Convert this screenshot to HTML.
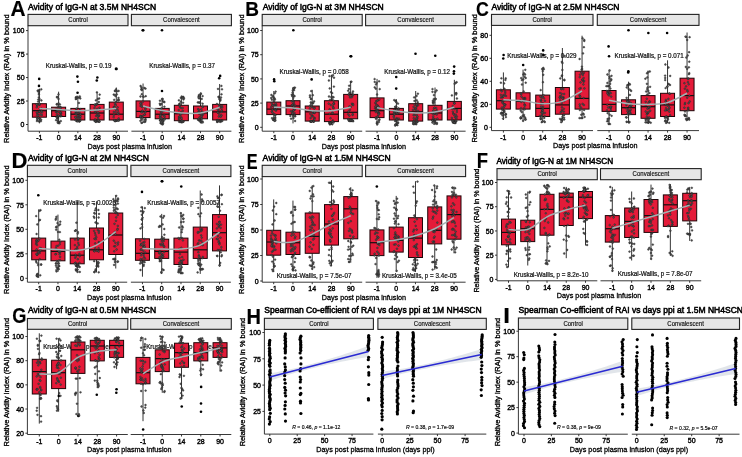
<!DOCTYPE html>
<html><head><meta charset="utf-8"><style>
html,body{margin:0;padding:0;background:#fff;width:742px;height:457px;overflow:hidden}
svg{display:block;font-family:"Liberation Sans", sans-serif;filter:blur(0.5px)}
text{fill:#000;stroke:#000;text-anchor:middle}
.L{font-size:20px;font-weight:bold;stroke-width:.15px}
.ti{font-size:9.2px;stroke-width:.55px}
.tk{font-size:7.5px;stroke-width:.4px}
.st{font-size:6.5px;stroke-width:.15px;fill:#111;stroke:#111}
.kw{font-size:6.75px;stroke-width:.22px;fill:#111;stroke:#111}
.yl{font-size:7.4px;stroke-width:.32px}
.xl{font-size:7.8px;stroke-width:.3px}
.rt{font-size:5.1px;stroke-width:.15px}
</style></head><body>
<svg width="742" height="457" viewBox="0 0 742 457">
<rect width="742" height="457" fill="#fff"/>
<text class="L" transform="matrix(1.0448 0 0 1.0688 10.48 15.80)" x="0" y="0" style="text-anchor:start">A</text>
<text class="ti" transform="matrix(0.9300 0 0 1.0000 28.0 10.0)" style="text-anchor:start">Avidity of IgG-N at 3.5M NH4SCN</text>
<rect x="28.00" y="14.40" width="100.00" height="11.30" fill="#e6e6e6" stroke="#222" stroke-width="1.1"/>
<text class="st" transform="matrix(.93 0 0 1 78.0 22.2)">Control</text>
<rect x="131.40" y="14.40" width="100.00" height="11.30" fill="#e6e6e6" stroke="#222" stroke-width="1.1"/>
<text class="st" transform="matrix(.93 0 0 1 181.4 22.2)">Convalescent</text>
<text class="yl" x="8.9" y="78.7" transform="rotate(-90 8.9 78.7)">Relative Avidity Index (RAI) in % bound</text>
<line x1="28.00" y1="25.70" x2="28.00" y2="131.20" stroke="#222" stroke-width="0.9"/>
<line x1="26.00" y1="124.50" x2="28.00" y2="124.50" stroke="#222" stroke-width="0.9"/>
<text class="tk" transform="matrix(.93 0 0 1 24.5 127.2)" style="text-anchor:end">0</text>
<line x1="26.00" y1="101.03" x2="28.00" y2="101.03" stroke="#222" stroke-width="0.9"/>
<text class="tk" transform="matrix(.93 0 0 1 24.5 103.7)" style="text-anchor:end">25</text>
<line x1="26.00" y1="77.55" x2="28.00" y2="77.55" stroke="#222" stroke-width="0.9"/>
<text class="tk" transform="matrix(.93 0 0 1 24.5 80.2)" style="text-anchor:end">50</text>
<line x1="26.00" y1="54.08" x2="28.00" y2="54.08" stroke="#222" stroke-width="0.9"/>
<text class="tk" transform="matrix(.93 0 0 1 24.5 56.8)" style="text-anchor:end">75</text>
<line x1="26.00" y1="30.60" x2="28.00" y2="30.60" stroke="#222" stroke-width="0.9"/>
<text class="tk" transform="matrix(.93 0 0 1 24.5 33.3)" style="text-anchor:end">100</text>
<line x1="28.00" y1="131.20" x2="128.00" y2="131.20" stroke="#222" stroke-width="0.9"/>
<line x1="39.40" y1="131.20" x2="39.40" y2="133.20" stroke="#222" stroke-width="0.9"/>
<text class="tk" transform="matrix(.93 0 0 1 39.4 140.4)">-1</text>
<line x1="58.62" y1="131.20" x2="58.62" y2="133.20" stroke="#222" stroke-width="0.9"/>
<text class="tk" transform="matrix(.93 0 0 1 58.6 140.4)">0</text>
<line x1="77.85" y1="131.20" x2="77.85" y2="133.20" stroke="#222" stroke-width="0.9"/>
<text class="tk" transform="matrix(.93 0 0 1 77.8 140.4)">14</text>
<line x1="97.08" y1="131.20" x2="97.08" y2="133.20" stroke="#222" stroke-width="0.9"/>
<text class="tk" transform="matrix(.93 0 0 1 97.1 140.4)">28</text>
<line x1="116.30" y1="131.20" x2="116.30" y2="133.20" stroke="#222" stroke-width="0.9"/>
<text class="tk" transform="matrix(.93 0 0 1 116.3 140.4)">90</text>
<line x1="131.40" y1="131.20" x2="231.40" y2="131.20" stroke="#222" stroke-width="0.9"/>
<line x1="143.05" y1="131.20" x2="143.05" y2="133.20" stroke="#222" stroke-width="0.9"/>
<text class="tk" transform="matrix(.93 0 0 1 143.1 140.4)">-1</text>
<line x1="162.20" y1="131.20" x2="162.20" y2="133.20" stroke="#222" stroke-width="0.9"/>
<text class="tk" transform="matrix(.93 0 0 1 162.2 140.4)">0</text>
<line x1="181.35" y1="131.20" x2="181.35" y2="133.20" stroke="#222" stroke-width="0.9"/>
<text class="tk" transform="matrix(.93 0 0 1 181.4 140.4)">14</text>
<line x1="200.50" y1="131.20" x2="200.50" y2="133.20" stroke="#222" stroke-width="0.9"/>
<text class="tk" transform="matrix(.93 0 0 1 200.5 140.4)">28</text>
<line x1="219.65" y1="131.20" x2="219.65" y2="133.20" stroke="#222" stroke-width="0.9"/>
<text class="tk" transform="matrix(.93 0 0 1 219.7 140.4)">90</text>
<text class="xl" transform="matrix(.93 0 0 1 129.7 148.8)">Days post plasma infusion</text>
<text class="kw" transform="matrix(.93 0 0 1 78.6 68.1)">Kruskal-Wallis, p = 0.19</text>
<line x1="39.40" y1="88.60" x2="39.40" y2="103.70" stroke="#000" stroke-width="0.8"/>
<line x1="39.40" y1="117.20" x2="39.40" y2="123.40" stroke="#000" stroke-width="0.8"/>
<rect x="32.40" y="103.70" width="14.00" height="13.50" fill="#e41b39" stroke="#1e0508" stroke-width="1.0"/>
<line x1="32.40" y1="110.70" x2="46.40" y2="110.70" stroke="#111" stroke-width="1.2"/>
<circle cx="39.19" cy="78.90" r="1.3" fill="#000"/>
<circle cx="38.98" cy="85.90" r="1.3" fill="#000"/>
<line x1="58.62" y1="91.70" x2="58.62" y2="107.20" stroke="#000" stroke-width="0.8"/>
<line x1="58.62" y1="116.50" x2="58.62" y2="123.40" stroke="#000" stroke-width="0.8"/>
<rect x="51.62" y="107.20" width="14.00" height="9.30" fill="#e41b39" stroke="#1e0508" stroke-width="1.0"/>
<line x1="51.62" y1="110.70" x2="65.62" y2="110.70" stroke="#111" stroke-width="1.2"/>
<line x1="77.85" y1="95.60" x2="77.85" y2="108.40" stroke="#000" stroke-width="0.8"/>
<line x1="77.85" y1="120.00" x2="77.85" y2="121.60" stroke="#000" stroke-width="0.8"/>
<rect x="70.85" y="108.40" width="14.00" height="11.60" fill="#e41b39" stroke="#1e0508" stroke-width="1.0"/>
<line x1="70.85" y1="114.20" x2="84.85" y2="114.20" stroke="#111" stroke-width="1.2"/>
<circle cx="77.38" cy="76.60" r="1.3" fill="#000"/>
<circle cx="77.92" cy="81.70" r="1.3" fill="#000"/>
<circle cx="77.55" cy="92.80" r="1.3" fill="#000"/>
<line x1="97.08" y1="92.10" x2="97.08" y2="104.40" stroke="#000" stroke-width="0.8"/>
<line x1="97.08" y1="120.00" x2="97.08" y2="122.00" stroke="#000" stroke-width="0.8"/>
<rect x="90.08" y="104.40" width="14.00" height="15.60" fill="#e41b39" stroke="#1e0508" stroke-width="1.0"/>
<line x1="90.08" y1="113.00" x2="104.08" y2="113.00" stroke="#111" stroke-width="1.2"/>
<circle cx="97.36" cy="77.50" r="1.3" fill="#000"/>
<circle cx="96.78" cy="80.50" r="1.3" fill="#000"/>
<line x1="116.30" y1="87.50" x2="116.30" y2="102.10" stroke="#000" stroke-width="0.8"/>
<line x1="116.30" y1="120.00" x2="116.30" y2="121.60" stroke="#000" stroke-width="0.8"/>
<rect x="109.30" y="102.10" width="14.00" height="17.90" fill="#e41b39" stroke="#1e0508" stroke-width="1.0"/>
<line x1="109.30" y1="114.20" x2="123.30" y2="114.20" stroke="#111" stroke-width="1.2"/>
<circle cx="116.54" cy="68.90" r="1.3" fill="#000"/>
<circle cx="115.98" cy="68.90" r="1.3" fill="#000"/>
<g fill="#555" stroke="#1a1a1a" stroke-width=".4"><circle cx="39.6" cy="104.7" r=".9"/><circle cx="39.4" cy="104.5" r=".9"/><circle cx="37.1" cy="119.9" r=".9"/><circle cx="41.2" cy="119.8" r=".9"/><circle cx="40.1" cy="118.6" r=".9"/><circle cx="38.8" cy="97.3" r=".9"/><circle cx="41.3" cy="89.3" r=".9"/><circle cx="37.3" cy="105.6" r=".9"/><circle cx="37.7" cy="114.7" r=".9"/><circle cx="38.7" cy="112.3" r=".9"/><circle cx="37.0" cy="104.5" r=".9"/><circle cx="39.0" cy="121.4" r=".9"/><circle cx="39.1" cy="111.6" r=".9"/><circle cx="40.5" cy="114.4" r=".9"/><circle cx="39.5" cy="120.8" r=".9"/><circle cx="38.3" cy="99.6" r=".9"/><circle cx="39.0" cy="90.4" r=".9"/><circle cx="39.3" cy="90.9" r=".9"/><circle cx="40.8" cy="121.3" r=".9"/><circle cx="38.4" cy="115.5" r=".9"/><circle cx="39.8" cy="111.7" r=".9"/><circle cx="41.8" cy="115.0" r=".9"/><circle cx="37.0" cy="112.7" r=".9"/><circle cx="42.1" cy="112.4" r=".9"/><circle cx="38.8" cy="92.9" r=".9"/><circle cx="39.2" cy="104.0" r=".9"/><circle cx="37.0" cy="117.9" r=".9"/><circle cx="38.0" cy="90.6" r=".9"/><circle cx="37.1" cy="115.5" r=".9"/><circle cx="41.5" cy="111.1" r=".9"/><circle cx="38.2" cy="101.6" r=".9"/><circle cx="41.5" cy="108.5" r=".9"/><circle cx="37.7" cy="90.9" r=".9"/><circle cx="39.3" cy="118.6" r=".9"/><circle cx="36.7" cy="107.2" r=".9"/><circle cx="39.8" cy="108.7" r=".9"/><circle cx="39.5" cy="99.0" r=".9"/><circle cx="37.0" cy="112.8" r=".9"/><circle cx="41.4" cy="100.4" r=".9"/><circle cx="38.9" cy="94.5" r=".9"/><circle cx="37.0" cy="121.1" r=".9"/><circle cx="37.6" cy="118.5" r=".9"/><circle cx="36.7" cy="104.4" r=".9"/><circle cx="38.7" cy="117.8" r=".9"/><circle cx="59.2" cy="122.5" r=".9"/><circle cx="57.8" cy="118.2" r=".9"/><circle cx="60.5" cy="108.3" r=".9"/><circle cx="58.5" cy="98.9" r=".9"/><circle cx="57.8" cy="117.2" r=".9"/><circle cx="56.8" cy="114.9" r=".9"/><circle cx="58.8" cy="123.1" r=".9"/><circle cx="56.1" cy="120.2" r=".9"/><circle cx="60.6" cy="116.3" r=".9"/><circle cx="57.9" cy="109.6" r=".9"/><circle cx="58.8" cy="121.8" r=".9"/><circle cx="57.1" cy="96.8" r=".9"/><circle cx="60.5" cy="107.0" r=".9"/><circle cx="59.9" cy="104.4" r=".9"/><circle cx="57.8" cy="120.1" r=".9"/><circle cx="57.4" cy="116.7" r=".9"/><circle cx="61.1" cy="113.6" r=".9"/><circle cx="61.3" cy="115.9" r=".9"/><circle cx="57.1" cy="97.4" r=".9"/><circle cx="57.0" cy="117.9" r=".9"/><circle cx="60.5" cy="115.6" r=".9"/><circle cx="60.2" cy="113.3" r=".9"/><circle cx="60.8" cy="121.1" r=".9"/><circle cx="58.5" cy="103.3" r=".9"/><circle cx="57.7" cy="121.9" r=".9"/><circle cx="58.1" cy="106.8" r=".9"/><circle cx="59.8" cy="116.0" r=".9"/><circle cx="56.7" cy="117.4" r=".9"/><circle cx="56.7" cy="104.2" r=".9"/><circle cx="59.5" cy="106.9" r=".9"/><circle cx="56.6" cy="112.3" r=".9"/><circle cx="59.4" cy="123.2" r=".9"/><circle cx="58.3" cy="115.9" r=".9"/><circle cx="57.1" cy="104.5" r=".9"/><circle cx="57.2" cy="109.9" r=".9"/><circle cx="58.2" cy="109.6" r=".9"/><circle cx="57.8" cy="122.8" r=".9"/><circle cx="60.8" cy="112.6" r=".9"/><circle cx="58.6" cy="115.7" r=".9"/><circle cx="56.0" cy="112.1" r=".9"/><circle cx="55.9" cy="108.9" r=".9"/><circle cx="58.5" cy="94.4" r=".9"/><circle cx="57.7" cy="112.4" r=".9"/><circle cx="60.2" cy="112.4" r=".9"/><circle cx="77.9" cy="117.4" r=".9"/><circle cx="80.1" cy="117.2" r=".9"/><circle cx="77.9" cy="115.5" r=".9"/><circle cx="77.6" cy="116.4" r=".9"/><circle cx="80.2" cy="113.9" r=".9"/><circle cx="80.2" cy="118.6" r=".9"/><circle cx="80.2" cy="114.9" r=".9"/><circle cx="75.8" cy="97.4" r=".9"/><circle cx="76.4" cy="109.2" r=".9"/><circle cx="79.4" cy="121.1" r=".9"/><circle cx="79.0" cy="97.6" r=".9"/><circle cx="79.9" cy="110.1" r=".9"/><circle cx="80.3" cy="98.4" r=".9"/><circle cx="80.5" cy="114.1" r=".9"/><circle cx="77.5" cy="97.7" r=".9"/><circle cx="76.2" cy="112.3" r=".9"/><circle cx="75.3" cy="116.8" r=".9"/><circle cx="75.2" cy="113.5" r=".9"/><circle cx="77.9" cy="115.6" r=".9"/><circle cx="79.4" cy="121.6" r=".9"/><circle cx="76.6" cy="96.9" r=".9"/><circle cx="76.6" cy="121.2" r=".9"/><circle cx="80.1" cy="120.7" r=".9"/><circle cx="76.0" cy="98.9" r=".9"/><circle cx="78.9" cy="102.9" r=".9"/><circle cx="78.9" cy="120.1" r=".9"/><circle cx="80.2" cy="109.2" r=".9"/><circle cx="75.6" cy="117.7" r=".9"/><circle cx="79.8" cy="96.5" r=".9"/><circle cx="78.1" cy="112.3" r=".9"/><circle cx="75.8" cy="99.0" r=".9"/><circle cx="75.7" cy="111.2" r=".9"/><circle cx="76.2" cy="120.1" r=".9"/><circle cx="79.3" cy="111.9" r=".9"/><circle cx="76.1" cy="114.2" r=".9"/><circle cx="76.5" cy="108.6" r=".9"/><circle cx="78.1" cy="121.2" r=".9"/><circle cx="80.2" cy="120.8" r=".9"/><circle cx="77.5" cy="121.3" r=".9"/><circle cx="77.3" cy="118.1" r=".9"/><circle cx="80.5" cy="116.4" r=".9"/><circle cx="79.0" cy="118.1" r=".9"/><circle cx="77.0" cy="113.1" r=".9"/><circle cx="75.5" cy="120.2" r=".9"/><circle cx="98.9" cy="120.2" r=".9"/><circle cx="95.9" cy="100.3" r=".9"/><circle cx="96.9" cy="120.6" r=".9"/><circle cx="95.8" cy="120.9" r=".9"/><circle cx="97.3" cy="104.1" r=".9"/><circle cx="96.0" cy="121.9" r=".9"/><circle cx="96.4" cy="104.4" r=".9"/><circle cx="95.5" cy="112.2" r=".9"/><circle cx="95.8" cy="104.5" r=".9"/><circle cx="94.6" cy="120.8" r=".9"/><circle cx="95.6" cy="120.6" r=".9"/><circle cx="98.4" cy="112.7" r=".9"/><circle cx="99.1" cy="115.6" r=".9"/><circle cx="99.7" cy="109.5" r=".9"/><circle cx="97.8" cy="121.4" r=".9"/><circle cx="99.2" cy="121.7" r=".9"/><circle cx="98.8" cy="115.8" r=".9"/><circle cx="97.1" cy="121.0" r=".9"/><circle cx="98.8" cy="102.0" r=".9"/><circle cx="98.1" cy="118.3" r=".9"/><circle cx="94.5" cy="108.0" r=".9"/><circle cx="94.9" cy="120.7" r=".9"/><circle cx="97.8" cy="99.0" r=".9"/><circle cx="97.0" cy="115.0" r=".9"/><circle cx="98.4" cy="121.6" r=".9"/><circle cx="97.9" cy="112.7" r=".9"/><circle cx="95.7" cy="121.5" r=".9"/><circle cx="98.3" cy="120.5" r=".9"/><circle cx="99.6" cy="121.5" r=".9"/><circle cx="97.0" cy="110.4" r=".9"/><circle cx="97.7" cy="116.4" r=".9"/><circle cx="95.2" cy="105.6" r=".9"/><circle cx="96.0" cy="116.0" r=".9"/><circle cx="94.7" cy="104.6" r=".9"/><circle cx="98.1" cy="114.9" r=".9"/><circle cx="97.2" cy="108.9" r=".9"/><circle cx="95.0" cy="111.7" r=".9"/><circle cx="99.7" cy="94.6" r=".9"/><circle cx="96.9" cy="92.3" r=".9"/><circle cx="96.8" cy="104.0" r=".9"/><circle cx="99.5" cy="107.7" r=".9"/><circle cx="95.1" cy="121.2" r=".9"/><circle cx="95.1" cy="119.3" r=".9"/><circle cx="99.2" cy="98.4" r=".9"/><circle cx="113.7" cy="94.6" r=".9"/><circle cx="116.0" cy="120.8" r=".9"/><circle cx="115.5" cy="104.6" r=".9"/><circle cx="113.6" cy="117.1" r=".9"/><circle cx="114.2" cy="99.8" r=".9"/><circle cx="118.5" cy="97.9" r=".9"/><circle cx="115.7" cy="108.8" r=".9"/><circle cx="115.5" cy="96.1" r=".9"/><circle cx="113.9" cy="107.0" r=".9"/><circle cx="115.1" cy="121.3" r=".9"/><circle cx="115.0" cy="91.1" r=".9"/><circle cx="115.6" cy="105.5" r=".9"/><circle cx="118.0" cy="100.4" r=".9"/><circle cx="118.7" cy="118.5" r=".9"/><circle cx="113.9" cy="115.0" r=".9"/><circle cx="117.7" cy="110.2" r=".9"/><circle cx="113.9" cy="107.2" r=".9"/><circle cx="116.1" cy="89.4" r=".9"/><circle cx="117.6" cy="107.4" r=".9"/><circle cx="117.1" cy="91.3" r=".9"/><circle cx="115.7" cy="112.1" r=".9"/><circle cx="114.7" cy="120.3" r=".9"/><circle cx="114.8" cy="94.8" r=".9"/><circle cx="116.0" cy="102.0" r=".9"/><circle cx="114.1" cy="120.3" r=".9"/><circle cx="114.9" cy="103.7" r=".9"/><circle cx="118.4" cy="112.3" r=".9"/><circle cx="115.8" cy="109.5" r=".9"/><circle cx="115.4" cy="108.8" r=".9"/><circle cx="118.8" cy="120.4" r=".9"/><circle cx="117.0" cy="120.8" r=".9"/><circle cx="115.1" cy="90.7" r=".9"/><circle cx="116.0" cy="120.6" r=".9"/><circle cx="118.3" cy="99.9" r=".9"/><circle cx="117.4" cy="120.1" r=".9"/><circle cx="116.8" cy="94.4" r=".9"/><circle cx="118.6" cy="120.6" r=".9"/><circle cx="118.9" cy="100.0" r=".9"/><circle cx="114.4" cy="120.2" r=".9"/><circle cx="118.7" cy="114.3" r=".9"/><circle cx="117.7" cy="113.7" r=".9"/><circle cx="113.8" cy="112.0" r=".9"/><circle cx="118.6" cy="90.9" r=".9"/><circle cx="114.3" cy="107.5" r=".9"/></g>
<path d="M39.40,108.40 C42.60,108.58 52.22,109.12 58.62,109.50 C65.03,109.88 71.44,110.62 77.85,110.70 C84.26,110.78 90.67,110.38 97.08,110.00 C103.48,109.62 113.10,108.67 116.30,108.40" fill="none" stroke="#a3b0b2" stroke-width="1.5"/>
<text class="kw" transform="matrix(.93 0 0 1 182.2 68.1)">Kruskal-Wallis, p = 0.37</text>
<line x1="143.05" y1="83.50" x2="143.05" y2="100.90" stroke="#000" stroke-width="0.8"/>
<line x1="143.05" y1="117.60" x2="143.05" y2="123.00" stroke="#000" stroke-width="0.8"/>
<rect x="136.05" y="100.90" width="14.00" height="16.70" fill="#e41b39" stroke="#1e0508" stroke-width="1.0"/>
<line x1="136.05" y1="111.40" x2="150.05" y2="111.40" stroke="#111" stroke-width="1.2"/>
<circle cx="142.75" cy="30.20" r="1.3" fill="#000"/>
<circle cx="143.21" cy="30.20" r="1.3" fill="#000"/>
<line x1="162.20" y1="97.90" x2="162.20" y2="108.40" stroke="#000" stroke-width="0.8"/>
<line x1="162.20" y1="118.80" x2="162.20" y2="124.60" stroke="#000" stroke-width="0.8"/>
<rect x="155.20" y="108.40" width="14.00" height="10.40" fill="#e41b39" stroke="#1e0508" stroke-width="1.0"/>
<line x1="155.20" y1="114.20" x2="169.20" y2="114.20" stroke="#111" stroke-width="1.2"/>
<circle cx="161.99" cy="91.00" r="1.3" fill="#000"/>
<circle cx="161.98" cy="30.20" r="1.3" fill="#000"/>
<line x1="181.35" y1="95.60" x2="181.35" y2="105.30" stroke="#000" stroke-width="0.8"/>
<line x1="181.35" y1="120.70" x2="181.35" y2="122.30" stroke="#000" stroke-width="0.8"/>
<rect x="174.35" y="105.30" width="14.00" height="15.40" fill="#e41b39" stroke="#1e0508" stroke-width="1.0"/>
<line x1="174.35" y1="113.70" x2="188.35" y2="113.70" stroke="#111" stroke-width="1.2"/>
<line x1="200.50" y1="93.30" x2="200.50" y2="106.00" stroke="#000" stroke-width="0.8"/>
<line x1="200.50" y1="118.80" x2="200.50" y2="123.00" stroke="#000" stroke-width="0.8"/>
<rect x="193.50" y="106.00" width="14.00" height="12.80" fill="#e41b39" stroke="#1e0508" stroke-width="1.0"/>
<line x1="193.50" y1="113.00" x2="207.50" y2="113.00" stroke="#111" stroke-width="1.2"/>
<line x1="219.65" y1="84.00" x2="219.65" y2="104.40" stroke="#000" stroke-width="0.8"/>
<line x1="219.65" y1="120.00" x2="219.65" y2="122.30" stroke="#000" stroke-width="0.8"/>
<rect x="212.65" y="104.40" width="14.00" height="15.60" fill="#e41b39" stroke="#1e0508" stroke-width="1.0"/>
<line x1="212.65" y1="111.90" x2="226.65" y2="111.90" stroke="#111" stroke-width="1.2"/>
<circle cx="220.18" cy="75.90" r="1.3" fill="#000"/>
<circle cx="219.18" cy="78.20" r="1.3" fill="#000"/>
<g fill="#555" stroke="#1a1a1a" stroke-width=".4"><circle cx="140.7" cy="102.8" r=".9"/><circle cx="142.4" cy="110.6" r=".9"/><circle cx="140.4" cy="120.8" r=".9"/><circle cx="145.5" cy="108.6" r=".9"/><circle cx="142.9" cy="115.7" r=".9"/><circle cx="145.5" cy="118.9" r=".9"/><circle cx="140.5" cy="106.0" r=".9"/><circle cx="142.6" cy="112.2" r=".9"/><circle cx="145.3" cy="112.0" r=".9"/><circle cx="142.2" cy="117.8" r=".9"/><circle cx="141.4" cy="112.3" r=".9"/><circle cx="143.1" cy="96.4" r=".9"/><circle cx="142.0" cy="122.8" r=".9"/><circle cx="141.5" cy="87.5" r=".9"/><circle cx="145.5" cy="88.6" r=".9"/><circle cx="141.6" cy="104.0" r=".9"/><circle cx="145.5" cy="112.0" r=".9"/><circle cx="141.5" cy="119.7" r=".9"/><circle cx="140.6" cy="86.0" r=".9"/><circle cx="145.2" cy="119.7" r=".9"/><circle cx="145.7" cy="96.2" r=".9"/><circle cx="141.4" cy="89.2" r=".9"/><circle cx="140.5" cy="96.5" r=".9"/><circle cx="142.4" cy="107.2" r=".9"/><circle cx="140.4" cy="103.7" r=".9"/><circle cx="145.5" cy="106.8" r=".9"/><circle cx="141.5" cy="122.8" r=".9"/><circle cx="144.8" cy="114.6" r=".9"/><circle cx="142.9" cy="101.7" r=".9"/><circle cx="141.4" cy="116.3" r=".9"/><circle cx="140.5" cy="115.9" r=".9"/><circle cx="144.5" cy="114.5" r=".9"/><circle cx="140.7" cy="117.8" r=".9"/><circle cx="144.4" cy="88.0" r=".9"/><circle cx="141.8" cy="89.4" r=".9"/><circle cx="141.8" cy="94.2" r=".9"/><circle cx="141.8" cy="106.2" r=".9"/><circle cx="145.3" cy="121.7" r=".9"/><circle cx="140.5" cy="116.7" r=".9"/><circle cx="145.5" cy="120.2" r=".9"/><circle cx="141.7" cy="90.2" r=".9"/><circle cx="145.4" cy="109.1" r=".9"/><circle cx="144.3" cy="121.9" r=".9"/><circle cx="143.6" cy="96.9" r=".9"/><circle cx="159.9" cy="116.5" r=".9"/><circle cx="160.8" cy="123.2" r=".9"/><circle cx="162.5" cy="119.0" r=".9"/><circle cx="164.3" cy="118.6" r=".9"/><circle cx="160.0" cy="100.7" r=".9"/><circle cx="163.3" cy="121.7" r=".9"/><circle cx="161.8" cy="110.8" r=".9"/><circle cx="163.5" cy="115.4" r=".9"/><circle cx="160.2" cy="104.9" r=".9"/><circle cx="162.6" cy="101.0" r=".9"/><circle cx="160.6" cy="116.1" r=".9"/><circle cx="160.3" cy="120.2" r=".9"/><circle cx="161.3" cy="104.0" r=".9"/><circle cx="162.2" cy="118.7" r=".9"/><circle cx="163.0" cy="123.5" r=".9"/><circle cx="162.1" cy="99.0" r=".9"/><circle cx="164.4" cy="106.7" r=".9"/><circle cx="160.1" cy="120.5" r=".9"/><circle cx="162.6" cy="124.4" r=".9"/><circle cx="164.2" cy="101.8" r=".9"/><circle cx="163.7" cy="111.1" r=".9"/><circle cx="162.7" cy="99.0" r=".9"/><circle cx="161.5" cy="110.7" r=".9"/><circle cx="160.9" cy="120.0" r=".9"/><circle cx="160.6" cy="115.2" r=".9"/><circle cx="163.2" cy="120.7" r=".9"/><circle cx="160.6" cy="120.6" r=".9"/><circle cx="159.8" cy="103.7" r=".9"/><circle cx="162.5" cy="121.1" r=".9"/><circle cx="160.4" cy="109.3" r=".9"/><circle cx="161.0" cy="112.7" r=".9"/><circle cx="161.2" cy="118.3" r=".9"/><circle cx="161.7" cy="112.1" r=".9"/><circle cx="161.5" cy="108.4" r=".9"/><circle cx="160.6" cy="123.0" r=".9"/><circle cx="161.8" cy="124.0" r=".9"/><circle cx="164.3" cy="102.2" r=".9"/><circle cx="159.6" cy="110.1" r=".9"/><circle cx="164.4" cy="115.1" r=".9"/><circle cx="161.5" cy="122.4" r=".9"/><circle cx="161.0" cy="109.9" r=".9"/><circle cx="160.1" cy="118.0" r=".9"/><circle cx="164.7" cy="116.8" r=".9"/><circle cx="164.6" cy="119.5" r=".9"/><circle cx="178.9" cy="100.3" r=".9"/><circle cx="183.5" cy="99.4" r=".9"/><circle cx="179.5" cy="118.0" r=".9"/><circle cx="180.8" cy="97.8" r=".9"/><circle cx="179.6" cy="103.6" r=".9"/><circle cx="181.4" cy="121.3" r=".9"/><circle cx="180.0" cy="107.2" r=".9"/><circle cx="178.9" cy="119.1" r=".9"/><circle cx="178.9" cy="117.0" r=".9"/><circle cx="181.9" cy="96.7" r=".9"/><circle cx="180.3" cy="115.0" r=".9"/><circle cx="180.9" cy="114.3" r=".9"/><circle cx="181.0" cy="112.2" r=".9"/><circle cx="181.3" cy="121.7" r=".9"/><circle cx="182.9" cy="121.9" r=".9"/><circle cx="181.2" cy="108.1" r=".9"/><circle cx="181.0" cy="120.9" r=".9"/><circle cx="181.4" cy="121.4" r=".9"/><circle cx="179.1" cy="121.7" r=".9"/><circle cx="181.4" cy="117.3" r=".9"/><circle cx="180.7" cy="121.5" r=".9"/><circle cx="183.3" cy="96.9" r=".9"/><circle cx="183.1" cy="102.7" r=".9"/><circle cx="181.3" cy="122.3" r=".9"/><circle cx="179.5" cy="104.5" r=".9"/><circle cx="179.0" cy="104.6" r=".9"/><circle cx="179.5" cy="116.9" r=".9"/><circle cx="183.1" cy="98.3" r=".9"/><circle cx="183.6" cy="121.5" r=".9"/><circle cx="181.4" cy="121.1" r=".9"/><circle cx="179.6" cy="105.9" r=".9"/><circle cx="182.3" cy="122.2" r=".9"/><circle cx="182.9" cy="97.2" r=".9"/><circle cx="182.1" cy="121.5" r=".9"/><circle cx="181.6" cy="118.7" r=".9"/><circle cx="179.2" cy="118.9" r=".9"/><circle cx="180.8" cy="101.7" r=".9"/><circle cx="184.0" cy="98.2" r=".9"/><circle cx="182.8" cy="110.8" r=".9"/><circle cx="182.7" cy="108.0" r=".9"/><circle cx="180.0" cy="122.0" r=".9"/><circle cx="181.8" cy="120.5" r=".9"/><circle cx="178.7" cy="110.1" r=".9"/><circle cx="182.0" cy="120.9" r=".9"/><circle cx="202.6" cy="112.6" r=".9"/><circle cx="201.3" cy="119.8" r=".9"/><circle cx="199.7" cy="118.8" r=".9"/><circle cx="199.0" cy="120.3" r=".9"/><circle cx="198.9" cy="113.5" r=".9"/><circle cx="198.5" cy="112.1" r=".9"/><circle cx="198.6" cy="96.4" r=".9"/><circle cx="202.5" cy="121.5" r=".9"/><circle cx="199.2" cy="98.4" r=".9"/><circle cx="200.8" cy="121.5" r=".9"/><circle cx="200.2" cy="114.3" r=".9"/><circle cx="199.1" cy="102.6" r=".9"/><circle cx="200.7" cy="93.9" r=".9"/><circle cx="198.1" cy="109.0" r=".9"/><circle cx="200.8" cy="93.5" r=".9"/><circle cx="198.9" cy="95.1" r=".9"/><circle cx="201.3" cy="112.5" r=".9"/><circle cx="199.5" cy="95.5" r=".9"/><circle cx="202.6" cy="106.6" r=".9"/><circle cx="197.8" cy="102.4" r=".9"/><circle cx="200.3" cy="102.8" r=".9"/><circle cx="199.0" cy="111.8" r=".9"/><circle cx="198.0" cy="119.8" r=".9"/><circle cx="201.6" cy="115.6" r=".9"/><circle cx="199.2" cy="102.3" r=".9"/><circle cx="202.1" cy="111.6" r=".9"/><circle cx="201.3" cy="109.4" r=".9"/><circle cx="202.6" cy="96.1" r=".9"/><circle cx="199.1" cy="119.9" r=".9"/><circle cx="201.8" cy="118.1" r=".9"/><circle cx="199.6" cy="117.3" r=".9"/><circle cx="201.2" cy="122.6" r=".9"/><circle cx="203.1" cy="114.5" r=".9"/><circle cx="201.6" cy="116.7" r=".9"/><circle cx="201.7" cy="98.9" r=".9"/><circle cx="198.9" cy="109.9" r=".9"/><circle cx="202.7" cy="107.0" r=".9"/><circle cx="198.4" cy="118.9" r=".9"/><circle cx="198.6" cy="97.7" r=".9"/><circle cx="201.5" cy="119.0" r=".9"/><circle cx="201.8" cy="114.9" r=".9"/><circle cx="199.8" cy="121.3" r=".9"/><circle cx="202.6" cy="103.7" r=".9"/><circle cx="202.7" cy="122.4" r=".9"/><circle cx="217.1" cy="120.3" r=".9"/><circle cx="220.4" cy="100.6" r=".9"/><circle cx="218.5" cy="96.9" r=".9"/><circle cx="221.0" cy="120.2" r=".9"/><circle cx="219.2" cy="120.7" r=".9"/><circle cx="218.5" cy="120.6" r=".9"/><circle cx="218.7" cy="110.1" r=".9"/><circle cx="221.5" cy="94.3" r=".9"/><circle cx="219.2" cy="104.9" r=".9"/><circle cx="218.8" cy="116.5" r=".9"/><circle cx="218.1" cy="112.8" r=".9"/><circle cx="221.4" cy="85.9" r=".9"/><circle cx="218.0" cy="120.0" r=".9"/><circle cx="217.0" cy="103.9" r=".9"/><circle cx="221.3" cy="112.1" r=".9"/><circle cx="218.8" cy="121.1" r=".9"/><circle cx="222.0" cy="89.3" r=".9"/><circle cx="220.7" cy="107.7" r=".9"/><circle cx="220.4" cy="106.1" r=".9"/><circle cx="220.7" cy="121.8" r=".9"/><circle cx="218.9" cy="96.8" r=".9"/><circle cx="221.8" cy="110.6" r=".9"/><circle cx="217.1" cy="122.0" r=".9"/><circle cx="221.8" cy="120.6" r=".9"/><circle cx="221.7" cy="110.3" r=".9"/><circle cx="219.8" cy="121.1" r=".9"/><circle cx="220.4" cy="99.4" r=".9"/><circle cx="217.8" cy="109.5" r=".9"/><circle cx="221.0" cy="97.5" r=".9"/><circle cx="221.1" cy="121.0" r=".9"/><circle cx="219.4" cy="106.4" r=".9"/><circle cx="218.0" cy="88.9" r=".9"/><circle cx="221.5" cy="115.4" r=".9"/><circle cx="218.3" cy="120.4" r=".9"/><circle cx="217.8" cy="112.5" r=".9"/><circle cx="222.2" cy="107.4" r=".9"/><circle cx="222.1" cy="106.0" r=".9"/><circle cx="222.3" cy="120.9" r=".9"/><circle cx="219.3" cy="99.0" r=".9"/><circle cx="217.5" cy="121.5" r=".9"/><circle cx="217.1" cy="120.9" r=".9"/><circle cx="220.7" cy="116.7" r=".9"/><circle cx="219.5" cy="114.3" r=".9"/><circle cx="219.1" cy="121.4" r=".9"/></g>
<path d="M143.05,106.00 C146.24,106.75 155.82,109.33 162.20,110.50 C168.58,111.67 174.97,112.58 181.35,113.00 C187.73,113.42 194.12,113.97 200.50,113.00 C206.88,112.03 216.46,108.17 219.65,107.20" fill="none" stroke="#a3b0b2" stroke-width="1.5"/>
<text class="L" transform="matrix(0.9508 0 0 1.0507 245.16 15.80)" x="0" y="0" style="text-anchor:start">B</text>
<text class="ti" transform="matrix(0.9300 0 0 1.0000 262.8 10.0)" style="text-anchor:start">Avidity of IgG-N at 3M NH4SCN</text>
<rect x="262.20" y="14.40" width="100.00" height="11.30" fill="#e6e6e6" stroke="#222" stroke-width="1.1"/>
<text class="st" transform="matrix(.93 0 0 1 312.2 22.2)">Control</text>
<rect x="365.60" y="14.40" width="100.00" height="11.30" fill="#e6e6e6" stroke="#222" stroke-width="1.1"/>
<text class="st" transform="matrix(.93 0 0 1 415.6 22.2)">Convalescent</text>
<text class="yl" x="243.6" y="78.7" transform="rotate(-90 243.6 78.7)">Relative Avidity Index (RAI) in % bound</text>
<line x1="262.20" y1="25.70" x2="262.20" y2="131.20" stroke="#222" stroke-width="0.9"/>
<line x1="260.20" y1="127.30" x2="262.20" y2="127.30" stroke="#222" stroke-width="0.9"/>
<text class="tk" transform="matrix(.93 0 0 1 258.7 130.0)" style="text-anchor:end">0</text>
<line x1="260.20" y1="103.10" x2="262.20" y2="103.10" stroke="#222" stroke-width="0.9"/>
<text class="tk" transform="matrix(.93 0 0 1 258.7 105.8)" style="text-anchor:end">25</text>
<line x1="260.20" y1="78.90" x2="262.20" y2="78.90" stroke="#222" stroke-width="0.9"/>
<text class="tk" transform="matrix(.93 0 0 1 258.7 81.6)" style="text-anchor:end">50</text>
<line x1="260.20" y1="54.70" x2="262.20" y2="54.70" stroke="#222" stroke-width="0.9"/>
<text class="tk" transform="matrix(.93 0 0 1 258.7 57.4)" style="text-anchor:end">75</text>
<line x1="260.20" y1="30.50" x2="262.20" y2="30.50" stroke="#222" stroke-width="0.9"/>
<text class="tk" transform="matrix(.93 0 0 1 258.7 33.2)" style="text-anchor:end">100</text>
<line x1="262.20" y1="131.20" x2="362.20" y2="131.20" stroke="#222" stroke-width="0.9"/>
<line x1="273.80" y1="131.20" x2="273.80" y2="133.20" stroke="#222" stroke-width="0.9"/>
<text class="tk" transform="matrix(.93 0 0 1 273.8 140.4)">-1</text>
<line x1="293.01" y1="131.20" x2="293.01" y2="133.20" stroke="#222" stroke-width="0.9"/>
<text class="tk" transform="matrix(.93 0 0 1 293.0 140.4)">0</text>
<line x1="312.23" y1="131.20" x2="312.23" y2="133.20" stroke="#222" stroke-width="0.9"/>
<text class="tk" transform="matrix(.93 0 0 1 312.2 140.4)">14</text>
<line x1="331.44" y1="131.20" x2="331.44" y2="133.20" stroke="#222" stroke-width="0.9"/>
<text class="tk" transform="matrix(.93 0 0 1 331.4 140.4)">28</text>
<line x1="350.65" y1="131.20" x2="350.65" y2="133.20" stroke="#222" stroke-width="0.9"/>
<text class="tk" transform="matrix(.93 0 0 1 350.6 140.4)">90</text>
<line x1="365.60" y1="131.20" x2="465.60" y2="131.20" stroke="#222" stroke-width="0.9"/>
<line x1="377.05" y1="131.20" x2="377.05" y2="133.20" stroke="#222" stroke-width="0.9"/>
<text class="tk" transform="matrix(.93 0 0 1 377.1 140.4)">-1</text>
<line x1="396.38" y1="131.20" x2="396.38" y2="133.20" stroke="#222" stroke-width="0.9"/>
<text class="tk" transform="matrix(.93 0 0 1 396.4 140.4)">0</text>
<line x1="415.70" y1="131.20" x2="415.70" y2="133.20" stroke="#222" stroke-width="0.9"/>
<text class="tk" transform="matrix(.93 0 0 1 415.7 140.4)">14</text>
<line x1="435.03" y1="131.20" x2="435.03" y2="133.20" stroke="#222" stroke-width="0.9"/>
<text class="tk" transform="matrix(.93 0 0 1 435.0 140.4)">28</text>
<line x1="454.35" y1="131.20" x2="454.35" y2="133.20" stroke="#222" stroke-width="0.9"/>
<text class="tk" transform="matrix(.93 0 0 1 454.4 140.4)">90</text>
<text class="xl" transform="matrix(.93 0 0 1 363.9 148.8)">Days post plasma infusion</text>
<text class="kw" transform="matrix(.93 0 0 1 314.2 74.1)">Kruskal-Wallis, p = 0.058</text>
<line x1="273.80" y1="91.00" x2="273.80" y2="102.10" stroke="#000" stroke-width="0.8"/>
<line x1="273.80" y1="114.60" x2="273.80" y2="121.10" stroke="#000" stroke-width="0.8"/>
<rect x="266.80" y="102.10" width="14.00" height="12.50" fill="#e41b39" stroke="#1e0508" stroke-width="1.0"/>
<line x1="266.80" y1="109.10" x2="280.80" y2="109.10" stroke="#111" stroke-width="1.2"/>
<circle cx="274.09" cy="79.40" r="1.3" fill="#000"/>
<circle cx="274.29" cy="81.20" r="1.3" fill="#000"/>
<line x1="293.01" y1="87.50" x2="293.01" y2="100.70" stroke="#000" stroke-width="0.8"/>
<line x1="293.01" y1="114.60" x2="293.01" y2="123.40" stroke="#000" stroke-width="0.8"/>
<rect x="286.01" y="100.70" width="14.00" height="13.90" fill="#e41b39" stroke="#1e0508" stroke-width="1.0"/>
<line x1="286.01" y1="106.00" x2="300.01" y2="106.00" stroke="#111" stroke-width="1.2"/>
<circle cx="293.35" cy="30.20" r="1.3" fill="#000"/>
<line x1="312.23" y1="89.80" x2="312.23" y2="106.00" stroke="#000" stroke-width="0.8"/>
<line x1="312.23" y1="121.10" x2="312.23" y2="121.60" stroke="#000" stroke-width="0.8"/>
<rect x="305.23" y="106.00" width="14.00" height="15.10" fill="#e41b39" stroke="#1e0508" stroke-width="1.0"/>
<line x1="305.23" y1="111.80" x2="319.23" y2="111.80" stroke="#111" stroke-width="1.2"/>
<circle cx="311.63" cy="79.40" r="1.3" fill="#000"/>
<line x1="331.44" y1="74.70" x2="331.44" y2="100.70" stroke="#000" stroke-width="0.8"/>
<line x1="331.44" y1="121.60" x2="331.44" y2="124.60" stroke="#000" stroke-width="0.8"/>
<rect x="324.44" y="100.70" width="14.00" height="20.90" fill="#e41b39" stroke="#1e0508" stroke-width="1.0"/>
<line x1="324.44" y1="114.20" x2="338.44" y2="114.20" stroke="#111" stroke-width="1.2"/>
<line x1="350.65" y1="81.20" x2="350.65" y2="94.40" stroke="#000" stroke-width="0.8"/>
<line x1="350.65" y1="118.80" x2="350.65" y2="121.60" stroke="#000" stroke-width="0.8"/>
<rect x="343.65" y="94.40" width="14.00" height="24.40" fill="#e41b39" stroke="#1e0508" stroke-width="1.0"/>
<line x1="343.65" y1="112.30" x2="357.65" y2="112.30" stroke="#111" stroke-width="1.2"/>
<circle cx="350.57" cy="56.20" r="1.3" fill="#000"/>
<circle cx="351.14" cy="56.20" r="1.3" fill="#000"/>
<g fill="#555" stroke="#1a1a1a" stroke-width=".4"><circle cx="275.1" cy="109.3" r=".9"/><circle cx="275.0" cy="105.0" r=".9"/><circle cx="274.9" cy="99.6" r=".9"/><circle cx="274.6" cy="98.5" r=".9"/><circle cx="274.5" cy="106.0" r=".9"/><circle cx="275.3" cy="117.3" r=".9"/><circle cx="272.5" cy="110.0" r=".9"/><circle cx="274.5" cy="107.8" r=".9"/><circle cx="276.1" cy="110.5" r=".9"/><circle cx="275.3" cy="118.9" r=".9"/><circle cx="276.4" cy="108.2" r=".9"/><circle cx="272.0" cy="118.1" r=".9"/><circle cx="273.9" cy="101.4" r=".9"/><circle cx="274.0" cy="118.3" r=".9"/><circle cx="274.6" cy="108.5" r=".9"/><circle cx="273.3" cy="96.8" r=".9"/><circle cx="274.8" cy="93.3" r=".9"/><circle cx="271.8" cy="111.6" r=".9"/><circle cx="271.4" cy="94.9" r=".9"/><circle cx="271.2" cy="107.1" r=".9"/><circle cx="274.9" cy="107.4" r=".9"/><circle cx="272.3" cy="105.4" r=".9"/><circle cx="273.9" cy="113.8" r=".9"/><circle cx="273.2" cy="119.8" r=".9"/><circle cx="275.3" cy="115.4" r=".9"/><circle cx="273.6" cy="98.0" r=".9"/><circle cx="276.3" cy="104.9" r=".9"/><circle cx="275.5" cy="110.1" r=".9"/><circle cx="272.7" cy="96.2" r=".9"/><circle cx="275.6" cy="103.7" r=".9"/><circle cx="272.5" cy="112.7" r=".9"/><circle cx="273.4" cy="105.3" r=".9"/><circle cx="275.0" cy="114.6" r=".9"/><circle cx="272.7" cy="105.2" r=".9"/><circle cx="274.5" cy="107.5" r=".9"/><circle cx="276.1" cy="106.6" r=".9"/><circle cx="275.6" cy="91.6" r=".9"/><circle cx="271.9" cy="99.7" r=".9"/><circle cx="271.2" cy="98.0" r=".9"/><circle cx="274.6" cy="120.8" r=".9"/><circle cx="271.9" cy="103.4" r=".9"/><circle cx="273.0" cy="119.6" r=".9"/><circle cx="275.4" cy="120.5" r=".9"/><circle cx="274.4" cy="120.4" r=".9"/><circle cx="294.6" cy="113.1" r=".9"/><circle cx="294.1" cy="90.1" r=".9"/><circle cx="292.7" cy="111.0" r=".9"/><circle cx="291.7" cy="94.8" r=".9"/><circle cx="293.0" cy="115.8" r=".9"/><circle cx="291.1" cy="118.7" r=".9"/><circle cx="293.2" cy="107.6" r=".9"/><circle cx="294.9" cy="87.6" r=".9"/><circle cx="293.9" cy="108.5" r=".9"/><circle cx="292.6" cy="92.4" r=".9"/><circle cx="293.8" cy="88.5" r=".9"/><circle cx="293.6" cy="101.1" r=".9"/><circle cx="292.1" cy="113.6" r=".9"/><circle cx="292.9" cy="94.2" r=".9"/><circle cx="294.2" cy="87.9" r=".9"/><circle cx="295.0" cy="105.4" r=".9"/><circle cx="293.2" cy="107.3" r=".9"/><circle cx="292.7" cy="90.3" r=".9"/><circle cx="294.8" cy="108.4" r=".9"/><circle cx="292.5" cy="112.2" r=".9"/><circle cx="293.0" cy="104.5" r=".9"/><circle cx="294.6" cy="96.1" r=".9"/><circle cx="291.9" cy="105.1" r=".9"/><circle cx="294.5" cy="109.5" r=".9"/><circle cx="295.1" cy="121.0" r=".9"/><circle cx="291.9" cy="101.4" r=".9"/><circle cx="295.3" cy="116.3" r=".9"/><circle cx="294.6" cy="109.8" r=".9"/><circle cx="293.6" cy="95.6" r=".9"/><circle cx="293.5" cy="110.4" r=".9"/><circle cx="293.9" cy="103.7" r=".9"/><circle cx="290.9" cy="111.3" r=".9"/><circle cx="294.5" cy="114.9" r=".9"/><circle cx="292.3" cy="96.2" r=".9"/><circle cx="293.3" cy="97.9" r=".9"/><circle cx="292.6" cy="104.9" r=".9"/><circle cx="293.8" cy="106.7" r=".9"/><circle cx="293.4" cy="88.2" r=".9"/><circle cx="294.7" cy="115.6" r=".9"/><circle cx="292.7" cy="113.5" r=".9"/><circle cx="293.5" cy="118.0" r=".9"/><circle cx="292.9" cy="100.4" r=".9"/><circle cx="293.8" cy="102.1" r=".9"/><circle cx="290.4" cy="115.9" r=".9"/><circle cx="314.7" cy="107.8" r=".9"/><circle cx="310.2" cy="121.5" r=".9"/><circle cx="310.8" cy="121.5" r=".9"/><circle cx="309.8" cy="108.8" r=".9"/><circle cx="314.1" cy="101.4" r=".9"/><circle cx="312.9" cy="107.3" r=".9"/><circle cx="314.6" cy="113.0" r=".9"/><circle cx="313.4" cy="120.6" r=".9"/><circle cx="313.0" cy="121.1" r=".9"/><circle cx="311.2" cy="91.1" r=".9"/><circle cx="314.2" cy="108.5" r=".9"/><circle cx="311.5" cy="106.9" r=".9"/><circle cx="313.2" cy="112.6" r=".9"/><circle cx="311.5" cy="121.5" r=".9"/><circle cx="311.8" cy="115.5" r=".9"/><circle cx="314.6" cy="117.9" r=".9"/><circle cx="311.1" cy="99.0" r=".9"/><circle cx="313.3" cy="121.6" r=".9"/><circle cx="312.8" cy="95.2" r=".9"/><circle cx="312.8" cy="103.3" r=".9"/><circle cx="314.3" cy="112.5" r=".9"/><circle cx="312.8" cy="116.3" r=".9"/><circle cx="311.1" cy="102.9" r=".9"/><circle cx="311.8" cy="121.2" r=".9"/><circle cx="314.3" cy="118.3" r=".9"/><circle cx="313.9" cy="121.5" r=".9"/><circle cx="311.0" cy="99.1" r=".9"/><circle cx="313.2" cy="102.9" r=".9"/><circle cx="310.0" cy="95.4" r=".9"/><circle cx="310.6" cy="118.0" r=".9"/><circle cx="310.8" cy="104.9" r=".9"/><circle cx="312.0" cy="116.2" r=".9"/><circle cx="313.6" cy="121.2" r=".9"/><circle cx="310.0" cy="97.2" r=".9"/><circle cx="310.8" cy="102.3" r=".9"/><circle cx="314.3" cy="119.5" r=".9"/><circle cx="312.7" cy="113.2" r=".9"/><circle cx="310.5" cy="121.2" r=".9"/><circle cx="312.6" cy="111.5" r=".9"/><circle cx="310.3" cy="113.8" r=".9"/><circle cx="311.5" cy="121.6" r=".9"/><circle cx="313.8" cy="121.4" r=".9"/><circle cx="311.4" cy="121.4" r=".9"/><circle cx="309.7" cy="106.3" r=".9"/><circle cx="331.4" cy="97.2" r=".9"/><circle cx="332.9" cy="106.2" r=".9"/><circle cx="332.9" cy="120.5" r=".9"/><circle cx="330.1" cy="99.8" r=".9"/><circle cx="329.7" cy="122.2" r=".9"/><circle cx="331.7" cy="121.8" r=".9"/><circle cx="333.9" cy="86.6" r=".9"/><circle cx="332.0" cy="76.4" r=".9"/><circle cx="333.9" cy="103.2" r=".9"/><circle cx="332.2" cy="112.5" r=".9"/><circle cx="330.9" cy="92.1" r=".9"/><circle cx="334.0" cy="104.0" r=".9"/><circle cx="328.9" cy="80.5" r=".9"/><circle cx="333.6" cy="108.1" r=".9"/><circle cx="329.0" cy="96.5" r=".9"/><circle cx="332.2" cy="93.1" r=".9"/><circle cx="329.5" cy="76.1" r=".9"/><circle cx="332.4" cy="99.1" r=".9"/><circle cx="332.8" cy="113.1" r=".9"/><circle cx="330.1" cy="122.6" r=".9"/><circle cx="329.6" cy="123.0" r=".9"/><circle cx="332.4" cy="122.0" r=".9"/><circle cx="329.8" cy="123.8" r=".9"/><circle cx="329.9" cy="124.4" r=".9"/><circle cx="333.5" cy="97.2" r=".9"/><circle cx="329.3" cy="122.9" r=".9"/><circle cx="332.1" cy="96.6" r=".9"/><circle cx="333.2" cy="107.8" r=".9"/><circle cx="329.5" cy="113.8" r=".9"/><circle cx="332.6" cy="121.8" r=".9"/><circle cx="333.4" cy="103.7" r=".9"/><circle cx="329.6" cy="109.3" r=".9"/><circle cx="330.5" cy="118.2" r=".9"/><circle cx="330.5" cy="123.1" r=".9"/><circle cx="334.0" cy="77.7" r=".9"/><circle cx="332.3" cy="124.3" r=".9"/><circle cx="330.3" cy="123.0" r=".9"/><circle cx="330.7" cy="104.9" r=".9"/><circle cx="333.7" cy="100.7" r=".9"/><circle cx="333.6" cy="122.5" r=".9"/><circle cx="330.3" cy="123.8" r=".9"/><circle cx="333.1" cy="75.1" r=".9"/><circle cx="328.7" cy="103.6" r=".9"/><circle cx="329.7" cy="88.4" r=".9"/><circle cx="348.7" cy="120.4" r=".9"/><circle cx="351.8" cy="121.0" r=".9"/><circle cx="348.4" cy="119.0" r=".9"/><circle cx="349.4" cy="106.5" r=".9"/><circle cx="351.8" cy="120.5" r=".9"/><circle cx="349.0" cy="88.9" r=".9"/><circle cx="350.2" cy="120.9" r=".9"/><circle cx="352.3" cy="95.8" r=".9"/><circle cx="352.6" cy="114.9" r=".9"/><circle cx="352.9" cy="94.8" r=".9"/><circle cx="349.4" cy="115.7" r=".9"/><circle cx="349.9" cy="121.1" r=".9"/><circle cx="351.2" cy="119.8" r=".9"/><circle cx="350.4" cy="120.3" r=".9"/><circle cx="351.8" cy="97.3" r=".9"/><circle cx="349.7" cy="92.6" r=".9"/><circle cx="352.0" cy="103.7" r=".9"/><circle cx="353.1" cy="121.2" r=".9"/><circle cx="350.8" cy="106.9" r=".9"/><circle cx="353.2" cy="94.9" r=".9"/><circle cx="348.5" cy="119.3" r=".9"/><circle cx="348.1" cy="114.3" r=".9"/><circle cx="349.0" cy="120.8" r=".9"/><circle cx="351.1" cy="120.5" r=".9"/><circle cx="348.5" cy="111.5" r=".9"/><circle cx="348.2" cy="90.7" r=".9"/><circle cx="350.7" cy="120.2" r=".9"/><circle cx="350.1" cy="97.4" r=".9"/><circle cx="352.6" cy="120.5" r=".9"/><circle cx="352.0" cy="120.4" r=".9"/><circle cx="353.0" cy="121.1" r=".9"/><circle cx="352.5" cy="104.7" r=".9"/><circle cx="353.0" cy="104.1" r=".9"/><circle cx="349.2" cy="85.7" r=".9"/><circle cx="353.2" cy="105.0" r=".9"/><circle cx="352.4" cy="93.2" r=".9"/><circle cx="350.7" cy="81.9" r=".9"/><circle cx="349.3" cy="93.5" r=".9"/><circle cx="349.9" cy="109.8" r=".9"/><circle cx="350.3" cy="96.1" r=".9"/><circle cx="348.7" cy="94.9" r=".9"/><circle cx="353.0" cy="91.5" r=".9"/><circle cx="352.7" cy="114.1" r=".9"/><circle cx="351.4" cy="81.7" r=".9"/></g>
<path d="M273.80,107.20 C277.00,107.33 286.61,107.42 293.01,108.00 C299.42,108.58 305.82,110.25 312.23,110.70 C318.63,111.15 325.03,111.28 331.44,110.70 C337.84,110.12 347.45,107.78 350.65,107.20" fill="none" stroke="#a3b0b2" stroke-width="1.5"/>
<text class="kw" transform="matrix(.93 0 0 1 417.2 74.1)">Kruskal-Wallis, p = 0.12</text>
<line x1="377.05" y1="78.90" x2="377.05" y2="97.90" stroke="#000" stroke-width="0.8"/>
<line x1="377.05" y1="117.60" x2="377.05" y2="125.80" stroke="#000" stroke-width="0.8"/>
<rect x="370.05" y="97.90" width="14.00" height="19.70" fill="#e41b39" stroke="#1e0508" stroke-width="1.0"/>
<line x1="370.05" y1="110.70" x2="384.05" y2="110.70" stroke="#111" stroke-width="1.2"/>
<line x1="396.38" y1="99.10" x2="396.38" y2="108.40" stroke="#000" stroke-width="0.8"/>
<line x1="396.38" y1="120.00" x2="396.38" y2="125.80" stroke="#000" stroke-width="0.8"/>
<rect x="389.38" y="108.40" width="14.00" height="11.60" fill="#e41b39" stroke="#1e0508" stroke-width="1.0"/>
<line x1="389.38" y1="114.20" x2="403.38" y2="114.20" stroke="#111" stroke-width="1.2"/>
<circle cx="396.24" cy="77.00" r="1.3" fill="#000"/>
<circle cx="396.20" cy="88.60" r="1.3" fill="#000"/>
<line x1="415.70" y1="91.00" x2="415.70" y2="103.70" stroke="#000" stroke-width="0.8"/>
<line x1="415.70" y1="121.10" x2="415.70" y2="124.60" stroke="#000" stroke-width="0.8"/>
<rect x="408.70" y="103.70" width="14.00" height="17.40" fill="#e41b39" stroke="#1e0508" stroke-width="1.0"/>
<line x1="408.70" y1="111.80" x2="422.70" y2="111.80" stroke="#111" stroke-width="1.2"/>
<circle cx="415.51" cy="53.80" r="1.3" fill="#000"/>
<line x1="435.03" y1="87.50" x2="435.03" y2="105.30" stroke="#000" stroke-width="0.8"/>
<line x1="435.03" y1="120.00" x2="435.03" y2="124.60" stroke="#000" stroke-width="0.8"/>
<rect x="428.03" y="105.30" width="14.00" height="14.70" fill="#e41b39" stroke="#1e0508" stroke-width="1.0"/>
<line x1="428.03" y1="113.00" x2="442.03" y2="113.00" stroke="#111" stroke-width="1.2"/>
<circle cx="435.27" cy="55.70" r="1.3" fill="#000"/>
<line x1="454.35" y1="79.80" x2="454.35" y2="101.40" stroke="#000" stroke-width="0.8"/>
<line x1="454.35" y1="120.00" x2="454.35" y2="123.00" stroke="#000" stroke-width="0.8"/>
<rect x="447.35" y="101.40" width="14.00" height="18.60" fill="#e41b39" stroke="#1e0508" stroke-width="1.0"/>
<line x1="447.35" y1="108.40" x2="461.35" y2="108.40" stroke="#111" stroke-width="1.2"/>
<circle cx="454.17" cy="66.60" r="1.3" fill="#000"/>
<circle cx="453.98" cy="71.20" r="1.3" fill="#000"/>
<circle cx="453.85" cy="73.60" r="1.3" fill="#000"/>
<g fill="#555" stroke="#1a1a1a" stroke-width=".4"><circle cx="375.8" cy="111.3" r=".9"/><circle cx="377.7" cy="116.1" r=".9"/><circle cx="376.7" cy="108.2" r=".9"/><circle cx="376.0" cy="84.4" r=".9"/><circle cx="377.6" cy="100.3" r=".9"/><circle cx="375.8" cy="88.7" r=".9"/><circle cx="375.2" cy="108.4" r=".9"/><circle cx="375.9" cy="118.7" r=".9"/><circle cx="375.7" cy="103.6" r=".9"/><circle cx="378.9" cy="122.1" r=".9"/><circle cx="377.9" cy="109.1" r=".9"/><circle cx="376.8" cy="123.4" r=".9"/><circle cx="376.9" cy="110.0" r=".9"/><circle cx="375.5" cy="102.7" r=".9"/><circle cx="377.5" cy="105.4" r=".9"/><circle cx="379.0" cy="120.5" r=".9"/><circle cx="377.0" cy="122.2" r=".9"/><circle cx="375.9" cy="117.4" r=".9"/><circle cx="374.7" cy="81.9" r=".9"/><circle cx="374.7" cy="87.3" r=".9"/><circle cx="378.3" cy="106.6" r=".9"/><circle cx="379.5" cy="119.4" r=".9"/><circle cx="376.2" cy="100.9" r=".9"/><circle cx="377.7" cy="111.2" r=".9"/><circle cx="377.1" cy="94.5" r=".9"/><circle cx="378.5" cy="112.5" r=".9"/><circle cx="378.2" cy="113.4" r=".9"/><circle cx="379.1" cy="81.3" r=".9"/><circle cx="377.5" cy="123.9" r=".9"/><circle cx="377.4" cy="116.9" r=".9"/><circle cx="379.1" cy="113.3" r=".9"/><circle cx="376.8" cy="105.4" r=".9"/><circle cx="375.9" cy="112.1" r=".9"/><circle cx="376.4" cy="108.8" r=".9"/><circle cx="378.9" cy="113.4" r=".9"/><circle cx="375.3" cy="106.6" r=".9"/><circle cx="377.5" cy="100.8" r=".9"/><circle cx="379.3" cy="99.6" r=".9"/><circle cx="378.9" cy="114.5" r=".9"/><circle cx="376.7" cy="82.8" r=".9"/><circle cx="374.6" cy="79.1" r=".9"/><circle cx="379.3" cy="107.7" r=".9"/><circle cx="379.7" cy="89.1" r=".9"/><circle cx="378.1" cy="108.1" r=".9"/><circle cx="398.8" cy="112.5" r=".9"/><circle cx="394.2" cy="114.5" r=".9"/><circle cx="396.7" cy="113.1" r=".9"/><circle cx="398.9" cy="118.6" r=".9"/><circle cx="397.0" cy="113.5" r=".9"/><circle cx="396.5" cy="102.3" r=".9"/><circle cx="395.4" cy="100.7" r=".9"/><circle cx="396.4" cy="106.8" r=".9"/><circle cx="397.4" cy="125.2" r=".9"/><circle cx="398.5" cy="108.3" r=".9"/><circle cx="395.2" cy="110.2" r=".9"/><circle cx="394.7" cy="114.3" r=".9"/><circle cx="396.9" cy="123.7" r=".9"/><circle cx="397.1" cy="119.9" r=".9"/><circle cx="397.9" cy="122.4" r=".9"/><circle cx="393.7" cy="116.4" r=".9"/><circle cx="396.8" cy="118.2" r=".9"/><circle cx="396.4" cy="110.7" r=".9"/><circle cx="397.2" cy="111.5" r=".9"/><circle cx="396.8" cy="120.0" r=".9"/><circle cx="394.5" cy="109.8" r=".9"/><circle cx="394.2" cy="100.1" r=".9"/><circle cx="398.1" cy="123.0" r=".9"/><circle cx="394.0" cy="117.8" r=".9"/><circle cx="395.4" cy="124.5" r=".9"/><circle cx="394.6" cy="112.5" r=".9"/><circle cx="398.6" cy="109.6" r=".9"/><circle cx="396.1" cy="112.4" r=".9"/><circle cx="398.5" cy="109.0" r=".9"/><circle cx="396.0" cy="119.5" r=".9"/><circle cx="393.9" cy="111.3" r=".9"/><circle cx="395.4" cy="107.0" r=".9"/><circle cx="395.3" cy="106.7" r=".9"/><circle cx="396.4" cy="119.5" r=".9"/><circle cx="395.8" cy="101.4" r=".9"/><circle cx="395.3" cy="111.0" r=".9"/><circle cx="398.0" cy="103.6" r=".9"/><circle cx="395.6" cy="121.0" r=".9"/><circle cx="395.2" cy="125.6" r=".9"/><circle cx="396.6" cy="109.7" r=".9"/><circle cx="394.0" cy="113.1" r=".9"/><circle cx="395.6" cy="124.8" r=".9"/><circle cx="395.2" cy="121.1" r=".9"/><circle cx="397.3" cy="120.2" r=".9"/><circle cx="413.5" cy="123.6" r=".9"/><circle cx="413.7" cy="118.2" r=".9"/><circle cx="417.3" cy="118.3" r=".9"/><circle cx="416.9" cy="122.3" r=".9"/><circle cx="414.1" cy="120.4" r=".9"/><circle cx="414.2" cy="97.4" r=".9"/><circle cx="416.8" cy="106.0" r=".9"/><circle cx="416.2" cy="119.4" r=".9"/><circle cx="416.3" cy="108.0" r=".9"/><circle cx="413.7" cy="124.2" r=".9"/><circle cx="414.5" cy="113.1" r=".9"/><circle cx="416.6" cy="95.9" r=".9"/><circle cx="415.1" cy="109.1" r=".9"/><circle cx="417.6" cy="121.7" r=".9"/><circle cx="413.6" cy="115.2" r=".9"/><circle cx="415.7" cy="110.0" r=".9"/><circle cx="414.7" cy="104.8" r=".9"/><circle cx="416.9" cy="121.5" r=".9"/><circle cx="417.9" cy="110.7" r=".9"/><circle cx="417.7" cy="102.2" r=".9"/><circle cx="413.2" cy="122.1" r=".9"/><circle cx="414.9" cy="115.2" r=".9"/><circle cx="416.8" cy="115.2" r=".9"/><circle cx="414.9" cy="124.1" r=".9"/><circle cx="413.6" cy="106.9" r=".9"/><circle cx="416.8" cy="100.3" r=".9"/><circle cx="413.9" cy="121.2" r=".9"/><circle cx="415.1" cy="122.2" r=".9"/><circle cx="416.4" cy="122.2" r=".9"/><circle cx="416.1" cy="124.0" r=".9"/><circle cx="415.3" cy="108.1" r=".9"/><circle cx="413.0" cy="109.8" r=".9"/><circle cx="414.5" cy="100.9" r=".9"/><circle cx="416.3" cy="124.1" r=".9"/><circle cx="413.6" cy="122.0" r=".9"/><circle cx="417.9" cy="93.7" r=".9"/><circle cx="416.8" cy="105.2" r=".9"/><circle cx="417.5" cy="116.7" r=".9"/><circle cx="418.1" cy="105.3" r=".9"/><circle cx="416.7" cy="119.9" r=".9"/><circle cx="416.4" cy="118.1" r=".9"/><circle cx="416.8" cy="104.6" r=".9"/><circle cx="418.0" cy="112.6" r=".9"/><circle cx="413.2" cy="123.8" r=".9"/><circle cx="435.3" cy="92.1" r=".9"/><circle cx="435.3" cy="98.8" r=".9"/><circle cx="434.3" cy="120.3" r=".9"/><circle cx="434.0" cy="108.3" r=".9"/><circle cx="435.9" cy="123.3" r=".9"/><circle cx="435.1" cy="121.1" r=".9"/><circle cx="434.2" cy="119.1" r=".9"/><circle cx="433.1" cy="118.3" r=".9"/><circle cx="436.7" cy="110.2" r=".9"/><circle cx="433.2" cy="116.5" r=".9"/><circle cx="434.8" cy="114.1" r=".9"/><circle cx="432.9" cy="102.3" r=".9"/><circle cx="433.4" cy="110.6" r=".9"/><circle cx="433.4" cy="121.3" r=".9"/><circle cx="432.9" cy="111.9" r=".9"/><circle cx="434.3" cy="112.2" r=".9"/><circle cx="432.4" cy="120.3" r=".9"/><circle cx="432.8" cy="100.9" r=".9"/><circle cx="435.4" cy="119.7" r=".9"/><circle cx="434.7" cy="122.2" r=".9"/><circle cx="432.4" cy="122.5" r=".9"/><circle cx="435.7" cy="99.0" r=".9"/><circle cx="433.7" cy="99.1" r=".9"/><circle cx="432.5" cy="120.6" r=".9"/><circle cx="433.9" cy="102.4" r=".9"/><circle cx="436.9" cy="122.9" r=".9"/><circle cx="436.6" cy="90.5" r=".9"/><circle cx="434.1" cy="100.7" r=".9"/><circle cx="434.1" cy="123.8" r=".9"/><circle cx="434.3" cy="113.4" r=".9"/><circle cx="432.5" cy="91.8" r=".9"/><circle cx="436.8" cy="114.5" r=".9"/><circle cx="437.4" cy="118.6" r=".9"/><circle cx="433.2" cy="112.6" r=".9"/><circle cx="432.8" cy="113.8" r=".9"/><circle cx="434.7" cy="107.7" r=".9"/><circle cx="432.5" cy="89.1" r=".9"/><circle cx="436.2" cy="108.1" r=".9"/><circle cx="436.9" cy="123.9" r=".9"/><circle cx="433.9" cy="95.1" r=".9"/><circle cx="434.6" cy="112.9" r=".9"/><circle cx="435.9" cy="111.7" r=".9"/><circle cx="433.2" cy="103.6" r=".9"/><circle cx="435.4" cy="111.8" r=".9"/><circle cx="456.9" cy="110.0" r=".9"/><circle cx="456.9" cy="98.5" r=".9"/><circle cx="456.0" cy="93.2" r=".9"/><circle cx="454.9" cy="122.0" r=".9"/><circle cx="456.8" cy="112.0" r=".9"/><circle cx="453.3" cy="113.4" r=".9"/><circle cx="451.8" cy="117.9" r=".9"/><circle cx="454.1" cy="122.0" r=".9"/><circle cx="453.7" cy="122.0" r=".9"/><circle cx="454.5" cy="109.1" r=".9"/><circle cx="452.3" cy="108.8" r=".9"/><circle cx="454.6" cy="122.7" r=".9"/><circle cx="453.0" cy="122.6" r=".9"/><circle cx="453.0" cy="121.6" r=".9"/><circle cx="452.9" cy="111.7" r=".9"/><circle cx="454.4" cy="103.5" r=".9"/><circle cx="453.9" cy="102.9" r=".9"/><circle cx="456.3" cy="121.3" r=".9"/><circle cx="455.7" cy="114.7" r=".9"/><circle cx="455.5" cy="123.0" r=".9"/><circle cx="453.8" cy="122.5" r=".9"/><circle cx="454.7" cy="122.9" r=".9"/><circle cx="455.8" cy="82.8" r=".9"/><circle cx="453.7" cy="120.7" r=".9"/><circle cx="452.8" cy="121.8" r=".9"/><circle cx="454.0" cy="114.6" r=".9"/><circle cx="456.4" cy="93.2" r=".9"/><circle cx="456.4" cy="118.5" r=".9"/><circle cx="453.5" cy="122.2" r=".9"/><circle cx="456.1" cy="94.5" r=".9"/><circle cx="455.6" cy="121.1" r=".9"/><circle cx="451.9" cy="95.4" r=".9"/><circle cx="454.6" cy="103.3" r=".9"/><circle cx="456.6" cy="82.2" r=".9"/><circle cx="452.7" cy="106.1" r=".9"/><circle cx="454.8" cy="117.0" r=".9"/><circle cx="452.2" cy="120.1" r=".9"/><circle cx="454.6" cy="83.8" r=".9"/><circle cx="453.7" cy="114.2" r=".9"/><circle cx="454.6" cy="122.6" r=".9"/><circle cx="456.8" cy="116.4" r=".9"/><circle cx="452.5" cy="121.0" r=".9"/><circle cx="456.0" cy="117.6" r=".9"/><circle cx="456.1" cy="120.5" r=".9"/></g>
<path d="M377.05,107.70 C380.27,108.25 389.93,110.12 396.38,111.00 C402.82,111.88 409.26,112.83 415.70,113.00 C422.14,113.17 428.58,112.97 435.03,112.00 C441.47,111.03 451.13,108.00 454.35,107.20" fill="none" stroke="#a3b0b2" stroke-width="1.5"/>
<text class="L" transform="matrix(0.8855 0 0 1.0423 476.09 15.59)" x="0" y="0" style="text-anchor:start">C</text>
<text class="ti" transform="matrix(0.9300 0 0 1.0000 491.4 10.0)" style="text-anchor:start">Avidity of IgG-N at 2.5M NH4SCN</text>
<rect x="491.50" y="14.40" width="101.50" height="11.00" fill="#e6e6e6" stroke="#222" stroke-width="1.1"/>
<text class="st" transform="matrix(.93 0 0 1 542.2 22.0)">Control</text>
<rect x="597.30" y="14.40" width="101.70" height="11.00" fill="#e6e6e6" stroke="#222" stroke-width="1.1"/>
<text class="st" transform="matrix(.93 0 0 1 648.1 22.0)">Convalescent</text>
<text class="yl" x="476.7" y="78.3" transform="rotate(-90 476.7 78.3)">Relative Avidity Index (RAI) in % bound</text>
<line x1="491.50" y1="25.40" x2="491.50" y2="130.60" stroke="#222" stroke-width="0.9"/>
<line x1="489.50" y1="127.30" x2="491.50" y2="127.30" stroke="#222" stroke-width="0.9"/>
<text class="tk" transform="matrix(.93 0 0 1 488.0 130.0)" style="text-anchor:end">0</text>
<line x1="489.50" y1="104.30" x2="491.50" y2="104.30" stroke="#222" stroke-width="0.9"/>
<text class="tk" transform="matrix(.93 0 0 1 488.0 107.0)" style="text-anchor:end">20</text>
<line x1="489.50" y1="81.30" x2="491.50" y2="81.30" stroke="#222" stroke-width="0.9"/>
<text class="tk" transform="matrix(.93 0 0 1 488.0 84.0)" style="text-anchor:end">40</text>
<line x1="489.50" y1="58.30" x2="491.50" y2="58.30" stroke="#222" stroke-width="0.9"/>
<text class="tk" transform="matrix(.93 0 0 1 488.0 61.0)" style="text-anchor:end">60</text>
<line x1="489.50" y1="35.30" x2="491.50" y2="35.30" stroke="#222" stroke-width="0.9"/>
<text class="tk" transform="matrix(.93 0 0 1 488.0 38.0)" style="text-anchor:end">80</text>
<line x1="491.50" y1="130.60" x2="593.00" y2="130.60" stroke="#222" stroke-width="0.9"/>
<line x1="503.40" y1="130.60" x2="503.40" y2="132.60" stroke="#222" stroke-width="0.9"/>
<text class="tk" transform="matrix(.93 0 0 1 503.4 139.8)">-1</text>
<line x1="523.06" y1="130.60" x2="523.06" y2="132.60" stroke="#222" stroke-width="0.9"/>
<text class="tk" transform="matrix(.93 0 0 1 523.1 139.8)">0</text>
<line x1="542.72" y1="130.60" x2="542.72" y2="132.60" stroke="#222" stroke-width="0.9"/>
<text class="tk" transform="matrix(.93 0 0 1 542.7 139.8)">14</text>
<line x1="562.39" y1="130.60" x2="562.39" y2="132.60" stroke="#222" stroke-width="0.9"/>
<text class="tk" transform="matrix(.93 0 0 1 562.4 139.8)">28</text>
<line x1="582.05" y1="130.60" x2="582.05" y2="132.60" stroke="#222" stroke-width="0.9"/>
<text class="tk" transform="matrix(.93 0 0 1 582.0 139.8)">90</text>
<line x1="597.30" y1="130.60" x2="699.00" y2="130.60" stroke="#222" stroke-width="0.9"/>
<line x1="609.05" y1="130.60" x2="609.05" y2="132.60" stroke="#222" stroke-width="0.9"/>
<text class="tk" transform="matrix(.93 0 0 1 609.0 139.8)">-1</text>
<line x1="628.55" y1="130.60" x2="628.55" y2="132.60" stroke="#222" stroke-width="0.9"/>
<text class="tk" transform="matrix(.93 0 0 1 628.5 139.8)">0</text>
<line x1="648.05" y1="130.60" x2="648.05" y2="132.60" stroke="#222" stroke-width="0.9"/>
<text class="tk" transform="matrix(.93 0 0 1 648.0 139.8)">14</text>
<line x1="667.55" y1="130.60" x2="667.55" y2="132.60" stroke="#222" stroke-width="0.9"/>
<text class="tk" transform="matrix(.93 0 0 1 667.5 139.8)">28</text>
<line x1="687.05" y1="130.60" x2="687.05" y2="132.60" stroke="#222" stroke-width="0.9"/>
<text class="tk" transform="matrix(.93 0 0 1 687.0 139.8)">90</text>
<text class="xl" transform="matrix(.93 0 0 1 595.2 148.2)">Days post plasma infusion</text>
<text class="kw" transform="matrix(.93 0 0 1 541.9 57.9)">Kruskal-Wallis, p = 0.029</text>
<line x1="503.40" y1="72.40" x2="503.40" y2="89.80" stroke="#000" stroke-width="0.8"/>
<line x1="503.40" y1="109.10" x2="503.40" y2="120.00" stroke="#000" stroke-width="0.8"/>
<rect x="496.40" y="89.80" width="14.00" height="19.30" fill="#e41b39" stroke="#1e0508" stroke-width="1.0"/>
<line x1="496.40" y1="100.70" x2="510.40" y2="100.70" stroke="#111" stroke-width="1.2"/>
<circle cx="503.62" cy="55.00" r="1.3" fill="#000"/>
<circle cx="503.27" cy="58.50" r="1.3" fill="#000"/>
<line x1="523.06" y1="69.60" x2="523.06" y2="92.80" stroke="#000" stroke-width="0.8"/>
<line x1="523.06" y1="109.10" x2="523.06" y2="121.10" stroke="#000" stroke-width="0.8"/>
<rect x="516.06" y="92.80" width="14.00" height="16.30" fill="#e41b39" stroke="#1e0508" stroke-width="1.0"/>
<line x1="516.06" y1="101.40" x2="530.06" y2="101.40" stroke="#111" stroke-width="1.2"/>
<circle cx="523.18" cy="65.00" r="1.3" fill="#000"/>
<line x1="542.72" y1="67.80" x2="542.72" y2="95.10" stroke="#000" stroke-width="0.8"/>
<line x1="542.72" y1="116.50" x2="542.72" y2="122.30" stroke="#000" stroke-width="0.8"/>
<rect x="535.72" y="95.10" width="14.00" height="21.40" fill="#e41b39" stroke="#1e0508" stroke-width="1.0"/>
<line x1="535.72" y1="108.40" x2="549.72" y2="108.40" stroke="#111" stroke-width="1.2"/>
<circle cx="543.18" cy="50.40" r="1.3" fill="#000"/>
<circle cx="543.30" cy="55.00" r="1.3" fill="#000"/>
<line x1="562.39" y1="48.00" x2="562.39" y2="87.50" stroke="#000" stroke-width="0.8"/>
<line x1="562.39" y1="114.20" x2="562.39" y2="122.30" stroke="#000" stroke-width="0.8"/>
<rect x="555.39" y="87.50" width="14.00" height="26.70" fill="#e41b39" stroke="#1e0508" stroke-width="1.0"/>
<line x1="555.39" y1="104.90" x2="569.39" y2="104.90" stroke="#111" stroke-width="1.2"/>
<line x1="582.05" y1="35.70" x2="582.05" y2="71.20" stroke="#000" stroke-width="0.8"/>
<line x1="582.05" y1="109.10" x2="582.05" y2="118.80" stroke="#000" stroke-width="0.8"/>
<rect x="575.05" y="71.20" width="14.00" height="37.90" fill="#e41b39" stroke="#1e0508" stroke-width="1.0"/>
<line x1="575.05" y1="98.40" x2="589.05" y2="98.40" stroke="#111" stroke-width="1.2"/>
<g fill="#555" stroke="#1a1a1a" stroke-width=".4"><circle cx="505.3" cy="92.9" r=".9"/><circle cx="504.0" cy="106.6" r=".9"/><circle cx="501.9" cy="112.7" r=".9"/><circle cx="500.9" cy="82.7" r=".9"/><circle cx="503.2" cy="113.0" r=".9"/><circle cx="502.6" cy="97.3" r=".9"/><circle cx="502.5" cy="115.4" r=".9"/><circle cx="506.0" cy="114.1" r=".9"/><circle cx="504.3" cy="110.7" r=".9"/><circle cx="503.4" cy="95.1" r=".9"/><circle cx="503.6" cy="100.8" r=".9"/><circle cx="500.9" cy="89.7" r=".9"/><circle cx="505.4" cy="104.7" r=".9"/><circle cx="504.1" cy="83.4" r=".9"/><circle cx="505.0" cy="95.2" r=".9"/><circle cx="504.4" cy="88.7" r=".9"/><circle cx="504.7" cy="104.5" r=".9"/><circle cx="502.6" cy="102.1" r=".9"/><circle cx="501.0" cy="97.6" r=".9"/><circle cx="506.0" cy="96.0" r=".9"/><circle cx="502.0" cy="96.9" r=".9"/><circle cx="501.4" cy="112.9" r=".9"/><circle cx="503.1" cy="118.6" r=".9"/><circle cx="502.3" cy="100.8" r=".9"/><circle cx="502.3" cy="109.8" r=".9"/><circle cx="503.7" cy="103.8" r=".9"/><circle cx="505.7" cy="78.3" r=".9"/><circle cx="501.7" cy="91.3" r=".9"/><circle cx="502.6" cy="108.9" r=".9"/><circle cx="505.4" cy="79.9" r=".9"/><circle cx="505.6" cy="114.4" r=".9"/><circle cx="500.8" cy="94.8" r=".9"/><circle cx="504.5" cy="112.0" r=".9"/><circle cx="501.8" cy="113.5" r=".9"/><circle cx="504.2" cy="106.5" r=".9"/><circle cx="505.9" cy="117.1" r=".9"/><circle cx="505.1" cy="91.3" r=".9"/><circle cx="501.4" cy="78.3" r=".9"/><circle cx="505.4" cy="115.0" r=".9"/><circle cx="501.8" cy="107.6" r=".9"/><circle cx="504.2" cy="104.3" r=".9"/><circle cx="502.5" cy="102.9" r=".9"/><circle cx="500.9" cy="113.6" r=".9"/><circle cx="503.4" cy="96.3" r=".9"/><circle cx="520.4" cy="100.4" r=".9"/><circle cx="525.7" cy="82.7" r=".9"/><circle cx="524.3" cy="116.5" r=".9"/><circle cx="521.2" cy="94.3" r=".9"/><circle cx="520.8" cy="118.3" r=".9"/><circle cx="523.3" cy="79.4" r=".9"/><circle cx="523.9" cy="101.8" r=".9"/><circle cx="524.4" cy="98.2" r=".9"/><circle cx="524.5" cy="104.4" r=".9"/><circle cx="524.5" cy="76.8" r=".9"/><circle cx="521.9" cy="80.1" r=".9"/><circle cx="521.1" cy="108.1" r=".9"/><circle cx="523.9" cy="114.8" r=".9"/><circle cx="525.7" cy="78.0" r=".9"/><circle cx="520.8" cy="118.2" r=".9"/><circle cx="520.7" cy="110.7" r=".9"/><circle cx="521.3" cy="101.9" r=".9"/><circle cx="521.2" cy="78.1" r=".9"/><circle cx="525.3" cy="118.0" r=".9"/><circle cx="524.6" cy="109.4" r=".9"/><circle cx="523.1" cy="120.9" r=".9"/><circle cx="524.7" cy="98.4" r=".9"/><circle cx="525.2" cy="98.1" r=".9"/><circle cx="520.7" cy="117.9" r=".9"/><circle cx="525.0" cy="99.4" r=".9"/><circle cx="522.6" cy="115.9" r=".9"/><circle cx="523.7" cy="91.5" r=".9"/><circle cx="521.8" cy="112.1" r=".9"/><circle cx="521.5" cy="96.6" r=".9"/><circle cx="522.0" cy="84.5" r=".9"/><circle cx="523.4" cy="74.6" r=".9"/><circle cx="525.1" cy="119.5" r=".9"/><circle cx="524.8" cy="105.1" r=".9"/><circle cx="523.0" cy="98.2" r=".9"/><circle cx="524.0" cy="73.3" r=".9"/><circle cx="523.5" cy="100.2" r=".9"/><circle cx="525.1" cy="74.5" r=".9"/><circle cx="525.0" cy="105.5" r=".9"/><circle cx="525.7" cy="119.5" r=".9"/><circle cx="521.0" cy="93.2" r=".9"/><circle cx="525.3" cy="69.8" r=".9"/><circle cx="520.9" cy="117.9" r=".9"/><circle cx="520.8" cy="117.3" r=".9"/><circle cx="524.2" cy="107.8" r=".9"/><circle cx="544.3" cy="117.9" r=".9"/><circle cx="542.8" cy="95.9" r=".9"/><circle cx="540.6" cy="119.0" r=".9"/><circle cx="541.7" cy="122.2" r=".9"/><circle cx="542.7" cy="71.1" r=".9"/><circle cx="541.0" cy="119.0" r=".9"/><circle cx="544.0" cy="98.3" r=".9"/><circle cx="541.9" cy="97.5" r=".9"/><circle cx="541.9" cy="114.8" r=".9"/><circle cx="544.8" cy="122.1" r=".9"/><circle cx="541.0" cy="100.9" r=".9"/><circle cx="540.3" cy="96.6" r=".9"/><circle cx="543.0" cy="103.8" r=".9"/><circle cx="543.7" cy="95.3" r=".9"/><circle cx="543.0" cy="106.7" r=".9"/><circle cx="544.7" cy="116.1" r=".9"/><circle cx="541.7" cy="103.6" r=".9"/><circle cx="542.1" cy="115.9" r=".9"/><circle cx="540.8" cy="103.9" r=".9"/><circle cx="543.3" cy="67.9" r=".9"/><circle cx="543.3" cy="74.8" r=".9"/><circle cx="541.1" cy="100.3" r=".9"/><circle cx="544.3" cy="121.4" r=".9"/><circle cx="543.8" cy="69.2" r=".9"/><circle cx="543.0" cy="108.9" r=".9"/><circle cx="540.0" cy="115.9" r=".9"/><circle cx="542.8" cy="113.4" r=".9"/><circle cx="541.3" cy="116.4" r=".9"/><circle cx="542.1" cy="111.0" r=".9"/><circle cx="542.9" cy="103.5" r=".9"/><circle cx="541.8" cy="109.6" r=".9"/><circle cx="541.2" cy="106.7" r=".9"/><circle cx="544.9" cy="100.8" r=".9"/><circle cx="542.8" cy="110.5" r=".9"/><circle cx="540.8" cy="99.8" r=".9"/><circle cx="542.9" cy="82.2" r=".9"/><circle cx="541.3" cy="112.5" r=".9"/><circle cx="542.5" cy="121.3" r=".9"/><circle cx="544.9" cy="112.8" r=".9"/><circle cx="542.1" cy="69.0" r=".9"/><circle cx="540.7" cy="90.1" r=".9"/><circle cx="540.6" cy="118.0" r=".9"/><circle cx="542.8" cy="112.3" r=".9"/><circle cx="542.2" cy="97.0" r=".9"/><circle cx="562.1" cy="75.5" r=".9"/><circle cx="563.8" cy="108.8" r=".9"/><circle cx="561.7" cy="119.7" r=".9"/><circle cx="561.7" cy="93.8" r=".9"/><circle cx="559.8" cy="97.7" r=".9"/><circle cx="560.0" cy="118.8" r=".9"/><circle cx="561.2" cy="120.0" r=".9"/><circle cx="564.2" cy="94.0" r=".9"/><circle cx="564.3" cy="119.4" r=".9"/><circle cx="564.0" cy="117.6" r=".9"/><circle cx="559.9" cy="97.4" r=".9"/><circle cx="563.5" cy="97.3" r=".9"/><circle cx="563.2" cy="98.4" r=".9"/><circle cx="561.8" cy="61.9" r=".9"/><circle cx="560.7" cy="112.2" r=".9"/><circle cx="561.7" cy="76.1" r=".9"/><circle cx="560.1" cy="96.3" r=".9"/><circle cx="562.5" cy="63.0" r=".9"/><circle cx="563.8" cy="111.6" r=".9"/><circle cx="562.2" cy="119.0" r=".9"/><circle cx="561.9" cy="109.9" r=".9"/><circle cx="562.1" cy="111.3" r=".9"/><circle cx="564.1" cy="101.2" r=".9"/><circle cx="561.9" cy="107.3" r=".9"/><circle cx="562.7" cy="119.7" r=".9"/><circle cx="560.3" cy="78.4" r=".9"/><circle cx="564.1" cy="114.8" r=".9"/><circle cx="563.8" cy="114.9" r=".9"/><circle cx="563.4" cy="89.0" r=".9"/><circle cx="560.0" cy="100.4" r=".9"/><circle cx="562.8" cy="98.7" r=".9"/><circle cx="564.4" cy="80.3" r=".9"/><circle cx="562.5" cy="116.9" r=".9"/><circle cx="561.2" cy="122.2" r=".9"/><circle cx="561.1" cy="95.9" r=".9"/><circle cx="562.4" cy="69.9" r=".9"/><circle cx="561.3" cy="88.9" r=".9"/><circle cx="564.3" cy="79.7" r=".9"/><circle cx="560.0" cy="92.9" r=".9"/><circle cx="562.2" cy="97.5" r=".9"/><circle cx="561.7" cy="103.1" r=".9"/><circle cx="564.7" cy="55.9" r=".9"/><circle cx="561.4" cy="88.9" r=".9"/><circle cx="562.7" cy="98.4" r=".9"/><circle cx="583.6" cy="81.6" r=".9"/><circle cx="583.7" cy="98.1" r=".9"/><circle cx="584.4" cy="88.4" r=".9"/><circle cx="579.7" cy="104.5" r=".9"/><circle cx="579.6" cy="95.4" r=".9"/><circle cx="582.6" cy="38.3" r=".9"/><circle cx="582.4" cy="118.0" r=".9"/><circle cx="583.0" cy="53.4" r=".9"/><circle cx="580.5" cy="82.4" r=".9"/><circle cx="584.3" cy="40.9" r=".9"/><circle cx="579.9" cy="110.1" r=".9"/><circle cx="581.6" cy="69.5" r=".9"/><circle cx="584.2" cy="81.0" r=".9"/><circle cx="579.7" cy="77.1" r=".9"/><circle cx="583.9" cy="72.8" r=".9"/><circle cx="582.5" cy="80.0" r=".9"/><circle cx="580.2" cy="92.4" r=".9"/><circle cx="583.9" cy="47.2" r=".9"/><circle cx="584.6" cy="116.9" r=".9"/><circle cx="581.4" cy="72.4" r=".9"/><circle cx="582.3" cy="79.7" r=".9"/><circle cx="583.3" cy="113.6" r=".9"/><circle cx="580.0" cy="96.9" r=".9"/><circle cx="584.3" cy="40.0" r=".9"/><circle cx="582.2" cy="69.0" r=".9"/><circle cx="583.4" cy="84.4" r=".9"/><circle cx="579.9" cy="106.4" r=".9"/><circle cx="582.6" cy="103.9" r=".9"/><circle cx="580.1" cy="74.6" r=".9"/><circle cx="583.9" cy="105.0" r=".9"/><circle cx="579.5" cy="118.1" r=".9"/><circle cx="581.2" cy="107.9" r=".9"/><circle cx="579.6" cy="59.0" r=".9"/><circle cx="580.7" cy="88.2" r=".9"/><circle cx="583.6" cy="78.0" r=".9"/><circle cx="582.4" cy="73.8" r=".9"/><circle cx="583.6" cy="114.5" r=".9"/><circle cx="579.5" cy="88.7" r=".9"/><circle cx="582.8" cy="74.9" r=".9"/><circle cx="581.3" cy="114.7" r=".9"/><circle cx="580.2" cy="96.3" r=".9"/><circle cx="581.1" cy="118.2" r=".9"/><circle cx="581.9" cy="66.7" r=".9"/><circle cx="584.1" cy="110.0" r=".9"/></g>
<path d="M503.40,99.80 C506.68,99.95 516.51,100.05 523.06,100.70 C529.62,101.35 536.17,103.58 542.72,103.70 C549.28,103.82 555.83,103.52 562.39,101.40 C568.94,99.28 578.77,92.73 582.05,91.00" fill="none" stroke="#a3b0b2" stroke-width="1.5"/>
<text class="kw" transform="matrix(.93 0 0 1 649.2 57.9)">Kruskal-Wallis, p = 0.071</text>
<line x1="609.05" y1="69.60" x2="609.05" y2="90.50" stroke="#000" stroke-width="0.8"/>
<line x1="609.05" y1="111.40" x2="609.05" y2="124.60" stroke="#000" stroke-width="0.8"/>
<rect x="602.05" y="90.50" width="14.00" height="20.90" fill="#e41b39" stroke="#1e0508" stroke-width="1.0"/>
<line x1="602.05" y1="104.40" x2="616.05" y2="104.40" stroke="#111" stroke-width="1.2"/>
<circle cx="608.59" cy="46.40" r="1.3" fill="#000"/>
<circle cx="609.05" cy="56.20" r="1.3" fill="#000"/>
<line x1="628.55" y1="81.70" x2="628.55" y2="99.80" stroke="#000" stroke-width="0.8"/>
<line x1="628.55" y1="114.60" x2="628.55" y2="123.40" stroke="#000" stroke-width="0.8"/>
<rect x="621.55" y="99.80" width="14.00" height="14.80" fill="#e41b39" stroke="#1e0508" stroke-width="1.0"/>
<line x1="621.55" y1="107.70" x2="635.55" y2="107.70" stroke="#111" stroke-width="1.2"/>
<circle cx="628.50" cy="30.20" r="1.3" fill="#000"/>
<circle cx="628.35" cy="71.20" r="1.3" fill="#000"/>
<circle cx="628.21" cy="72.40" r="1.3" fill="#000"/>
<line x1="648.05" y1="70.50" x2="648.05" y2="95.60" stroke="#000" stroke-width="0.8"/>
<line x1="648.05" y1="118.30" x2="648.05" y2="123.40" stroke="#000" stroke-width="0.8"/>
<rect x="641.05" y="95.60" width="14.00" height="22.70" fill="#e41b39" stroke="#1e0508" stroke-width="1.0"/>
<line x1="641.05" y1="106.70" x2="655.05" y2="106.70" stroke="#111" stroke-width="1.2"/>
<circle cx="648.36" cy="33.00" r="1.3" fill="#000"/>
<line x1="667.55" y1="60.30" x2="667.55" y2="93.30" stroke="#000" stroke-width="0.8"/>
<line x1="667.55" y1="116.50" x2="667.55" y2="123.00" stroke="#000" stroke-width="0.8"/>
<rect x="660.55" y="93.30" width="14.00" height="23.20" fill="#e41b39" stroke="#1e0508" stroke-width="1.0"/>
<line x1="660.55" y1="104.90" x2="674.55" y2="104.90" stroke="#111" stroke-width="1.2"/>
<circle cx="667.11" cy="33.00" r="1.3" fill="#000"/>
<line x1="687.05" y1="32.50" x2="687.05" y2="78.20" stroke="#000" stroke-width="0.8"/>
<line x1="687.05" y1="110.70" x2="687.05" y2="120.70" stroke="#000" stroke-width="0.8"/>
<rect x="680.05" y="78.20" width="14.00" height="32.50" fill="#e41b39" stroke="#1e0508" stroke-width="1.0"/>
<line x1="680.05" y1="95.60" x2="694.05" y2="95.60" stroke="#111" stroke-width="1.2"/>
<g fill="#555" stroke="#1a1a1a" stroke-width=".4"><circle cx="608.9" cy="93.0" r=".9"/><circle cx="609.1" cy="118.5" r=".9"/><circle cx="608.5" cy="94.6" r=".9"/><circle cx="607.6" cy="113.1" r=".9"/><circle cx="611.2" cy="80.1" r=".9"/><circle cx="609.0" cy="123.9" r=".9"/><circle cx="610.1" cy="81.5" r=".9"/><circle cx="607.2" cy="121.3" r=".9"/><circle cx="608.5" cy="91.1" r=".9"/><circle cx="611.2" cy="96.6" r=".9"/><circle cx="607.6" cy="119.0" r=".9"/><circle cx="610.2" cy="106.9" r=".9"/><circle cx="609.6" cy="114.6" r=".9"/><circle cx="609.7" cy="70.5" r=".9"/><circle cx="608.2" cy="107.5" r=".9"/><circle cx="611.3" cy="79.3" r=".9"/><circle cx="608.6" cy="123.8" r=".9"/><circle cx="607.7" cy="92.3" r=".9"/><circle cx="607.2" cy="104.7" r=".9"/><circle cx="607.4" cy="93.4" r=".9"/><circle cx="611.6" cy="115.8" r=".9"/><circle cx="608.9" cy="86.1" r=".9"/><circle cx="611.3" cy="106.8" r=".9"/><circle cx="607.4" cy="82.9" r=".9"/><circle cx="610.6" cy="108.2" r=".9"/><circle cx="608.2" cy="120.9" r=".9"/><circle cx="610.0" cy="124.1" r=".9"/><circle cx="610.8" cy="93.3" r=".9"/><circle cx="610.4" cy="88.5" r=".9"/><circle cx="609.5" cy="86.4" r=".9"/><circle cx="610.6" cy="107.7" r=".9"/><circle cx="611.5" cy="75.8" r=".9"/><circle cx="607.0" cy="110.3" r=".9"/><circle cx="607.7" cy="86.1" r=".9"/><circle cx="607.4" cy="74.5" r=".9"/><circle cx="609.0" cy="95.4" r=".9"/><circle cx="610.2" cy="83.9" r=".9"/><circle cx="610.6" cy="106.9" r=".9"/><circle cx="610.8" cy="110.2" r=".9"/><circle cx="609.9" cy="92.3" r=".9"/><circle cx="609.6" cy="76.7" r=".9"/><circle cx="606.4" cy="86.2" r=".9"/><circle cx="606.9" cy="90.8" r=".9"/><circle cx="609.6" cy="78.3" r=".9"/><circle cx="629.2" cy="112.3" r=".9"/><circle cx="627.3" cy="101.1" r=".9"/><circle cx="629.4" cy="106.3" r=".9"/><circle cx="629.5" cy="83.9" r=".9"/><circle cx="626.8" cy="121.8" r=".9"/><circle cx="627.8" cy="114.0" r=".9"/><circle cx="629.1" cy="122.4" r=".9"/><circle cx="628.5" cy="88.8" r=".9"/><circle cx="631.2" cy="90.9" r=".9"/><circle cx="626.7" cy="121.9" r=".9"/><circle cx="626.8" cy="99.8" r=".9"/><circle cx="630.2" cy="89.9" r=".9"/><circle cx="626.4" cy="105.0" r=".9"/><circle cx="628.6" cy="112.6" r=".9"/><circle cx="630.7" cy="113.5" r=".9"/><circle cx="629.2" cy="100.9" r=".9"/><circle cx="627.8" cy="114.0" r=".9"/><circle cx="627.9" cy="109.2" r=".9"/><circle cx="630.7" cy="109.8" r=".9"/><circle cx="631.1" cy="105.2" r=".9"/><circle cx="629.5" cy="121.9" r=".9"/><circle cx="629.9" cy="106.4" r=".9"/><circle cx="629.9" cy="94.9" r=".9"/><circle cx="626.6" cy="117.5" r=".9"/><circle cx="626.6" cy="97.8" r=".9"/><circle cx="626.1" cy="108.3" r=".9"/><circle cx="629.3" cy="110.9" r=".9"/><circle cx="627.4" cy="111.1" r=".9"/><circle cx="631.1" cy="106.0" r=".9"/><circle cx="629.5" cy="111.7" r=".9"/><circle cx="629.7" cy="114.1" r=".9"/><circle cx="626.7" cy="103.9" r=".9"/><circle cx="630.1" cy="112.0" r=".9"/><circle cx="628.6" cy="101.9" r=".9"/><circle cx="629.8" cy="84.6" r=".9"/><circle cx="626.1" cy="117.3" r=".9"/><circle cx="631.1" cy="105.5" r=".9"/><circle cx="627.5" cy="85.1" r=".9"/><circle cx="627.6" cy="85.3" r=".9"/><circle cx="627.3" cy="101.4" r=".9"/><circle cx="631.1" cy="105.5" r=".9"/><circle cx="630.8" cy="102.8" r=".9"/><circle cx="629.3" cy="112.2" r=".9"/><circle cx="626.7" cy="87.4" r=".9"/><circle cx="649.0" cy="108.3" r=".9"/><circle cx="647.3" cy="77.4" r=".9"/><circle cx="646.9" cy="83.8" r=".9"/><circle cx="649.5" cy="101.5" r=".9"/><circle cx="648.4" cy="122.5" r=".9"/><circle cx="646.8" cy="116.9" r=".9"/><circle cx="648.3" cy="118.7" r=".9"/><circle cx="647.6" cy="87.5" r=".9"/><circle cx="647.0" cy="73.3" r=".9"/><circle cx="648.8" cy="117.6" r=".9"/><circle cx="647.5" cy="113.2" r=".9"/><circle cx="647.2" cy="89.1" r=".9"/><circle cx="647.2" cy="113.9" r=".9"/><circle cx="648.2" cy="122.7" r=".9"/><circle cx="650.2" cy="110.8" r=".9"/><circle cx="645.7" cy="120.0" r=".9"/><circle cx="650.0" cy="107.0" r=".9"/><circle cx="647.5" cy="108.7" r=".9"/><circle cx="649.9" cy="101.8" r=".9"/><circle cx="646.2" cy="91.5" r=".9"/><circle cx="648.1" cy="112.7" r=".9"/><circle cx="649.4" cy="93.1" r=".9"/><circle cx="650.1" cy="86.8" r=".9"/><circle cx="649.2" cy="121.9" r=".9"/><circle cx="645.7" cy="101.8" r=".9"/><circle cx="646.8" cy="114.3" r=".9"/><circle cx="645.9" cy="119.4" r=".9"/><circle cx="649.7" cy="117.7" r=".9"/><circle cx="645.7" cy="111.5" r=".9"/><circle cx="645.4" cy="78.7" r=".9"/><circle cx="646.8" cy="98.7" r=".9"/><circle cx="648.3" cy="120.6" r=".9"/><circle cx="649.8" cy="71.5" r=".9"/><circle cx="648.7" cy="119.4" r=".9"/><circle cx="648.4" cy="103.1" r=".9"/><circle cx="646.5" cy="122.3" r=".9"/><circle cx="648.3" cy="90.8" r=".9"/><circle cx="645.5" cy="122.3" r=".9"/><circle cx="645.7" cy="105.2" r=".9"/><circle cx="648.5" cy="112.0" r=".9"/><circle cx="648.5" cy="107.2" r=".9"/><circle cx="650.7" cy="122.7" r=".9"/><circle cx="647.1" cy="94.6" r=".9"/><circle cx="647.9" cy="72.3" r=".9"/><circle cx="668.7" cy="109.1" r=".9"/><circle cx="665.9" cy="101.2" r=".9"/><circle cx="665.9" cy="99.9" r=".9"/><circle cx="667.2" cy="105.3" r=".9"/><circle cx="665.9" cy="121.1" r=".9"/><circle cx="668.6" cy="106.3" r=".9"/><circle cx="670.0" cy="85.0" r=".9"/><circle cx="668.7" cy="84.1" r=".9"/><circle cx="664.9" cy="117.8" r=".9"/><circle cx="668.3" cy="84.1" r=".9"/><circle cx="665.7" cy="101.5" r=".9"/><circle cx="666.5" cy="116.3" r=".9"/><circle cx="666.8" cy="117.6" r=".9"/><circle cx="667.3" cy="86.8" r=".9"/><circle cx="665.7" cy="117.2" r=".9"/><circle cx="670.2" cy="75.9" r=".9"/><circle cx="667.4" cy="86.5" r=".9"/><circle cx="665.4" cy="64.5" r=".9"/><circle cx="666.0" cy="105.1" r=".9"/><circle cx="669.8" cy="93.8" r=".9"/><circle cx="670.1" cy="115.2" r=".9"/><circle cx="666.9" cy="110.3" r=".9"/><circle cx="665.6" cy="88.1" r=".9"/><circle cx="668.0" cy="117.9" r=".9"/><circle cx="669.3" cy="93.5" r=".9"/><circle cx="665.1" cy="75.6" r=".9"/><circle cx="665.2" cy="77.9" r=".9"/><circle cx="669.6" cy="107.8" r=".9"/><circle cx="666.0" cy="108.1" r=".9"/><circle cx="666.9" cy="122.4" r=".9"/><circle cx="665.5" cy="120.3" r=".9"/><circle cx="668.0" cy="119.5" r=".9"/><circle cx="667.2" cy="109.7" r=".9"/><circle cx="665.1" cy="121.2" r=".9"/><circle cx="668.5" cy="102.6" r=".9"/><circle cx="668.4" cy="98.9" r=".9"/><circle cx="665.6" cy="104.2" r=".9"/><circle cx="665.2" cy="80.1" r=".9"/><circle cx="666.1" cy="122.9" r=".9"/><circle cx="669.3" cy="111.6" r=".9"/><circle cx="665.1" cy="110.5" r=".9"/><circle cx="669.2" cy="122.8" r=".9"/><circle cx="666.1" cy="116.8" r=".9"/><circle cx="668.5" cy="67.5" r=".9"/><circle cx="689.3" cy="61.7" r=".9"/><circle cx="684.4" cy="83.2" r=".9"/><circle cx="689.6" cy="37.2" r=".9"/><circle cx="688.7" cy="84.3" r=".9"/><circle cx="684.9" cy="115.8" r=".9"/><circle cx="689.3" cy="73.2" r=".9"/><circle cx="687.4" cy="119.2" r=".9"/><circle cx="687.7" cy="55.5" r=".9"/><circle cx="684.8" cy="104.2" r=".9"/><circle cx="685.9" cy="116.2" r=".9"/><circle cx="688.4" cy="78.4" r=".9"/><circle cx="688.7" cy="119.0" r=".9"/><circle cx="687.9" cy="82.2" r=".9"/><circle cx="684.9" cy="115.0" r=".9"/><circle cx="686.3" cy="57.5" r=".9"/><circle cx="688.9" cy="118.0" r=".9"/><circle cx="686.3" cy="37.1" r=".9"/><circle cx="685.1" cy="103.0" r=".9"/><circle cx="688.5" cy="110.0" r=".9"/><circle cx="685.0" cy="111.4" r=".9"/><circle cx="687.2" cy="97.7" r=".9"/><circle cx="687.6" cy="91.4" r=".9"/><circle cx="688.3" cy="108.0" r=".9"/><circle cx="688.9" cy="74.2" r=".9"/><circle cx="688.0" cy="79.2" r=".9"/><circle cx="689.1" cy="52.2" r=".9"/><circle cx="686.7" cy="120.1" r=".9"/><circle cx="686.0" cy="86.4" r=".9"/><circle cx="684.9" cy="88.7" r=".9"/><circle cx="687.9" cy="110.1" r=".9"/><circle cx="688.9" cy="67.3" r=".9"/><circle cx="685.8" cy="66.9" r=".9"/><circle cx="684.5" cy="114.8" r=".9"/><circle cx="689.3" cy="119.6" r=".9"/><circle cx="688.5" cy="103.2" r=".9"/><circle cx="687.2" cy="68.8" r=".9"/><circle cx="686.0" cy="119.0" r=".9"/><circle cx="687.3" cy="90.1" r=".9"/><circle cx="687.2" cy="39.9" r=".9"/><circle cx="689.4" cy="95.7" r=".9"/><circle cx="688.1" cy="107.9" r=".9"/><circle cx="685.5" cy="36.6" r=".9"/><circle cx="684.4" cy="107.7" r=".9"/><circle cx="689.7" cy="101.5" r=".9"/></g>
<path d="M609.05,100.20 C612.30,100.78 622.05,103.00 628.55,103.70 C635.05,104.40 641.55,104.58 648.05,104.40 C654.55,104.22 661.05,104.45 667.55,102.60 C674.05,100.75 683.80,94.85 687.05,93.30" fill="none" stroke="#a3b0b2" stroke-width="1.5"/>
<text class="L" transform="matrix(1.1057 0 0 1.1014 11.46 168.20)" x="0" y="0" style="text-anchor:start">D</text>
<text class="ti" transform="matrix(0.9300 0 0 1.0000 28.0 160.8)" style="text-anchor:start">Avidity of IgG-N at 2M NH4SCN</text>
<rect x="27.40" y="165.30" width="99.80" height="11.30" fill="#e6e6e6" stroke="#222" stroke-width="1.1"/>
<text class="st" transform="matrix(.93 0 0 1 77.3 173.0)">Control</text>
<rect x="130.90" y="165.30" width="100.00" height="11.30" fill="#e6e6e6" stroke="#222" stroke-width="1.1"/>
<text class="st" transform="matrix(.93 0 0 1 180.9 173.0)">Convalescent</text>
<text class="yl" x="9.2" y="229.7" transform="rotate(-90 9.2 229.7)">Relative Avidity Index (RAI) in % bound</text>
<line x1="27.40" y1="176.60" x2="27.40" y2="282.20" stroke="#222" stroke-width="0.9"/>
<line x1="25.40" y1="278.30" x2="27.40" y2="278.30" stroke="#222" stroke-width="0.9"/>
<text class="tk" transform="matrix(.93 0 0 1 23.9 281.0)" style="text-anchor:end">0</text>
<line x1="25.40" y1="253.80" x2="27.40" y2="253.80" stroke="#222" stroke-width="0.9"/>
<text class="tk" transform="matrix(.93 0 0 1 23.9 256.5)" style="text-anchor:end">25</text>
<line x1="25.40" y1="229.30" x2="27.40" y2="229.30" stroke="#222" stroke-width="0.9"/>
<text class="tk" transform="matrix(.93 0 0 1 23.9 232.0)" style="text-anchor:end">50</text>
<line x1="25.40" y1="204.80" x2="27.40" y2="204.80" stroke="#222" stroke-width="0.9"/>
<text class="tk" transform="matrix(.93 0 0 1 23.9 207.5)" style="text-anchor:end">75</text>
<line x1="25.40" y1="180.30" x2="27.40" y2="180.30" stroke="#222" stroke-width="0.9"/>
<text class="tk" transform="matrix(.93 0 0 1 23.9 183.0)" style="text-anchor:end">100</text>
<line x1="27.40" y1="282.20" x2="127.20" y2="282.20" stroke="#222" stroke-width="0.9"/>
<line x1="38.70" y1="282.20" x2="38.70" y2="284.20" stroke="#222" stroke-width="0.9"/>
<text class="tk" transform="matrix(.93 0 0 1 38.7 291.4)">-1</text>
<line x1="57.96" y1="282.20" x2="57.96" y2="284.20" stroke="#222" stroke-width="0.9"/>
<text class="tk" transform="matrix(.93 0 0 1 58.0 291.4)">0</text>
<line x1="77.22" y1="282.20" x2="77.22" y2="284.20" stroke="#222" stroke-width="0.9"/>
<text class="tk" transform="matrix(.93 0 0 1 77.2 291.4)">14</text>
<line x1="96.49" y1="282.20" x2="96.49" y2="284.20" stroke="#222" stroke-width="0.9"/>
<text class="tk" transform="matrix(.93 0 0 1 96.5 291.4)">28</text>
<line x1="115.75" y1="282.20" x2="115.75" y2="284.20" stroke="#222" stroke-width="0.9"/>
<text class="tk" transform="matrix(.93 0 0 1 115.8 291.4)">90</text>
<line x1="130.90" y1="282.20" x2="230.90" y2="282.20" stroke="#222" stroke-width="0.9"/>
<line x1="142.45" y1="282.20" x2="142.45" y2="284.20" stroke="#222" stroke-width="0.9"/>
<text class="tk" transform="matrix(.93 0 0 1 142.4 291.4)">-1</text>
<line x1="161.71" y1="282.20" x2="161.71" y2="284.20" stroke="#222" stroke-width="0.9"/>
<text class="tk" transform="matrix(.93 0 0 1 161.7 291.4)">0</text>
<line x1="180.97" y1="282.20" x2="180.97" y2="284.20" stroke="#222" stroke-width="0.9"/>
<text class="tk" transform="matrix(.93 0 0 1 181.0 291.4)">14</text>
<line x1="200.24" y1="282.20" x2="200.24" y2="284.20" stroke="#222" stroke-width="0.9"/>
<text class="tk" transform="matrix(.93 0 0 1 200.2 291.4)">28</text>
<line x1="219.50" y1="282.20" x2="219.50" y2="284.20" stroke="#222" stroke-width="0.9"/>
<text class="tk" transform="matrix(.93 0 0 1 219.5 291.4)">90</text>
<text class="xl" transform="matrix(.93 0 0 1 129.2 299.8)">Days post plasma infusion</text>
<text class="kw" transform="matrix(.93 0 0 1 79.7 205.1)">Kruskal-Wallis, p = 0.0026</text>
<line x1="38.70" y1="209.30" x2="38.70" y2="238.10" stroke="#000" stroke-width="0.8"/>
<line x1="38.70" y1="259.80" x2="38.70" y2="277.90" stroke="#000" stroke-width="0.8"/>
<rect x="31.70" y="238.10" width="14.00" height="21.70" fill="#e41b39" stroke="#1e0508" stroke-width="1.0"/>
<line x1="31.70" y1="250.90" x2="45.70" y2="250.90" stroke="#111" stroke-width="1.2"/>
<circle cx="38.31" cy="195.20" r="1.3" fill="#000"/>
<line x1="57.96" y1="214.60" x2="57.96" y2="241.10" stroke="#000" stroke-width="0.8"/>
<line x1="57.96" y1="260.80" x2="57.96" y2="272.00" stroke="#000" stroke-width="0.8"/>
<rect x="50.96" y="241.10" width="14.00" height="19.70" fill="#e41b39" stroke="#1e0508" stroke-width="1.0"/>
<line x1="50.96" y1="251.40" x2="64.96" y2="251.40" stroke="#111" stroke-width="1.2"/>
<line x1="77.22" y1="201.80" x2="77.22" y2="238.10" stroke="#000" stroke-width="0.8"/>
<line x1="77.22" y1="263.80" x2="77.22" y2="272.50" stroke="#000" stroke-width="0.8"/>
<rect x="70.22" y="238.10" width="14.00" height="25.70" fill="#e41b39" stroke="#1e0508" stroke-width="1.0"/>
<line x1="70.22" y1="255.20" x2="84.22" y2="255.20" stroke="#111" stroke-width="1.2"/>
<line x1="96.49" y1="201.30" x2="96.49" y2="228.00" stroke="#000" stroke-width="0.8"/>
<line x1="96.49" y1="259.80" x2="96.49" y2="272.50" stroke="#000" stroke-width="0.8"/>
<rect x="89.49" y="228.00" width="14.00" height="31.80" fill="#e41b39" stroke="#1e0508" stroke-width="1.0"/>
<line x1="89.49" y1="249.80" x2="103.49" y2="249.80" stroke="#111" stroke-width="1.2"/>
<line x1="115.75" y1="195.20" x2="115.75" y2="213.00" stroke="#000" stroke-width="0.8"/>
<line x1="115.75" y1="254.50" x2="115.75" y2="268.50" stroke="#000" stroke-width="0.8"/>
<rect x="108.75" y="213.00" width="14.00" height="41.50" fill="#e41b39" stroke="#1e0508" stroke-width="1.0"/>
<line x1="108.75" y1="235.00" x2="122.75" y2="235.00" stroke="#111" stroke-width="1.2"/>
<g fill="#555" stroke="#1a1a1a" stroke-width=".4"><circle cx="39.7" cy="253.0" r=".9"/><circle cx="37.3" cy="254.4" r=".9"/><circle cx="39.7" cy="238.7" r=".9"/><circle cx="41.2" cy="264.5" r=".9"/><circle cx="39.5" cy="250.9" r=".9"/><circle cx="37.6" cy="253.2" r=".9"/><circle cx="36.1" cy="261.0" r=".9"/><circle cx="36.6" cy="241.2" r=".9"/><circle cx="39.7" cy="259.1" r=".9"/><circle cx="37.0" cy="254.8" r=".9"/><circle cx="38.2" cy="265.3" r=".9"/><circle cx="39.9" cy="247.8" r=".9"/><circle cx="37.8" cy="276.7" r=".9"/><circle cx="40.5" cy="210.2" r=".9"/><circle cx="40.3" cy="275.3" r=".9"/><circle cx="36.1" cy="244.1" r=".9"/><circle cx="36.9" cy="276.2" r=".9"/><circle cx="39.6" cy="250.8" r=".9"/><circle cx="36.5" cy="262.4" r=".9"/><circle cx="39.5" cy="220.3" r=".9"/><circle cx="36.3" cy="242.9" r=".9"/><circle cx="36.7" cy="275.2" r=".9"/><circle cx="39.9" cy="219.8" r=".9"/><circle cx="37.4" cy="274.1" r=".9"/><circle cx="36.6" cy="249.5" r=".9"/><circle cx="37.5" cy="274.2" r=".9"/><circle cx="37.2" cy="254.7" r=".9"/><circle cx="38.1" cy="263.8" r=".9"/><circle cx="38.5" cy="252.0" r=".9"/><circle cx="39.6" cy="210.8" r=".9"/><circle cx="36.2" cy="216.1" r=".9"/><circle cx="38.5" cy="240.6" r=".9"/><circle cx="36.6" cy="240.1" r=".9"/><circle cx="37.2" cy="241.9" r=".9"/><circle cx="36.4" cy="240.7" r=".9"/><circle cx="41.1" cy="248.3" r=".9"/><circle cx="37.2" cy="239.7" r=".9"/><circle cx="40.7" cy="250.3" r=".9"/><circle cx="36.6" cy="234.0" r=".9"/><circle cx="37.3" cy="224.4" r=".9"/><circle cx="37.1" cy="275.5" r=".9"/><circle cx="41.0" cy="264.6" r=".9"/><circle cx="36.4" cy="254.0" r=".9"/><circle cx="37.1" cy="245.0" r=".9"/><circle cx="55.9" cy="248.2" r=".9"/><circle cx="56.2" cy="227.4" r=".9"/><circle cx="58.0" cy="268.1" r=".9"/><circle cx="59.3" cy="266.1" r=".9"/><circle cx="58.0" cy="245.7" r=".9"/><circle cx="56.0" cy="253.9" r=".9"/><circle cx="59.3" cy="239.7" r=".9"/><circle cx="60.1" cy="224.3" r=".9"/><circle cx="58.5" cy="263.3" r=".9"/><circle cx="56.4" cy="216.8" r=".9"/><circle cx="56.0" cy="265.7" r=".9"/><circle cx="58.4" cy="269.2" r=".9"/><circle cx="58.9" cy="225.3" r=".9"/><circle cx="56.5" cy="271.4" r=".9"/><circle cx="60.4" cy="251.2" r=".9"/><circle cx="58.6" cy="260.6" r=".9"/><circle cx="56.4" cy="270.1" r=".9"/><circle cx="56.5" cy="226.7" r=".9"/><circle cx="57.5" cy="223.1" r=".9"/><circle cx="55.4" cy="254.3" r=".9"/><circle cx="59.7" cy="244.3" r=".9"/><circle cx="56.7" cy="267.6" r=".9"/><circle cx="59.1" cy="252.2" r=".9"/><circle cx="55.9" cy="263.5" r=".9"/><circle cx="56.0" cy="218.6" r=".9"/><circle cx="60.0" cy="252.6" r=".9"/><circle cx="56.2" cy="263.4" r=".9"/><circle cx="57.5" cy="250.0" r=".9"/><circle cx="59.9" cy="232.1" r=".9"/><circle cx="60.3" cy="221.7" r=".9"/><circle cx="60.2" cy="242.1" r=".9"/><circle cx="56.8" cy="261.0" r=".9"/><circle cx="60.0" cy="260.1" r=".9"/><circle cx="59.8" cy="251.5" r=".9"/><circle cx="58.0" cy="231.9" r=".9"/><circle cx="58.8" cy="263.5" r=".9"/><circle cx="60.1" cy="256.9" r=".9"/><circle cx="55.7" cy="219.7" r=".9"/><circle cx="56.2" cy="229.7" r=".9"/><circle cx="56.5" cy="246.1" r=".9"/><circle cx="58.9" cy="251.4" r=".9"/><circle cx="58.6" cy="269.1" r=".9"/><circle cx="59.6" cy="254.3" r=".9"/><circle cx="58.9" cy="266.1" r=".9"/><circle cx="75.5" cy="254.7" r=".9"/><circle cx="75.8" cy="230.3" r=".9"/><circle cx="75.6" cy="262.7" r=".9"/><circle cx="79.4" cy="262.8" r=".9"/><circle cx="76.5" cy="270.2" r=".9"/><circle cx="75.2" cy="257.8" r=".9"/><circle cx="76.0" cy="265.7" r=".9"/><circle cx="76.7" cy="265.0" r=".9"/><circle cx="77.7" cy="240.1" r=".9"/><circle cx="76.4" cy="222.7" r=".9"/><circle cx="75.5" cy="249.3" r=".9"/><circle cx="78.2" cy="238.6" r=".9"/><circle cx="79.7" cy="267.0" r=".9"/><circle cx="78.0" cy="232.1" r=".9"/><circle cx="79.7" cy="256.2" r=".9"/><circle cx="76.1" cy="270.5" r=".9"/><circle cx="77.8" cy="259.2" r=".9"/><circle cx="77.7" cy="233.6" r=".9"/><circle cx="77.4" cy="263.9" r=".9"/><circle cx="74.9" cy="245.1" r=".9"/><circle cx="78.3" cy="265.3" r=".9"/><circle cx="76.0" cy="265.8" r=".9"/><circle cx="74.6" cy="263.5" r=".9"/><circle cx="79.8" cy="271.9" r=".9"/><circle cx="77.3" cy="266.7" r=".9"/><circle cx="77.1" cy="248.8" r=".9"/><circle cx="75.0" cy="239.5" r=".9"/><circle cx="77.9" cy="264.6" r=".9"/><circle cx="78.8" cy="244.9" r=".9"/><circle cx="77.2" cy="246.9" r=".9"/><circle cx="77.6" cy="271.9" r=".9"/><circle cx="78.3" cy="265.1" r=".9"/><circle cx="75.8" cy="256.5" r=".9"/><circle cx="75.0" cy="230.9" r=".9"/><circle cx="78.3" cy="243.0" r=".9"/><circle cx="75.8" cy="230.5" r=".9"/><circle cx="77.6" cy="269.6" r=".9"/><circle cx="77.7" cy="265.5" r=".9"/><circle cx="75.8" cy="269.3" r=".9"/><circle cx="77.4" cy="249.0" r=".9"/><circle cx="78.4" cy="238.9" r=".9"/><circle cx="78.0" cy="266.3" r=".9"/><circle cx="79.4" cy="253.9" r=".9"/><circle cx="78.1" cy="266.5" r=".9"/><circle cx="95.0" cy="233.0" r=".9"/><circle cx="97.7" cy="223.4" r=".9"/><circle cx="95.5" cy="222.5" r=".9"/><circle cx="94.1" cy="250.9" r=".9"/><circle cx="94.1" cy="230.8" r=".9"/><circle cx="98.8" cy="232.8" r=".9"/><circle cx="94.9" cy="213.6" r=".9"/><circle cx="96.6" cy="266.2" r=".9"/><circle cx="96.6" cy="250.8" r=".9"/><circle cx="94.2" cy="204.1" r=".9"/><circle cx="95.2" cy="243.4" r=".9"/><circle cx="95.5" cy="235.1" r=".9"/><circle cx="97.9" cy="250.7" r=".9"/><circle cx="98.8" cy="242.2" r=".9"/><circle cx="94.4" cy="217.8" r=".9"/><circle cx="95.3" cy="248.3" r=".9"/><circle cx="98.7" cy="272.3" r=".9"/><circle cx="97.1" cy="265.7" r=".9"/><circle cx="97.8" cy="230.2" r=".9"/><circle cx="94.3" cy="213.0" r=".9"/><circle cx="99.0" cy="231.0" r=".9"/><circle cx="97.9" cy="263.5" r=".9"/><circle cx="94.2" cy="261.2" r=".9"/><circle cx="98.3" cy="266.6" r=".9"/><circle cx="97.9" cy="262.0" r=".9"/><circle cx="94.5" cy="238.7" r=".9"/><circle cx="94.4" cy="272.1" r=".9"/><circle cx="98.6" cy="251.6" r=".9"/><circle cx="99.0" cy="213.9" r=".9"/><circle cx="96.3" cy="237.2" r=".9"/><circle cx="94.5" cy="251.3" r=".9"/><circle cx="94.4" cy="272.0" r=".9"/><circle cx="95.1" cy="210.3" r=".9"/><circle cx="99.1" cy="242.9" r=".9"/><circle cx="95.5" cy="270.7" r=".9"/><circle cx="95.6" cy="269.3" r=".9"/><circle cx="98.2" cy="265.1" r=".9"/><circle cx="93.8" cy="216.6" r=".9"/><circle cx="98.6" cy="217.5" r=".9"/><circle cx="98.4" cy="210.0" r=".9"/><circle cx="95.8" cy="208.4" r=".9"/><circle cx="95.8" cy="239.2" r=".9"/><circle cx="98.7" cy="262.7" r=".9"/><circle cx="98.6" cy="248.2" r=".9"/><circle cx="118.0" cy="199.5" r=".9"/><circle cx="117.0" cy="212.8" r=".9"/><circle cx="114.4" cy="209.7" r=".9"/><circle cx="117.6" cy="228.8" r=".9"/><circle cx="114.9" cy="262.0" r=".9"/><circle cx="117.6" cy="201.3" r=".9"/><circle cx="113.8" cy="210.8" r=".9"/><circle cx="116.7" cy="208.4" r=".9"/><circle cx="117.7" cy="215.0" r=".9"/><circle cx="114.9" cy="231.9" r=".9"/><circle cx="117.7" cy="209.1" r=".9"/><circle cx="114.4" cy="259.3" r=".9"/><circle cx="113.2" cy="259.1" r=".9"/><circle cx="113.4" cy="199.2" r=".9"/><circle cx="114.1" cy="264.9" r=".9"/><circle cx="117.4" cy="229.7" r=".9"/><circle cx="116.5" cy="200.7" r=".9"/><circle cx="117.9" cy="203.6" r=".9"/><circle cx="117.8" cy="225.9" r=".9"/><circle cx="116.2" cy="217.4" r=".9"/><circle cx="115.7" cy="204.4" r=".9"/><circle cx="116.6" cy="249.5" r=".9"/><circle cx="115.0" cy="259.6" r=".9"/><circle cx="113.7" cy="207.6" r=".9"/><circle cx="116.2" cy="195.8" r=".9"/><circle cx="115.4" cy="242.8" r=".9"/><circle cx="117.5" cy="261.8" r=".9"/><circle cx="114.3" cy="201.5" r=".9"/><circle cx="114.2" cy="246.3" r=".9"/><circle cx="115.4" cy="212.9" r=".9"/><circle cx="118.1" cy="242.5" r=".9"/><circle cx="114.8" cy="258.7" r=".9"/><circle cx="116.0" cy="220.8" r=".9"/><circle cx="113.8" cy="240.7" r=".9"/><circle cx="116.1" cy="213.0" r=".9"/><circle cx="118.0" cy="198.5" r=".9"/><circle cx="117.7" cy="244.5" r=".9"/><circle cx="114.2" cy="251.3" r=".9"/><circle cx="117.9" cy="261.5" r=".9"/><circle cx="115.8" cy="212.2" r=".9"/><circle cx="113.8" cy="205.2" r=".9"/><circle cx="115.3" cy="246.3" r=".9"/><circle cx="114.5" cy="223.8" r=".9"/><circle cx="115.6" cy="234.3" r=".9"/></g>
<path d="M38.70,248.60 C41.91,248.75 51.54,249.18 57.96,249.50 C64.38,249.82 70.80,251.23 77.22,250.50 C83.65,249.77 90.07,248.23 96.49,245.10 C102.91,241.97 112.54,233.93 115.75,231.70" fill="none" stroke="#a3b0b2" stroke-width="1.5"/>
<text class="kw" transform="matrix(.93 0 0 1 183.7 205.1)">Kruskal-Wallis, p = 0.0057</text>
<line x1="142.45" y1="206.40" x2="142.45" y2="238.80" stroke="#000" stroke-width="0.8"/>
<line x1="142.45" y1="260.30" x2="142.45" y2="276.70" stroke="#000" stroke-width="0.8"/>
<rect x="135.45" y="238.80" width="14.00" height="21.50" fill="#e41b39" stroke="#1e0508" stroke-width="1.0"/>
<line x1="135.45" y1="253.30" x2="149.45" y2="253.30" stroke="#111" stroke-width="1.2"/>
<circle cx="141.96" cy="191.90" r="1.3" fill="#000"/>
<line x1="161.71" y1="213.90" x2="161.71" y2="239.20" stroke="#000" stroke-width="0.8"/>
<line x1="161.71" y1="258.40" x2="161.71" y2="273.90" stroke="#000" stroke-width="0.8"/>
<rect x="154.71" y="239.20" width="14.00" height="19.20" fill="#e41b39" stroke="#1e0508" stroke-width="1.0"/>
<line x1="154.71" y1="251.40" x2="168.71" y2="251.40" stroke="#111" stroke-width="1.2"/>
<circle cx="161.77" cy="181.20" r="1.3" fill="#000"/>
<circle cx="162.22" cy="181.20" r="1.3" fill="#000"/>
<line x1="180.97" y1="212.30" x2="180.97" y2="238.10" stroke="#000" stroke-width="0.8"/>
<line x1="180.97" y1="264.50" x2="180.97" y2="273.90" stroke="#000" stroke-width="0.8"/>
<rect x="173.97" y="238.10" width="14.00" height="26.40" fill="#e41b39" stroke="#1e0508" stroke-width="1.0"/>
<line x1="173.97" y1="252.10" x2="187.97" y2="252.10" stroke="#111" stroke-width="1.2"/>
<circle cx="181.27" cy="186.50" r="1.3" fill="#000"/>
<line x1="200.24" y1="190.50" x2="200.24" y2="227.10" stroke="#000" stroke-width="0.8"/>
<line x1="200.24" y1="258.40" x2="200.24" y2="273.90" stroke="#000" stroke-width="0.8"/>
<rect x="193.24" y="227.10" width="14.00" height="31.30" fill="#e41b39" stroke="#1e0508" stroke-width="1.0"/>
<line x1="193.24" y1="249.80" x2="207.24" y2="249.80" stroke="#111" stroke-width="1.2"/>
<line x1="219.50" y1="185.40" x2="219.50" y2="214.60" stroke="#000" stroke-width="0.8"/>
<line x1="219.50" y1="250.90" x2="219.50" y2="266.20" stroke="#000" stroke-width="0.8"/>
<rect x="212.50" y="214.60" width="14.00" height="36.30" fill="#e41b39" stroke="#1e0508" stroke-width="1.0"/>
<line x1="212.50" y1="232.70" x2="226.50" y2="232.70" stroke="#111" stroke-width="1.2"/>
<g fill="#555" stroke="#1a1a1a" stroke-width=".4"><circle cx="143.6" cy="265.9" r=".9"/><circle cx="141.1" cy="243.9" r=".9"/><circle cx="143.0" cy="242.6" r=".9"/><circle cx="142.9" cy="212.9" r=".9"/><circle cx="143.6" cy="254.9" r=".9"/><circle cx="144.3" cy="244.7" r=".9"/><circle cx="144.8" cy="208.1" r=".9"/><circle cx="140.1" cy="240.7" r=".9"/><circle cx="140.5" cy="228.4" r=".9"/><circle cx="145.1" cy="252.5" r=".9"/><circle cx="141.1" cy="255.3" r=".9"/><circle cx="142.0" cy="262.9" r=".9"/><circle cx="140.6" cy="245.3" r=".9"/><circle cx="140.8" cy="261.7" r=".9"/><circle cx="140.7" cy="249.6" r=".9"/><circle cx="145.0" cy="248.3" r=".9"/><circle cx="142.3" cy="259.1" r=".9"/><circle cx="140.5" cy="270.0" r=".9"/><circle cx="143.5" cy="261.5" r=".9"/><circle cx="141.7" cy="219.5" r=".9"/><circle cx="143.5" cy="246.4" r=".9"/><circle cx="144.4" cy="242.1" r=".9"/><circle cx="144.3" cy="238.9" r=".9"/><circle cx="143.2" cy="246.4" r=".9"/><circle cx="142.1" cy="219.4" r=".9"/><circle cx="143.3" cy="250.7" r=".9"/><circle cx="140.5" cy="259.2" r=".9"/><circle cx="144.0" cy="257.1" r=".9"/><circle cx="141.6" cy="253.4" r=".9"/><circle cx="141.9" cy="224.2" r=".9"/><circle cx="144.6" cy="262.2" r=".9"/><circle cx="141.5" cy="207.3" r=".9"/><circle cx="141.7" cy="249.5" r=".9"/><circle cx="142.6" cy="217.7" r=".9"/><circle cx="142.3" cy="227.1" r=".9"/><circle cx="143.0" cy="247.1" r=".9"/><circle cx="141.8" cy="214.8" r=".9"/><circle cx="144.7" cy="246.6" r=".9"/><circle cx="141.5" cy="244.7" r=".9"/><circle cx="143.5" cy="211.6" r=".9"/><circle cx="140.1" cy="263.5" r=".9"/><circle cx="141.0" cy="211.2" r=".9"/><circle cx="143.7" cy="264.6" r=".9"/><circle cx="144.9" cy="258.4" r=".9"/><circle cx="161.4" cy="272.7" r=".9"/><circle cx="163.6" cy="270.0" r=".9"/><circle cx="163.7" cy="241.0" r=".9"/><circle cx="164.3" cy="229.0" r=".9"/><circle cx="159.7" cy="259.3" r=".9"/><circle cx="162.4" cy="269.4" r=".9"/><circle cx="160.0" cy="260.9" r=".9"/><circle cx="164.2" cy="252.1" r=".9"/><circle cx="161.4" cy="258.0" r=".9"/><circle cx="160.3" cy="244.1" r=".9"/><circle cx="162.8" cy="239.1" r=".9"/><circle cx="159.8" cy="261.2" r=".9"/><circle cx="159.3" cy="253.4" r=".9"/><circle cx="159.2" cy="252.3" r=".9"/><circle cx="162.1" cy="254.4" r=".9"/><circle cx="162.3" cy="256.1" r=".9"/><circle cx="164.1" cy="246.8" r=".9"/><circle cx="162.0" cy="237.0" r=".9"/><circle cx="161.1" cy="261.1" r=".9"/><circle cx="163.3" cy="239.3" r=".9"/><circle cx="159.0" cy="226.9" r=".9"/><circle cx="162.6" cy="224.4" r=".9"/><circle cx="161.2" cy="253.2" r=".9"/><circle cx="164.0" cy="238.1" r=".9"/><circle cx="161.0" cy="245.3" r=".9"/><circle cx="163.3" cy="256.6" r=".9"/><circle cx="164.4" cy="234.7" r=".9"/><circle cx="163.1" cy="245.3" r=".9"/><circle cx="159.9" cy="250.9" r=".9"/><circle cx="160.5" cy="226.3" r=".9"/><circle cx="164.0" cy="216.0" r=".9"/><circle cx="163.1" cy="217.7" r=".9"/><circle cx="162.2" cy="256.6" r=".9"/><circle cx="159.5" cy="257.1" r=".9"/><circle cx="160.5" cy="216.5" r=".9"/><circle cx="161.4" cy="271.9" r=".9"/><circle cx="163.0" cy="244.1" r=".9"/><circle cx="161.7" cy="241.1" r=".9"/><circle cx="162.5" cy="243.3" r=".9"/><circle cx="164.0" cy="246.3" r=".9"/><circle cx="161.3" cy="239.1" r=".9"/><circle cx="163.1" cy="254.7" r=".9"/><circle cx="161.2" cy="255.8" r=".9"/><circle cx="159.7" cy="225.9" r=".9"/><circle cx="178.6" cy="270.9" r=".9"/><circle cx="182.3" cy="226.3" r=".9"/><circle cx="180.3" cy="270.5" r=".9"/><circle cx="178.5" cy="272.2" r=".9"/><circle cx="182.9" cy="240.4" r=".9"/><circle cx="180.8" cy="213.2" r=".9"/><circle cx="182.2" cy="257.1" r=".9"/><circle cx="179.3" cy="262.7" r=".9"/><circle cx="178.9" cy="272.2" r=".9"/><circle cx="180.1" cy="269.2" r=".9"/><circle cx="180.8" cy="273.2" r=".9"/><circle cx="183.2" cy="218.8" r=".9"/><circle cx="181.6" cy="273.0" r=".9"/><circle cx="181.7" cy="232.2" r=".9"/><circle cx="180.7" cy="260.7" r=".9"/><circle cx="182.6" cy="273.1" r=".9"/><circle cx="179.5" cy="257.8" r=".9"/><circle cx="183.5" cy="259.8" r=".9"/><circle cx="182.0" cy="216.4" r=".9"/><circle cx="179.2" cy="248.8" r=".9"/><circle cx="180.9" cy="268.9" r=".9"/><circle cx="181.3" cy="247.8" r=".9"/><circle cx="179.2" cy="227.5" r=".9"/><circle cx="183.5" cy="221.8" r=".9"/><circle cx="181.4" cy="215.9" r=".9"/><circle cx="181.2" cy="222.2" r=".9"/><circle cx="179.4" cy="238.9" r=".9"/><circle cx="181.7" cy="267.2" r=".9"/><circle cx="182.0" cy="263.1" r=".9"/><circle cx="181.7" cy="263.2" r=".9"/><circle cx="181.9" cy="260.9" r=".9"/><circle cx="179.9" cy="254.1" r=".9"/><circle cx="183.5" cy="218.6" r=".9"/><circle cx="181.3" cy="264.6" r=".9"/><circle cx="178.9" cy="269.3" r=".9"/><circle cx="182.0" cy="229.6" r=".9"/><circle cx="181.9" cy="237.9" r=".9"/><circle cx="178.5" cy="238.1" r=".9"/><circle cx="180.0" cy="263.7" r=".9"/><circle cx="180.5" cy="238.3" r=".9"/><circle cx="182.7" cy="227.5" r=".9"/><circle cx="179.2" cy="266.4" r=".9"/><circle cx="183.3" cy="214.9" r=".9"/><circle cx="181.1" cy="261.3" r=".9"/><circle cx="199.7" cy="257.3" r=".9"/><circle cx="202.0" cy="229.2" r=".9"/><circle cx="201.6" cy="194.5" r=".9"/><circle cx="199.5" cy="231.7" r=".9"/><circle cx="202.9" cy="256.9" r=".9"/><circle cx="201.1" cy="213.3" r=".9"/><circle cx="200.5" cy="269.7" r=".9"/><circle cx="198.9" cy="255.3" r=".9"/><circle cx="198.3" cy="260.9" r=".9"/><circle cx="198.4" cy="252.2" r=".9"/><circle cx="200.6" cy="245.1" r=".9"/><circle cx="197.6" cy="244.1" r=".9"/><circle cx="198.8" cy="265.0" r=".9"/><circle cx="202.0" cy="199.4" r=".9"/><circle cx="200.1" cy="259.8" r=".9"/><circle cx="201.7" cy="237.6" r=".9"/><circle cx="202.0" cy="268.8" r=".9"/><circle cx="202.5" cy="242.8" r=".9"/><circle cx="197.9" cy="232.8" r=".9"/><circle cx="198.0" cy="263.5" r=".9"/><circle cx="199.2" cy="240.4" r=".9"/><circle cx="198.9" cy="256.4" r=".9"/><circle cx="199.3" cy="263.1" r=".9"/><circle cx="199.9" cy="216.3" r=".9"/><circle cx="198.2" cy="259.1" r=".9"/><circle cx="198.4" cy="214.2" r=".9"/><circle cx="200.3" cy="228.9" r=".9"/><circle cx="201.5" cy="230.3" r=".9"/><circle cx="198.4" cy="243.1" r=".9"/><circle cx="201.1" cy="240.7" r=".9"/><circle cx="197.6" cy="272.4" r=".9"/><circle cx="198.6" cy="264.6" r=".9"/><circle cx="202.9" cy="269.1" r=".9"/><circle cx="201.2" cy="235.4" r=".9"/><circle cx="201.3" cy="264.6" r=".9"/><circle cx="197.9" cy="232.0" r=".9"/><circle cx="202.5" cy="258.1" r=".9"/><circle cx="200.2" cy="266.2" r=".9"/><circle cx="200.2" cy="268.8" r=".9"/><circle cx="202.6" cy="201.2" r=".9"/><circle cx="198.3" cy="207.8" r=".9"/><circle cx="201.2" cy="231.1" r=".9"/><circle cx="202.8" cy="245.2" r=".9"/><circle cx="201.9" cy="269.5" r=".9"/><circle cx="217.1" cy="255.8" r=".9"/><circle cx="218.7" cy="240.8" r=".9"/><circle cx="220.6" cy="227.9" r=".9"/><circle cx="219.2" cy="250.1" r=".9"/><circle cx="220.7" cy="252.3" r=".9"/><circle cx="217.6" cy="204.0" r=".9"/><circle cx="217.4" cy="206.3" r=".9"/><circle cx="216.8" cy="239.0" r=".9"/><circle cx="221.5" cy="256.3" r=".9"/><circle cx="221.7" cy="194.7" r=".9"/><circle cx="220.0" cy="210.7" r=".9"/><circle cx="221.9" cy="204.2" r=".9"/><circle cx="219.6" cy="221.7" r=".9"/><circle cx="218.8" cy="226.8" r=".9"/><circle cx="218.0" cy="235.9" r=".9"/><circle cx="219.5" cy="232.9" r=".9"/><circle cx="217.8" cy="238.7" r=".9"/><circle cx="221.0" cy="224.6" r=".9"/><circle cx="219.6" cy="243.0" r=".9"/><circle cx="219.6" cy="265.1" r=".9"/><circle cx="219.0" cy="225.1" r=".9"/><circle cx="219.4" cy="244.3" r=".9"/><circle cx="219.2" cy="222.3" r=".9"/><circle cx="218.7" cy="225.7" r=".9"/><circle cx="217.9" cy="206.8" r=".9"/><circle cx="220.3" cy="262.9" r=".9"/><circle cx="220.5" cy="237.7" r=".9"/><circle cx="218.7" cy="216.8" r=".9"/><circle cx="219.6" cy="265.6" r=".9"/><circle cx="221.1" cy="249.7" r=".9"/><circle cx="217.4" cy="256.1" r=".9"/><circle cx="219.4" cy="206.9" r=".9"/><circle cx="219.4" cy="224.4" r=".9"/><circle cx="221.4" cy="247.1" r=".9"/><circle cx="219.1" cy="198.2" r=".9"/><circle cx="217.8" cy="250.0" r=".9"/><circle cx="221.8" cy="255.2" r=".9"/><circle cx="221.4" cy="195.1" r=".9"/><circle cx="217.8" cy="197.9" r=".9"/><circle cx="217.4" cy="196.3" r=".9"/><circle cx="218.9" cy="198.2" r=".9"/><circle cx="216.9" cy="223.9" r=".9"/><circle cx="216.9" cy="228.4" r=".9"/><circle cx="218.6" cy="242.2" r=".9"/></g>
<path d="M142.45,248.60 C145.66,248.67 155.29,248.92 161.71,249.00 C168.13,249.08 174.55,249.75 180.97,249.10 C187.40,248.45 193.82,247.92 200.24,245.10 C206.66,242.28 216.29,234.35 219.50,232.20" fill="none" stroke="#a3b0b2" stroke-width="1.5"/>
<text class="L" transform="matrix(0.8142 0 0 1.0652 246.64 168.50)" x="0" y="0" style="text-anchor:start">E</text>
<text class="ti" transform="matrix(0.9300 0 0 1.0000 262.6 160.8)" style="text-anchor:start">Avidity of IgG-N at 1.5M NH4SCN</text>
<rect x="262.20" y="165.30" width="100.00" height="11.30" fill="#e6e6e6" stroke="#222" stroke-width="1.1"/>
<text class="st" transform="matrix(.93 0 0 1 312.2 173.0)">Control</text>
<rect x="365.60" y="165.30" width="100.00" height="11.30" fill="#e6e6e6" stroke="#222" stroke-width="1.1"/>
<text class="st" transform="matrix(.93 0 0 1 415.6 173.0)">Convalescent</text>
<text class="yl" x="243.6" y="229.7" transform="rotate(-90 243.6 229.7)">Relative Avidity Index (RAI) in % bound</text>
<line x1="262.20" y1="176.60" x2="262.20" y2="282.20" stroke="#222" stroke-width="0.9"/>
<line x1="260.20" y1="281.00" x2="262.20" y2="281.00" stroke="#222" stroke-width="0.9"/>
<text class="tk" transform="matrix(.93 0 0 1 258.7 283.7)" style="text-anchor:end">0</text>
<line x1="260.20" y1="255.50" x2="262.20" y2="255.50" stroke="#222" stroke-width="0.9"/>
<text class="tk" transform="matrix(.93 0 0 1 258.7 258.2)" style="text-anchor:end">25</text>
<line x1="260.20" y1="230.00" x2="262.20" y2="230.00" stroke="#222" stroke-width="0.9"/>
<text class="tk" transform="matrix(.93 0 0 1 258.7 232.7)" style="text-anchor:end">50</text>
<line x1="260.20" y1="204.50" x2="262.20" y2="204.50" stroke="#222" stroke-width="0.9"/>
<text class="tk" transform="matrix(.93 0 0 1 258.7 207.2)" style="text-anchor:end">75</text>
<line x1="260.20" y1="179.00" x2="262.20" y2="179.00" stroke="#222" stroke-width="0.9"/>
<text class="tk" transform="matrix(.93 0 0 1 258.7 181.7)" style="text-anchor:end">100</text>
<line x1="262.20" y1="282.20" x2="362.20" y2="282.20" stroke="#222" stroke-width="0.9"/>
<line x1="273.70" y1="282.20" x2="273.70" y2="284.20" stroke="#222" stroke-width="0.9"/>
<text class="tk" transform="matrix(.93 0 0 1 273.7 291.4)">-1</text>
<line x1="292.96" y1="282.20" x2="292.96" y2="284.20" stroke="#222" stroke-width="0.9"/>
<text class="tk" transform="matrix(.93 0 0 1 293.0 291.4)">0</text>
<line x1="312.23" y1="282.20" x2="312.23" y2="284.20" stroke="#222" stroke-width="0.9"/>
<text class="tk" transform="matrix(.93 0 0 1 312.2 291.4)">14</text>
<line x1="331.49" y1="282.20" x2="331.49" y2="284.20" stroke="#222" stroke-width="0.9"/>
<text class="tk" transform="matrix(.93 0 0 1 331.5 291.4)">28</text>
<line x1="350.75" y1="282.20" x2="350.75" y2="284.20" stroke="#222" stroke-width="0.9"/>
<text class="tk" transform="matrix(.93 0 0 1 350.8 291.4)">90</text>
<line x1="365.60" y1="282.20" x2="465.60" y2="282.20" stroke="#222" stroke-width="0.9"/>
<line x1="376.95" y1="282.20" x2="376.95" y2="284.20" stroke="#222" stroke-width="0.9"/>
<text class="tk" transform="matrix(.93 0 0 1 376.9 291.4)">-1</text>
<line x1="396.21" y1="282.20" x2="396.21" y2="284.20" stroke="#222" stroke-width="0.9"/>
<text class="tk" transform="matrix(.93 0 0 1 396.2 291.4)">0</text>
<line x1="415.48" y1="282.20" x2="415.48" y2="284.20" stroke="#222" stroke-width="0.9"/>
<text class="tk" transform="matrix(.93 0 0 1 415.5 291.4)">14</text>
<line x1="434.74" y1="282.20" x2="434.74" y2="284.20" stroke="#222" stroke-width="0.9"/>
<text class="tk" transform="matrix(.93 0 0 1 434.7 291.4)">28</text>
<line x1="454.00" y1="282.20" x2="454.00" y2="284.20" stroke="#222" stroke-width="0.9"/>
<text class="tk" transform="matrix(.93 0 0 1 454.0 291.4)">90</text>
<text class="xl" transform="matrix(.93 0 0 1 363.9 299.8)">Days post plasma infusion</text>
<text class="kw" transform="matrix(.93 0 0 1 314.0 277.7)">Kruskal-Wallis, p = 7.5e-07</text>
<line x1="273.70" y1="199.40" x2="273.70" y2="230.30" stroke="#000" stroke-width="0.8"/>
<line x1="273.70" y1="255.20" x2="273.70" y2="272.00" stroke="#000" stroke-width="0.8"/>
<rect x="266.70" y="230.30" width="14.00" height="24.90" fill="#e41b39" stroke="#1e0508" stroke-width="1.0"/>
<line x1="266.70" y1="242.00" x2="280.70" y2="242.00" stroke="#111" stroke-width="1.2"/>
<line x1="292.96" y1="200.60" x2="292.96" y2="232.20" stroke="#000" stroke-width="0.8"/>
<line x1="292.96" y1="254.50" x2="292.96" y2="271.50" stroke="#000" stroke-width="0.8"/>
<rect x="285.96" y="232.20" width="14.00" height="22.30" fill="#e41b39" stroke="#1e0508" stroke-width="1.0"/>
<line x1="285.96" y1="242.70" x2="299.96" y2="242.70" stroke="#111" stroke-width="1.2"/>
<line x1="312.23" y1="185.40" x2="312.23" y2="213.00" stroke="#000" stroke-width="0.8"/>
<line x1="312.23" y1="253.30" x2="312.23" y2="269.70" stroke="#000" stroke-width="0.8"/>
<rect x="305.23" y="213.00" width="14.00" height="40.30" fill="#e41b39" stroke="#1e0508" stroke-width="1.0"/>
<line x1="305.23" y1="236.40" x2="319.23" y2="236.40" stroke="#111" stroke-width="1.2"/>
<line x1="331.49" y1="180.20" x2="331.49" y2="204.60" stroke="#000" stroke-width="0.8"/>
<line x1="331.49" y1="245.10" x2="331.49" y2="266.20" stroke="#000" stroke-width="0.8"/>
<rect x="324.49" y="204.60" width="14.00" height="40.50" fill="#e41b39" stroke="#1e0508" stroke-width="1.0"/>
<line x1="324.49" y1="224.00" x2="338.49" y2="224.00" stroke="#111" stroke-width="1.2"/>
<line x1="350.75" y1="187.20" x2="350.75" y2="196.60" stroke="#000" stroke-width="0.8"/>
<line x1="350.75" y1="238.80" x2="350.75" y2="262.70" stroke="#000" stroke-width="0.8"/>
<rect x="343.75" y="196.60" width="14.00" height="42.20" fill="#e41b39" stroke="#1e0508" stroke-width="1.0"/>
<line x1="343.75" y1="208.80" x2="357.75" y2="208.80" stroke="#111" stroke-width="1.2"/>
<g fill="#555" stroke="#1a1a1a" stroke-width=".4"><circle cx="272.0" cy="245.9" r=".9"/><circle cx="274.3" cy="266.5" r=".9"/><circle cx="275.6" cy="235.3" r=".9"/><circle cx="274.2" cy="206.6" r=".9"/><circle cx="271.2" cy="238.3" r=".9"/><circle cx="274.3" cy="246.3" r=".9"/><circle cx="272.1" cy="233.3" r=".9"/><circle cx="273.0" cy="240.7" r=".9"/><circle cx="276.3" cy="203.0" r=".9"/><circle cx="272.3" cy="269.6" r=".9"/><circle cx="271.2" cy="239.7" r=".9"/><circle cx="272.5" cy="224.4" r=".9"/><circle cx="276.3" cy="214.2" r=".9"/><circle cx="272.2" cy="261.6" r=".9"/><circle cx="275.5" cy="249.7" r=".9"/><circle cx="275.3" cy="239.9" r=".9"/><circle cx="275.1" cy="259.6" r=".9"/><circle cx="271.5" cy="255.0" r=".9"/><circle cx="271.0" cy="235.6" r=".9"/><circle cx="273.0" cy="256.7" r=".9"/><circle cx="272.6" cy="242.9" r=".9"/><circle cx="276.3" cy="243.2" r=".9"/><circle cx="273.7" cy="263.8" r=".9"/><circle cx="272.1" cy="251.7" r=".9"/><circle cx="272.8" cy="210.5" r=".9"/><circle cx="272.5" cy="244.3" r=".9"/><circle cx="273.0" cy="271.2" r=".9"/><circle cx="273.9" cy="266.2" r=".9"/><circle cx="275.6" cy="238.5" r=".9"/><circle cx="276.2" cy="240.7" r=".9"/><circle cx="271.9" cy="240.3" r=".9"/><circle cx="273.4" cy="246.9" r=".9"/><circle cx="275.3" cy="236.1" r=".9"/><circle cx="273.0" cy="251.0" r=".9"/><circle cx="272.2" cy="231.0" r=".9"/><circle cx="274.6" cy="220.5" r=".9"/><circle cx="272.1" cy="242.1" r=".9"/><circle cx="274.7" cy="266.0" r=".9"/><circle cx="271.7" cy="246.3" r=".9"/><circle cx="273.8" cy="234.6" r=".9"/><circle cx="271.7" cy="244.0" r=".9"/><circle cx="271.7" cy="245.7" r=".9"/><circle cx="273.9" cy="247.2" r=".9"/><circle cx="274.1" cy="249.7" r=".9"/><circle cx="294.7" cy="262.0" r=".9"/><circle cx="292.2" cy="249.0" r=".9"/><circle cx="294.7" cy="253.8" r=".9"/><circle cx="293.6" cy="234.6" r=".9"/><circle cx="295.5" cy="270.4" r=".9"/><circle cx="294.8" cy="238.2" r=".9"/><circle cx="293.1" cy="268.6" r=".9"/><circle cx="292.6" cy="269.6" r=".9"/><circle cx="293.1" cy="222.4" r=".9"/><circle cx="295.1" cy="207.0" r=".9"/><circle cx="292.1" cy="232.8" r=".9"/><circle cx="293.6" cy="255.7" r=".9"/><circle cx="291.8" cy="257.2" r=".9"/><circle cx="295.2" cy="252.7" r=".9"/><circle cx="292.6" cy="231.9" r=".9"/><circle cx="295.3" cy="209.5" r=".9"/><circle cx="291.5" cy="223.7" r=".9"/><circle cx="293.2" cy="270.2" r=".9"/><circle cx="291.0" cy="251.4" r=".9"/><circle cx="294.5" cy="242.5" r=".9"/><circle cx="295.4" cy="236.6" r=".9"/><circle cx="294.8" cy="248.8" r=".9"/><circle cx="292.4" cy="266.3" r=".9"/><circle cx="295.4" cy="258.2" r=".9"/><circle cx="293.0" cy="243.6" r=".9"/><circle cx="294.3" cy="267.3" r=".9"/><circle cx="291.4" cy="211.9" r=".9"/><circle cx="293.8" cy="248.5" r=".9"/><circle cx="291.1" cy="243.9" r=".9"/><circle cx="293.0" cy="215.5" r=".9"/><circle cx="294.2" cy="206.9" r=".9"/><circle cx="290.8" cy="250.3" r=".9"/><circle cx="292.9" cy="246.4" r=".9"/><circle cx="291.4" cy="245.1" r=".9"/><circle cx="294.6" cy="232.2" r=".9"/><circle cx="293.2" cy="250.7" r=".9"/><circle cx="290.9" cy="246.2" r=".9"/><circle cx="294.9" cy="209.8" r=".9"/><circle cx="294.7" cy="222.0" r=".9"/><circle cx="295.4" cy="247.2" r=".9"/><circle cx="292.5" cy="256.2" r=".9"/><circle cx="291.5" cy="235.5" r=".9"/><circle cx="291.1" cy="212.9" r=".9"/><circle cx="291.3" cy="264.3" r=".9"/><circle cx="311.9" cy="234.7" r=".9"/><circle cx="309.6" cy="246.7" r=".9"/><circle cx="309.7" cy="190.9" r=".9"/><circle cx="312.4" cy="201.1" r=".9"/><circle cx="311.2" cy="266.1" r=".9"/><circle cx="312.6" cy="222.2" r=".9"/><circle cx="312.1" cy="228.0" r=".9"/><circle cx="313.3" cy="263.9" r=".9"/><circle cx="313.5" cy="262.3" r=".9"/><circle cx="314.2" cy="267.1" r=".9"/><circle cx="310.0" cy="257.4" r=".9"/><circle cx="312.2" cy="216.5" r=".9"/><circle cx="312.0" cy="225.1" r=".9"/><circle cx="313.4" cy="244.8" r=".9"/><circle cx="309.6" cy="257.0" r=".9"/><circle cx="313.3" cy="217.4" r=".9"/><circle cx="310.7" cy="212.9" r=".9"/><circle cx="311.7" cy="265.7" r=".9"/><circle cx="311.2" cy="196.2" r=".9"/><circle cx="312.3" cy="268.8" r=".9"/><circle cx="313.7" cy="230.6" r=".9"/><circle cx="310.5" cy="198.5" r=".9"/><circle cx="311.7" cy="248.9" r=".9"/><circle cx="312.0" cy="235.6" r=".9"/><circle cx="312.5" cy="222.9" r=".9"/><circle cx="311.5" cy="187.6" r=".9"/><circle cx="309.6" cy="212.4" r=".9"/><circle cx="314.1" cy="238.5" r=".9"/><circle cx="311.1" cy="218.3" r=".9"/><circle cx="310.6" cy="242.4" r=".9"/><circle cx="313.1" cy="239.5" r=".9"/><circle cx="311.3" cy="260.5" r=".9"/><circle cx="310.2" cy="226.6" r=".9"/><circle cx="313.8" cy="224.6" r=".9"/><circle cx="313.9" cy="235.0" r=".9"/><circle cx="309.9" cy="265.3" r=".9"/><circle cx="313.4" cy="186.1" r=".9"/><circle cx="311.7" cy="220.2" r=".9"/><circle cx="310.2" cy="229.7" r=".9"/><circle cx="314.7" cy="225.1" r=".9"/><circle cx="310.8" cy="230.5" r=".9"/><circle cx="313.0" cy="194.3" r=".9"/><circle cx="313.6" cy="196.3" r=".9"/><circle cx="309.8" cy="217.4" r=".9"/><circle cx="329.9" cy="240.0" r=".9"/><circle cx="330.3" cy="235.5" r=".9"/><circle cx="331.1" cy="256.1" r=".9"/><circle cx="330.1" cy="202.1" r=".9"/><circle cx="329.0" cy="221.5" r=".9"/><circle cx="330.4" cy="241.7" r=".9"/><circle cx="329.1" cy="233.4" r=".9"/><circle cx="330.4" cy="182.9" r=".9"/><circle cx="330.8" cy="205.4" r=".9"/><circle cx="328.9" cy="255.1" r=".9"/><circle cx="329.2" cy="249.8" r=".9"/><circle cx="331.6" cy="249.2" r=".9"/><circle cx="331.0" cy="262.4" r=".9"/><circle cx="333.3" cy="214.4" r=".9"/><circle cx="329.3" cy="260.8" r=".9"/><circle cx="332.0" cy="190.2" r=".9"/><circle cx="329.1" cy="182.7" r=".9"/><circle cx="332.7" cy="228.4" r=".9"/><circle cx="329.8" cy="224.7" r=".9"/><circle cx="332.0" cy="216.0" r=".9"/><circle cx="332.3" cy="215.7" r=".9"/><circle cx="331.5" cy="262.0" r=".9"/><circle cx="331.5" cy="247.5" r=".9"/><circle cx="330.8" cy="233.7" r=".9"/><circle cx="330.3" cy="240.7" r=".9"/><circle cx="334.1" cy="202.0" r=".9"/><circle cx="333.2" cy="186.5" r=".9"/><circle cx="334.2" cy="212.9" r=".9"/><circle cx="331.8" cy="237.4" r=".9"/><circle cx="329.7" cy="263.3" r=".9"/><circle cx="329.8" cy="229.6" r=".9"/><circle cx="329.3" cy="233.5" r=".9"/><circle cx="331.4" cy="208.8" r=".9"/><circle cx="329.0" cy="232.4" r=".9"/><circle cx="330.9" cy="265.4" r=".9"/><circle cx="332.5" cy="219.8" r=".9"/><circle cx="331.0" cy="230.9" r=".9"/><circle cx="329.8" cy="225.5" r=".9"/><circle cx="333.0" cy="203.7" r=".9"/><circle cx="333.3" cy="191.6" r=".9"/><circle cx="332.6" cy="260.8" r=".9"/><circle cx="333.5" cy="200.5" r=".9"/><circle cx="331.4" cy="236.5" r=".9"/><circle cx="333.1" cy="219.5" r=".9"/><circle cx="351.7" cy="195.1" r=".9"/><circle cx="351.1" cy="242.5" r=".9"/><circle cx="348.6" cy="246.8" r=".9"/><circle cx="349.3" cy="255.9" r=".9"/><circle cx="352.6" cy="190.3" r=".9"/><circle cx="350.2" cy="207.9" r=".9"/><circle cx="350.1" cy="249.2" r=".9"/><circle cx="350.1" cy="259.4" r=".9"/><circle cx="349.3" cy="261.8" r=".9"/><circle cx="348.6" cy="197.6" r=".9"/><circle cx="350.8" cy="221.2" r=".9"/><circle cx="353.3" cy="245.7" r=".9"/><circle cx="352.8" cy="238.4" r=".9"/><circle cx="348.2" cy="259.1" r=".9"/><circle cx="351.8" cy="230.8" r=".9"/><circle cx="348.9" cy="230.9" r=".9"/><circle cx="350.2" cy="207.8" r=".9"/><circle cx="351.1" cy="255.7" r=".9"/><circle cx="351.3" cy="193.1" r=".9"/><circle cx="351.1" cy="194.8" r=".9"/><circle cx="350.1" cy="235.8" r=".9"/><circle cx="351.9" cy="246.8" r=".9"/><circle cx="351.6" cy="193.3" r=".9"/><circle cx="350.5" cy="194.5" r=".9"/><circle cx="349.8" cy="228.7" r=".9"/><circle cx="352.4" cy="253.6" r=".9"/><circle cx="352.9" cy="255.1" r=".9"/><circle cx="350.7" cy="242.0" r=".9"/><circle cx="353.4" cy="236.7" r=".9"/><circle cx="351.5" cy="230.1" r=".9"/><circle cx="349.0" cy="262.0" r=".9"/><circle cx="348.1" cy="249.6" r=".9"/><circle cx="353.2" cy="214.0" r=".9"/><circle cx="352.3" cy="232.5" r=".9"/><circle cx="349.7" cy="206.6" r=".9"/><circle cx="351.5" cy="213.3" r=".9"/><circle cx="351.3" cy="210.2" r=".9"/><circle cx="349.9" cy="189.1" r=".9"/><circle cx="348.3" cy="241.0" r=".9"/><circle cx="351.8" cy="231.9" r=".9"/><circle cx="351.2" cy="195.1" r=".9"/><circle cx="350.1" cy="197.1" r=".9"/><circle cx="348.4" cy="222.8" r=".9"/><circle cx="350.7" cy="212.4" r=".9"/></g>
<path d="M273.70,241.60 C276.91,241.67 286.54,243.25 292.96,242.00 C299.38,240.75 305.80,237.10 312.23,234.10 C318.65,231.10 325.07,227.05 331.49,224.00 C337.91,220.95 347.54,217.17 350.75,215.80" fill="none" stroke="#a3b0b2" stroke-width="1.5"/>
<text class="kw" transform="matrix(.93 0 0 1 419.3 277.7)">Kruskal-Wallis, p = 3.4e-05</text>
<line x1="376.95" y1="200.60" x2="376.95" y2="229.90" stroke="#000" stroke-width="0.8"/>
<line x1="376.95" y1="255.60" x2="376.95" y2="277.90" stroke="#000" stroke-width="0.8"/>
<rect x="369.95" y="229.90" width="14.00" height="25.70" fill="#e41b39" stroke="#1e0508" stroke-width="1.0"/>
<line x1="369.95" y1="242.70" x2="383.95" y2="242.70" stroke="#111" stroke-width="1.2"/>
<circle cx="376.84" cy="186.50" r="1.3" fill="#000"/>
<line x1="396.21" y1="195.90" x2="396.21" y2="227.10" stroke="#000" stroke-width="0.8"/>
<line x1="396.21" y1="252.10" x2="396.21" y2="272.00" stroke="#000" stroke-width="0.8"/>
<rect x="389.21" y="227.10" width="14.00" height="25.00" fill="#e41b39" stroke="#1e0508" stroke-width="1.0"/>
<line x1="389.21" y1="240.40" x2="403.21" y2="240.40" stroke="#111" stroke-width="1.2"/>
<line x1="415.48" y1="181.20" x2="415.48" y2="217.70" stroke="#000" stroke-width="0.8"/>
<line x1="415.48" y1="257.50" x2="415.48" y2="272.00" stroke="#000" stroke-width="0.8"/>
<rect x="408.48" y="217.70" width="14.00" height="39.80" fill="#e41b39" stroke="#1e0508" stroke-width="1.0"/>
<line x1="408.48" y1="238.10" x2="422.48" y2="238.10" stroke="#111" stroke-width="1.2"/>
<line x1="434.74" y1="185.40" x2="434.74" y2="206.90" stroke="#000" stroke-width="0.8"/>
<line x1="434.74" y1="243.90" x2="434.74" y2="269.70" stroke="#000" stroke-width="0.8"/>
<rect x="427.74" y="206.90" width="14.00" height="37.00" fill="#e41b39" stroke="#1e0508" stroke-width="1.0"/>
<line x1="427.74" y1="230.30" x2="441.74" y2="230.30" stroke="#111" stroke-width="1.2"/>
<line x1="454.00" y1="186.50" x2="454.00" y2="195.90" stroke="#000" stroke-width="0.8"/>
<line x1="454.00" y1="239.20" x2="454.00" y2="253.30" stroke="#000" stroke-width="0.8"/>
<rect x="447.00" y="195.90" width="14.00" height="43.30" fill="#e41b39" stroke="#1e0508" stroke-width="1.0"/>
<line x1="447.00" y1="214.60" x2="461.00" y2="214.60" stroke="#111" stroke-width="1.2"/>
<g fill="#555" stroke="#1a1a1a" stroke-width=".4"><circle cx="378.6" cy="271.9" r=".9"/><circle cx="377.5" cy="232.9" r=".9"/><circle cx="378.3" cy="229.5" r=".9"/><circle cx="377.8" cy="275.2" r=".9"/><circle cx="378.7" cy="253.5" r=".9"/><circle cx="377.4" cy="207.9" r=".9"/><circle cx="378.4" cy="237.5" r=".9"/><circle cx="377.2" cy="238.4" r=".9"/><circle cx="379.2" cy="217.2" r=".9"/><circle cx="374.4" cy="255.4" r=".9"/><circle cx="378.2" cy="244.1" r=".9"/><circle cx="376.8" cy="218.9" r=".9"/><circle cx="378.1" cy="243.6" r=".9"/><circle cx="376.0" cy="201.0" r=".9"/><circle cx="378.5" cy="202.3" r=".9"/><circle cx="378.6" cy="270.1" r=".9"/><circle cx="375.5" cy="264.1" r=".9"/><circle cx="377.5" cy="243.5" r=".9"/><circle cx="379.4" cy="245.0" r=".9"/><circle cx="375.6" cy="228.5" r=".9"/><circle cx="376.1" cy="239.8" r=".9"/><circle cx="377.3" cy="205.7" r=".9"/><circle cx="374.4" cy="228.0" r=".9"/><circle cx="379.3" cy="242.6" r=".9"/><circle cx="376.4" cy="274.3" r=".9"/><circle cx="374.6" cy="253.7" r=".9"/><circle cx="375.0" cy="233.9" r=".9"/><circle cx="377.4" cy="247.9" r=".9"/><circle cx="377.0" cy="273.5" r=".9"/><circle cx="378.7" cy="273.9" r=".9"/><circle cx="378.6" cy="276.6" r=".9"/><circle cx="378.9" cy="255.6" r=".9"/><circle cx="378.4" cy="203.5" r=".9"/><circle cx="378.7" cy="219.2" r=".9"/><circle cx="378.8" cy="210.2" r=".9"/><circle cx="377.9" cy="209.8" r=".9"/><circle cx="377.3" cy="251.7" r=".9"/><circle cx="377.2" cy="236.4" r=".9"/><circle cx="379.1" cy="274.8" r=".9"/><circle cx="377.9" cy="271.1" r=".9"/><circle cx="378.4" cy="273.0" r=".9"/><circle cx="375.8" cy="232.4" r=".9"/><circle cx="378.7" cy="214.3" r=".9"/><circle cx="376.1" cy="258.0" r=".9"/><circle cx="393.9" cy="201.0" r=".9"/><circle cx="397.1" cy="198.7" r=".9"/><circle cx="397.1" cy="257.0" r=".9"/><circle cx="395.9" cy="208.7" r=".9"/><circle cx="394.8" cy="258.9" r=".9"/><circle cx="397.7" cy="218.2" r=".9"/><circle cx="394.2" cy="244.6" r=".9"/><circle cx="395.0" cy="234.4" r=".9"/><circle cx="395.3" cy="232.5" r=".9"/><circle cx="397.0" cy="248.7" r=".9"/><circle cx="398.5" cy="236.6" r=".9"/><circle cx="396.6" cy="209.9" r=".9"/><circle cx="394.9" cy="203.9" r=".9"/><circle cx="397.7" cy="262.1" r=".9"/><circle cx="398.9" cy="260.7" r=".9"/><circle cx="398.0" cy="236.7" r=".9"/><circle cx="394.2" cy="207.6" r=".9"/><circle cx="398.5" cy="245.6" r=".9"/><circle cx="396.3" cy="234.8" r=".9"/><circle cx="396.0" cy="238.3" r=".9"/><circle cx="398.5" cy="224.2" r=".9"/><circle cx="394.3" cy="251.2" r=".9"/><circle cx="398.2" cy="215.9" r=".9"/><circle cx="393.6" cy="251.9" r=".9"/><circle cx="395.5" cy="221.5" r=".9"/><circle cx="397.6" cy="202.6" r=".9"/><circle cx="394.6" cy="237.4" r=".9"/><circle cx="394.0" cy="218.7" r=".9"/><circle cx="395.5" cy="202.8" r=".9"/><circle cx="398.3" cy="241.5" r=".9"/><circle cx="395.5" cy="215.7" r=".9"/><circle cx="396.3" cy="253.5" r=".9"/><circle cx="398.8" cy="238.3" r=".9"/><circle cx="395.8" cy="235.9" r=".9"/><circle cx="396.7" cy="270.8" r=".9"/><circle cx="394.9" cy="237.7" r=".9"/><circle cx="395.9" cy="239.4" r=".9"/><circle cx="394.6" cy="213.5" r=".9"/><circle cx="395.4" cy="255.3" r=".9"/><circle cx="394.8" cy="223.6" r=".9"/><circle cx="396.4" cy="209.7" r=".9"/><circle cx="393.9" cy="228.2" r=".9"/><circle cx="395.6" cy="244.3" r=".9"/><circle cx="395.1" cy="221.5" r=".9"/><circle cx="416.3" cy="265.5" r=".9"/><circle cx="415.4" cy="258.1" r=".9"/><circle cx="416.2" cy="268.2" r=".9"/><circle cx="414.0" cy="235.4" r=".9"/><circle cx="417.2" cy="260.1" r=".9"/><circle cx="414.7" cy="246.2" r=".9"/><circle cx="416.3" cy="202.9" r=".9"/><circle cx="413.8" cy="240.1" r=".9"/><circle cx="415.7" cy="205.7" r=".9"/><circle cx="414.6" cy="221.7" r=".9"/><circle cx="412.8" cy="269.7" r=".9"/><circle cx="417.0" cy="252.3" r=".9"/><circle cx="414.0" cy="229.7" r=".9"/><circle cx="416.7" cy="229.6" r=".9"/><circle cx="415.9" cy="248.0" r=".9"/><circle cx="414.8" cy="217.2" r=".9"/><circle cx="417.5" cy="181.6" r=".9"/><circle cx="414.9" cy="265.4" r=".9"/><circle cx="413.9" cy="192.7" r=".9"/><circle cx="416.9" cy="201.3" r=".9"/><circle cx="416.9" cy="219.2" r=".9"/><circle cx="412.8" cy="264.3" r=".9"/><circle cx="416.9" cy="244.2" r=".9"/><circle cx="416.7" cy="235.3" r=".9"/><circle cx="415.7" cy="225.9" r=".9"/><circle cx="413.8" cy="246.7" r=".9"/><circle cx="413.3" cy="231.4" r=".9"/><circle cx="415.9" cy="246.7" r=".9"/><circle cx="413.4" cy="268.1" r=".9"/><circle cx="413.3" cy="186.6" r=".9"/><circle cx="414.2" cy="238.2" r=".9"/><circle cx="414.3" cy="215.5" r=".9"/><circle cx="415.8" cy="245.4" r=".9"/><circle cx="417.9" cy="255.5" r=".9"/><circle cx="414.5" cy="262.3" r=".9"/><circle cx="417.6" cy="263.7" r=".9"/><circle cx="414.4" cy="269.6" r=".9"/><circle cx="414.2" cy="270.5" r=".9"/><circle cx="414.8" cy="259.2" r=".9"/><circle cx="414.1" cy="260.1" r=".9"/><circle cx="414.4" cy="235.5" r=".9"/><circle cx="416.7" cy="248.5" r=".9"/><circle cx="417.0" cy="254.2" r=".9"/><circle cx="414.6" cy="236.6" r=".9"/><circle cx="435.3" cy="266.7" r=".9"/><circle cx="436.8" cy="267.8" r=".9"/><circle cx="433.3" cy="262.0" r=".9"/><circle cx="433.9" cy="237.8" r=".9"/><circle cx="433.1" cy="231.5" r=".9"/><circle cx="437.3" cy="222.6" r=".9"/><circle cx="432.3" cy="262.2" r=".9"/><circle cx="432.8" cy="211.3" r=".9"/><circle cx="436.3" cy="213.4" r=".9"/><circle cx="436.7" cy="260.0" r=".9"/><circle cx="436.2" cy="249.5" r=".9"/><circle cx="433.9" cy="241.4" r=".9"/><circle cx="433.9" cy="242.3" r=".9"/><circle cx="433.1" cy="204.6" r=".9"/><circle cx="432.7" cy="241.7" r=".9"/><circle cx="436.1" cy="202.0" r=".9"/><circle cx="437.2" cy="210.6" r=".9"/><circle cx="435.9" cy="264.1" r=".9"/><circle cx="434.3" cy="232.2" r=".9"/><circle cx="437.1" cy="186.3" r=".9"/><circle cx="434.6" cy="236.6" r=".9"/><circle cx="435.0" cy="191.9" r=".9"/><circle cx="432.5" cy="256.5" r=".9"/><circle cx="434.3" cy="200.0" r=".9"/><circle cx="437.2" cy="205.8" r=".9"/><circle cx="436.0" cy="262.1" r=".9"/><circle cx="437.0" cy="207.5" r=".9"/><circle cx="436.4" cy="228.9" r=".9"/><circle cx="437.0" cy="208.0" r=".9"/><circle cx="432.8" cy="208.4" r=".9"/><circle cx="433.2" cy="201.3" r=".9"/><circle cx="435.6" cy="267.1" r=".9"/><circle cx="434.3" cy="211.8" r=".9"/><circle cx="434.3" cy="185.5" r=".9"/><circle cx="432.6" cy="269.6" r=".9"/><circle cx="436.0" cy="203.5" r=".9"/><circle cx="434.7" cy="261.8" r=".9"/><circle cx="434.8" cy="212.3" r=".9"/><circle cx="436.8" cy="188.2" r=".9"/><circle cx="433.3" cy="216.7" r=".9"/><circle cx="435.1" cy="230.9" r=".9"/><circle cx="434.8" cy="196.4" r=".9"/><circle cx="432.1" cy="190.0" r=".9"/><circle cx="432.7" cy="218.5" r=".9"/><circle cx="456.3" cy="197.4" r=".9"/><circle cx="455.1" cy="234.0" r=".9"/><circle cx="452.9" cy="228.7" r=".9"/><circle cx="454.3" cy="204.8" r=".9"/><circle cx="452.2" cy="229.5" r=".9"/><circle cx="455.6" cy="231.6" r=".9"/><circle cx="452.4" cy="187.6" r=".9"/><circle cx="455.3" cy="249.4" r=".9"/><circle cx="454.1" cy="229.7" r=".9"/><circle cx="454.8" cy="235.8" r=".9"/><circle cx="454.0" cy="221.4" r=".9"/><circle cx="452.0" cy="191.9" r=".9"/><circle cx="453.6" cy="214.1" r=".9"/><circle cx="453.4" cy="211.6" r=".9"/><circle cx="456.5" cy="212.0" r=".9"/><circle cx="455.2" cy="239.4" r=".9"/><circle cx="454.5" cy="215.3" r=".9"/><circle cx="451.4" cy="206.3" r=".9"/><circle cx="452.8" cy="195.3" r=".9"/><circle cx="451.6" cy="209.9" r=".9"/><circle cx="452.6" cy="194.4" r=".9"/><circle cx="455.6" cy="226.1" r=".9"/><circle cx="452.6" cy="212.7" r=".9"/><circle cx="455.9" cy="194.6" r=".9"/><circle cx="456.6" cy="247.6" r=".9"/><circle cx="452.1" cy="215.8" r=".9"/><circle cx="451.7" cy="249.5" r=".9"/><circle cx="453.9" cy="192.8" r=".9"/><circle cx="454.6" cy="195.3" r=".9"/><circle cx="453.6" cy="247.5" r=".9"/><circle cx="455.2" cy="252.3" r=".9"/><circle cx="453.2" cy="242.4" r=".9"/><circle cx="453.7" cy="210.0" r=".9"/><circle cx="455.2" cy="188.2" r=".9"/><circle cx="456.4" cy="236.8" r=".9"/><circle cx="451.9" cy="222.1" r=".9"/><circle cx="454.7" cy="222.9" r=".9"/><circle cx="452.0" cy="197.4" r=".9"/><circle cx="453.0" cy="203.3" r=".9"/><circle cx="454.1" cy="234.9" r=".9"/><circle cx="452.8" cy="221.3" r=".9"/><circle cx="452.7" cy="188.0" r=".9"/><circle cx="452.2" cy="235.2" r=".9"/><circle cx="452.5" cy="241.1" r=".9"/></g>
<path d="M376.95,242.00 C380.16,241.67 389.79,241.05 396.21,240.00 C402.63,238.95 409.05,237.58 415.48,235.70 C421.90,233.82 428.32,231.70 434.74,228.70 C441.16,225.70 450.79,219.53 454.00,217.70" fill="none" stroke="#a3b0b2" stroke-width="1.5"/>
<text class="L" transform="matrix(0.9216 0 0 1.0949 476.70 168.11)" x="0" y="0" style="text-anchor:start">F</text>
<text class="ti" transform="matrix(0.8974 0 0 0.9650 496.4 164.2)" style="text-anchor:start">Avidity of IgG-N at 1M NH4SCN</text>
<rect x="497.00" y="168.60" width="100.30" height="11.10" fill="#e6e6e6" stroke="#222" stroke-width="1.1"/>
<text class="st" transform="matrix(.93 0 0 1 547.1 176.2)">Control</text>
<rect x="600.50" y="168.60" width="100.70" height="11.10" fill="#e6e6e6" stroke="#222" stroke-width="1.1"/>
<text class="st" transform="matrix(.93 0 0 1 650.9 176.2)">Convalescent</text>
<text class="yl" style="font-size:7.14px" x="479.3" y="230.6" transform="rotate(-90 479.3 230.6)">Relative Avidity Index (RAI) in % bound</text>
<line x1="497.00" y1="179.70" x2="497.00" y2="280.80" stroke="#222" stroke-width="0.9"/>
<line x1="495.00" y1="279.40" x2="497.00" y2="279.40" stroke="#222" stroke-width="0.9"/>
<text class="tk" transform="matrix(.93 0 0 1 493.5 282.1)" style="text-anchor:end">0</text>
<line x1="495.00" y1="255.17" x2="497.00" y2="255.17" stroke="#222" stroke-width="0.9"/>
<text class="tk" transform="matrix(.93 0 0 1 493.5 257.9)" style="text-anchor:end">25</text>
<line x1="495.00" y1="230.95" x2="497.00" y2="230.95" stroke="#222" stroke-width="0.9"/>
<text class="tk" transform="matrix(.93 0 0 1 493.5 233.6)" style="text-anchor:end">50</text>
<line x1="495.00" y1="206.72" x2="497.00" y2="206.72" stroke="#222" stroke-width="0.9"/>
<text class="tk" transform="matrix(.93 0 0 1 493.5 209.4)" style="text-anchor:end">75</text>
<line x1="495.00" y1="182.50" x2="497.00" y2="182.50" stroke="#222" stroke-width="0.9"/>
<text class="tk" transform="matrix(.93 0 0 1 493.5 185.2)" style="text-anchor:end">100</text>
<line x1="497.00" y1="280.80" x2="597.30" y2="280.80" stroke="#222" stroke-width="0.9"/>
<line x1="508.50" y1="280.80" x2="508.50" y2="282.80" stroke="#222" stroke-width="0.9"/>
<text class="tk" transform="matrix(.93 0 0 1 508.5 290.0)">-1</text>
<line x1="527.75" y1="280.80" x2="527.75" y2="282.80" stroke="#222" stroke-width="0.9"/>
<text class="tk" transform="matrix(.93 0 0 1 527.8 290.0)">0</text>
<line x1="547.00" y1="280.80" x2="547.00" y2="282.80" stroke="#222" stroke-width="0.9"/>
<text class="tk" transform="matrix(.93 0 0 1 547.0 290.0)">14</text>
<line x1="566.25" y1="280.80" x2="566.25" y2="282.80" stroke="#222" stroke-width="0.9"/>
<text class="tk" transform="matrix(.93 0 0 1 566.2 290.0)">28</text>
<line x1="585.50" y1="280.80" x2="585.50" y2="282.80" stroke="#222" stroke-width="0.9"/>
<text class="tk" transform="matrix(.93 0 0 1 585.5 290.0)">90</text>
<line x1="600.50" y1="280.80" x2="701.20" y2="280.80" stroke="#222" stroke-width="0.9"/>
<line x1="612.30" y1="280.80" x2="612.30" y2="282.80" stroke="#222" stroke-width="0.9"/>
<text class="tk" transform="matrix(.93 0 0 1 612.3 290.0)">-1</text>
<line x1="631.65" y1="280.80" x2="631.65" y2="282.80" stroke="#222" stroke-width="0.9"/>
<text class="tk" transform="matrix(.93 0 0 1 631.6 290.0)">0</text>
<line x1="651.00" y1="280.80" x2="651.00" y2="282.80" stroke="#222" stroke-width="0.9"/>
<text class="tk" transform="matrix(.93 0 0 1 651.0 290.0)">14</text>
<line x1="670.35" y1="280.80" x2="670.35" y2="282.80" stroke="#222" stroke-width="0.9"/>
<text class="tk" transform="matrix(.93 0 0 1 670.4 290.0)">28</text>
<line x1="689.70" y1="280.80" x2="689.70" y2="282.80" stroke="#222" stroke-width="0.9"/>
<text class="tk" transform="matrix(.93 0 0 1 689.7 290.0)">90</text>
<text class="xl" transform="matrix(.93 0 0 1 599.1 298.4)">Days post plasma infusion</text>
<text class="kw" transform="matrix(.93 0 0 1 551.0 276.5)">Kruskal-Wallis, p = 8.2e-10</text>
<line x1="508.50" y1="190.30" x2="508.50" y2="219.10" stroke="#000" stroke-width="0.8"/>
<line x1="508.50" y1="244.80" x2="508.50" y2="267.40" stroke="#000" stroke-width="0.8"/>
<rect x="501.50" y="219.10" width="14.00" height="25.70" fill="#e41b39" stroke="#1e0508" stroke-width="1.0"/>
<line x1="501.50" y1="232.40" x2="515.50" y2="232.40" stroke="#111" stroke-width="1.2"/>
<line x1="527.75" y1="191.50" x2="527.75" y2="220.20" stroke="#000" stroke-width="0.8"/>
<line x1="527.75" y1="241.60" x2="527.75" y2="265.50" stroke="#000" stroke-width="0.8"/>
<rect x="520.75" y="220.20" width="14.00" height="21.40" fill="#e41b39" stroke="#1e0508" stroke-width="1.0"/>
<line x1="520.75" y1="228.70" x2="534.75" y2="228.70" stroke="#111" stroke-width="1.2"/>
<line x1="547.00" y1="184.60" x2="547.00" y2="194.30" stroke="#000" stroke-width="0.8"/>
<line x1="547.00" y1="235.20" x2="547.00" y2="265.10" stroke="#000" stroke-width="0.8"/>
<rect x="540.00" y="194.30" width="14.00" height="40.90" fill="#e41b39" stroke="#1e0508" stroke-width="1.0"/>
<line x1="540.00" y1="209.40" x2="554.00" y2="209.40" stroke="#111" stroke-width="1.2"/>
<line x1="566.25" y1="186.90" x2="566.25" y2="193.10" stroke="#000" stroke-width="0.8"/>
<line x1="566.25" y1="225.50" x2="566.25" y2="258.20" stroke="#000" stroke-width="0.8"/>
<rect x="559.25" y="193.10" width="14.00" height="32.40" fill="#e41b39" stroke="#1e0508" stroke-width="1.0"/>
<line x1="559.25" y1="197.20" x2="573.25" y2="197.20" stroke="#111" stroke-width="1.2"/>
<line x1="585.50" y1="186.90" x2="585.50" y2="191.50" stroke="#000" stroke-width="0.8"/>
<line x1="585.50" y1="218.60" x2="585.50" y2="245.50" stroke="#000" stroke-width="0.8"/>
<rect x="578.50" y="191.50" width="14.00" height="27.10" fill="#e41b39" stroke="#1e0508" stroke-width="1.0"/>
<line x1="578.50" y1="197.20" x2="592.50" y2="197.20" stroke="#111" stroke-width="1.2"/>
<g fill="#555" stroke="#1a1a1a" stroke-width=".4"><circle cx="509.9" cy="229.3" r=".9"/><circle cx="507.9" cy="231.3" r=".9"/><circle cx="508.1" cy="216.3" r=".9"/><circle cx="511.1" cy="197.5" r=".9"/><circle cx="507.9" cy="236.6" r=".9"/><circle cx="510.6" cy="222.6" r=".9"/><circle cx="508.3" cy="237.1" r=".9"/><circle cx="506.8" cy="224.4" r=".9"/><circle cx="508.7" cy="236.6" r=".9"/><circle cx="508.1" cy="260.9" r=".9"/><circle cx="506.9" cy="250.7" r=".9"/><circle cx="507.6" cy="206.1" r=".9"/><circle cx="507.3" cy="251.4" r=".9"/><circle cx="510.1" cy="239.4" r=".9"/><circle cx="509.3" cy="241.8" r=".9"/><circle cx="506.7" cy="245.8" r=".9"/><circle cx="510.2" cy="232.7" r=".9"/><circle cx="507.1" cy="230.1" r=".9"/><circle cx="507.6" cy="212.0" r=".9"/><circle cx="507.2" cy="267.0" r=".9"/><circle cx="509.3" cy="193.7" r=".9"/><circle cx="507.4" cy="241.9" r=".9"/><circle cx="510.2" cy="249.3" r=".9"/><circle cx="509.5" cy="208.8" r=".9"/><circle cx="506.3" cy="226.1" r=".9"/><circle cx="509.1" cy="191.5" r=".9"/><circle cx="508.2" cy="223.9" r=".9"/><circle cx="506.7" cy="197.4" r=".9"/><circle cx="508.6" cy="236.0" r=".9"/><circle cx="506.4" cy="264.6" r=".9"/><circle cx="508.6" cy="250.3" r=".9"/><circle cx="509.7" cy="233.3" r=".9"/><circle cx="506.0" cy="203.8" r=".9"/><circle cx="507.5" cy="190.8" r=".9"/><circle cx="510.0" cy="258.4" r=".9"/><circle cx="510.4" cy="251.5" r=".9"/><circle cx="509.5" cy="221.9" r=".9"/><circle cx="506.6" cy="202.1" r=".9"/><circle cx="506.5" cy="227.3" r=".9"/><circle cx="506.5" cy="253.9" r=".9"/><circle cx="508.8" cy="233.3" r=".9"/><circle cx="506.3" cy="239.7" r=".9"/><circle cx="510.5" cy="243.1" r=".9"/><circle cx="508.7" cy="212.3" r=".9"/><circle cx="525.7" cy="207.9" r=".9"/><circle cx="529.8" cy="222.3" r=".9"/><circle cx="528.0" cy="228.9" r=".9"/><circle cx="529.3" cy="258.5" r=".9"/><circle cx="526.8" cy="216.8" r=".9"/><circle cx="528.8" cy="259.8" r=".9"/><circle cx="525.9" cy="227.5" r=".9"/><circle cx="529.4" cy="204.7" r=".9"/><circle cx="527.8" cy="227.1" r=".9"/><circle cx="527.0" cy="239.1" r=".9"/><circle cx="529.7" cy="228.8" r=".9"/><circle cx="527.0" cy="207.4" r=".9"/><circle cx="529.4" cy="239.1" r=".9"/><circle cx="526.1" cy="222.0" r=".9"/><circle cx="529.4" cy="192.6" r=".9"/><circle cx="528.0" cy="232.1" r=".9"/><circle cx="525.5" cy="232.1" r=".9"/><circle cx="525.8" cy="194.5" r=".9"/><circle cx="529.4" cy="233.9" r=".9"/><circle cx="525.3" cy="240.1" r=".9"/><circle cx="529.3" cy="247.3" r=".9"/><circle cx="529.2" cy="254.3" r=".9"/><circle cx="529.9" cy="254.2" r=".9"/><circle cx="527.6" cy="228.7" r=".9"/><circle cx="529.3" cy="240.8" r=".9"/><circle cx="529.0" cy="226.7" r=".9"/><circle cx="527.0" cy="237.3" r=".9"/><circle cx="527.5" cy="211.1" r=".9"/><circle cx="527.9" cy="237.4" r=".9"/><circle cx="529.9" cy="191.7" r=".9"/><circle cx="529.6" cy="230.7" r=".9"/><circle cx="528.9" cy="249.7" r=".9"/><circle cx="530.4" cy="202.2" r=".9"/><circle cx="525.7" cy="221.2" r=".9"/><circle cx="526.8" cy="255.2" r=".9"/><circle cx="525.5" cy="229.8" r=".9"/><circle cx="528.1" cy="215.6" r=".9"/><circle cx="528.3" cy="226.8" r=".9"/><circle cx="530.2" cy="241.1" r=".9"/><circle cx="525.5" cy="237.9" r=".9"/><circle cx="525.7" cy="249.9" r=".9"/><circle cx="529.6" cy="241.3" r=".9"/><circle cx="526.2" cy="197.9" r=".9"/><circle cx="525.4" cy="248.1" r=".9"/><circle cx="547.9" cy="206.6" r=".9"/><circle cx="545.9" cy="218.7" r=".9"/><circle cx="548.2" cy="222.5" r=".9"/><circle cx="545.8" cy="213.3" r=".9"/><circle cx="547.6" cy="249.1" r=".9"/><circle cx="549.0" cy="260.9" r=".9"/><circle cx="546.9" cy="192.5" r=".9"/><circle cx="548.3" cy="243.3" r=".9"/><circle cx="544.3" cy="185.7" r=".9"/><circle cx="547.5" cy="208.6" r=".9"/><circle cx="546.1" cy="260.4" r=".9"/><circle cx="545.9" cy="187.8" r=".9"/><circle cx="547.5" cy="264.1" r=".9"/><circle cx="547.2" cy="185.2" r=".9"/><circle cx="549.4" cy="234.5" r=".9"/><circle cx="549.7" cy="246.4" r=".9"/><circle cx="545.7" cy="233.4" r=".9"/><circle cx="545.7" cy="263.5" r=".9"/><circle cx="547.4" cy="209.0" r=".9"/><circle cx="549.0" cy="193.8" r=".9"/><circle cx="544.4" cy="227.9" r=".9"/><circle cx="545.7" cy="232.9" r=".9"/><circle cx="545.6" cy="218.1" r=".9"/><circle cx="544.8" cy="221.0" r=".9"/><circle cx="548.1" cy="185.3" r=".9"/><circle cx="544.7" cy="200.2" r=".9"/><circle cx="546.8" cy="192.4" r=".9"/><circle cx="549.3" cy="194.0" r=".9"/><circle cx="547.1" cy="205.5" r=".9"/><circle cx="547.9" cy="191.7" r=".9"/><circle cx="547.3" cy="188.6" r=".9"/><circle cx="548.9" cy="186.5" r=".9"/><circle cx="547.4" cy="251.3" r=".9"/><circle cx="546.7" cy="262.8" r=".9"/><circle cx="547.5" cy="247.5" r=".9"/><circle cx="544.8" cy="194.4" r=".9"/><circle cx="545.7" cy="199.7" r=".9"/><circle cx="549.1" cy="193.0" r=".9"/><circle cx="548.4" cy="235.4" r=".9"/><circle cx="544.4" cy="209.2" r=".9"/><circle cx="547.5" cy="204.0" r=".9"/><circle cx="544.7" cy="186.6" r=".9"/><circle cx="545.5" cy="198.7" r=".9"/><circle cx="546.1" cy="234.6" r=".9"/><circle cx="564.4" cy="208.5" r=".9"/><circle cx="565.3" cy="215.8" r=".9"/><circle cx="564.1" cy="188.0" r=".9"/><circle cx="568.5" cy="207.8" r=".9"/><circle cx="567.2" cy="249.9" r=".9"/><circle cx="566.9" cy="197.3" r=".9"/><circle cx="566.1" cy="189.8" r=".9"/><circle cx="565.8" cy="212.8" r=".9"/><circle cx="566.5" cy="240.7" r=".9"/><circle cx="566.6" cy="193.1" r=".9"/><circle cx="567.0" cy="200.3" r=".9"/><circle cx="567.3" cy="201.1" r=".9"/><circle cx="568.6" cy="189.3" r=".9"/><circle cx="568.2" cy="214.2" r=".9"/><circle cx="568.9" cy="236.8" r=".9"/><circle cx="566.1" cy="235.5" r=".9"/><circle cx="568.6" cy="213.5" r=".9"/><circle cx="563.9" cy="193.1" r=".9"/><circle cx="563.7" cy="239.6" r=".9"/><circle cx="564.6" cy="213.6" r=".9"/><circle cx="568.7" cy="189.5" r=".9"/><circle cx="566.5" cy="213.2" r=".9"/><circle cx="563.6" cy="218.4" r=".9"/><circle cx="568.3" cy="236.0" r=".9"/><circle cx="565.2" cy="194.3" r=".9"/><circle cx="564.1" cy="219.3" r=".9"/><circle cx="566.4" cy="189.3" r=".9"/><circle cx="568.9" cy="207.3" r=".9"/><circle cx="567.5" cy="192.6" r=".9"/><circle cx="563.7" cy="197.7" r=".9"/><circle cx="567.0" cy="191.1" r=".9"/><circle cx="568.5" cy="201.8" r=".9"/><circle cx="565.4" cy="193.7" r=".9"/><circle cx="568.8" cy="195.3" r=".9"/><circle cx="563.6" cy="192.0" r=".9"/><circle cx="567.5" cy="196.7" r=".9"/><circle cx="567.8" cy="191.8" r=".9"/><circle cx="564.1" cy="225.9" r=".9"/><circle cx="566.3" cy="192.0" r=".9"/><circle cx="564.2" cy="253.5" r=".9"/><circle cx="568.9" cy="193.2" r=".9"/><circle cx="567.9" cy="218.1" r=".9"/><circle cx="567.7" cy="225.1" r=".9"/><circle cx="564.0" cy="192.9" r=".9"/><circle cx="584.6" cy="187.9" r=".9"/><circle cx="583.1" cy="218.3" r=".9"/><circle cx="588.2" cy="195.0" r=".9"/><circle cx="585.6" cy="210.5" r=".9"/><circle cx="585.0" cy="188.4" r=".9"/><circle cx="587.6" cy="210.5" r=".9"/><circle cx="586.8" cy="214.5" r=".9"/><circle cx="585.9" cy="202.6" r=".9"/><circle cx="584.5" cy="221.2" r=".9"/><circle cx="586.7" cy="219.9" r=".9"/><circle cx="583.9" cy="208.2" r=".9"/><circle cx="586.1" cy="213.9" r=".9"/><circle cx="584.9" cy="233.8" r=".9"/><circle cx="587.5" cy="195.5" r=".9"/><circle cx="583.7" cy="216.8" r=".9"/><circle cx="583.1" cy="205.3" r=".9"/><circle cx="585.4" cy="206.1" r=".9"/><circle cx="586.2" cy="189.6" r=".9"/><circle cx="584.8" cy="212.8" r=".9"/><circle cx="587.1" cy="245.0" r=".9"/><circle cx="584.0" cy="221.6" r=".9"/><circle cx="582.9" cy="195.1" r=".9"/><circle cx="584.2" cy="191.7" r=".9"/><circle cx="582.8" cy="197.1" r=".9"/><circle cx="584.6" cy="198.1" r=".9"/><circle cx="584.5" cy="201.3" r=".9"/><circle cx="586.8" cy="241.1" r=".9"/><circle cx="584.1" cy="191.6" r=".9"/><circle cx="583.9" cy="189.0" r=".9"/><circle cx="583.5" cy="191.0" r=".9"/><circle cx="583.4" cy="206.7" r=".9"/><circle cx="586.4" cy="208.3" r=".9"/><circle cx="584.8" cy="208.3" r=".9"/><circle cx="587.3" cy="219.0" r=".9"/><circle cx="583.2" cy="191.1" r=".9"/><circle cx="584.7" cy="187.7" r=".9"/><circle cx="587.2" cy="241.7" r=".9"/><circle cx="587.9" cy="188.7" r=".9"/><circle cx="586.4" cy="207.1" r=".9"/><circle cx="583.3" cy="228.9" r=".9"/><circle cx="583.5" cy="187.7" r=".9"/><circle cx="586.2" cy="208.9" r=".9"/><circle cx="586.9" cy="214.6" r=".9"/><circle cx="583.7" cy="233.0" r=".9"/></g>
<path d="M508.50,229.40 C511.71,229.40 521.33,231.50 527.75,229.40 C534.17,227.30 540.58,220.05 547.00,216.80 C553.42,213.55 559.83,211.82 566.25,209.90 C572.67,207.98 582.29,206.07 585.50,205.30" fill="none" stroke="#a3b0b2" stroke-width="1.5"/>
<text class="kw" transform="matrix(.93 0 0 1 655.2 276.0)">Kruskal-Wallis, p = 7.8e-07</text>
<line x1="612.30" y1="186.90" x2="612.30" y2="215.60" stroke="#000" stroke-width="0.8"/>
<line x1="612.30" y1="242.10" x2="612.30" y2="272.00" stroke="#000" stroke-width="0.8"/>
<rect x="605.30" y="215.60" width="14.00" height="26.50" fill="#e41b39" stroke="#1e0508" stroke-width="1.0"/>
<line x1="605.30" y1="228.70" x2="619.30" y2="228.70" stroke="#111" stroke-width="1.2"/>
<line x1="631.65" y1="191.50" x2="631.65" y2="208.00" stroke="#000" stroke-width="0.8"/>
<line x1="631.65" y1="237.50" x2="631.65" y2="260.50" stroke="#000" stroke-width="0.8"/>
<rect x="624.65" y="208.00" width="14.00" height="29.50" fill="#e41b39" stroke="#1e0508" stroke-width="1.0"/>
<line x1="624.65" y1="221.40" x2="638.65" y2="221.40" stroke="#111" stroke-width="1.2"/>
<line x1="651.00" y1="184.60" x2="651.00" y2="199.50" stroke="#000" stroke-width="0.8"/>
<line x1="651.00" y1="232.40" x2="651.00" y2="259.30" stroke="#000" stroke-width="0.8"/>
<rect x="644.00" y="199.50" width="14.00" height="32.90" fill="#e41b39" stroke="#1e0508" stroke-width="1.0"/>
<line x1="644.00" y1="215.60" x2="658.00" y2="215.60" stroke="#111" stroke-width="1.2"/>
<line x1="670.35" y1="184.10" x2="670.35" y2="194.90" stroke="#000" stroke-width="0.8"/>
<line x1="670.35" y1="226.40" x2="670.35" y2="255.90" stroke="#000" stroke-width="0.8"/>
<rect x="663.35" y="194.90" width="14.00" height="31.50" fill="#e41b39" stroke="#1e0508" stroke-width="1.0"/>
<line x1="663.35" y1="204.80" x2="677.35" y2="204.80" stroke="#111" stroke-width="1.2"/>
<line x1="689.70" y1="186.90" x2="689.70" y2="193.30" stroke="#000" stroke-width="0.8"/>
<line x1="689.70" y1="220.90" x2="689.70" y2="240.90" stroke="#000" stroke-width="0.8"/>
<rect x="682.70" y="193.30" width="14.00" height="27.60" fill="#e41b39" stroke="#1e0508" stroke-width="1.0"/>
<line x1="682.70" y1="200.70" x2="696.70" y2="200.70" stroke="#111" stroke-width="1.2"/>
<g fill="#555" stroke="#1a1a1a" stroke-width=".4"><circle cx="610.0" cy="246.5" r=".9"/><circle cx="613.1" cy="239.1" r=".9"/><circle cx="612.8" cy="248.6" r=".9"/><circle cx="610.1" cy="216.3" r=".9"/><circle cx="610.0" cy="231.5" r=".9"/><circle cx="612.8" cy="193.8" r=".9"/><circle cx="614.7" cy="224.6" r=".9"/><circle cx="612.5" cy="226.8" r=".9"/><circle cx="613.8" cy="215.2" r=".9"/><circle cx="613.0" cy="234.6" r=".9"/><circle cx="613.7" cy="214.8" r=".9"/><circle cx="612.0" cy="259.1" r=".9"/><circle cx="610.8" cy="265.5" r=".9"/><circle cx="611.9" cy="228.6" r=".9"/><circle cx="614.9" cy="234.8" r=".9"/><circle cx="611.0" cy="209.9" r=".9"/><circle cx="614.7" cy="228.7" r=".9"/><circle cx="609.7" cy="225.1" r=".9"/><circle cx="611.3" cy="229.7" r=".9"/><circle cx="610.0" cy="256.6" r=".9"/><circle cx="611.5" cy="255.4" r=".9"/><circle cx="611.7" cy="229.6" r=".9"/><circle cx="612.6" cy="242.7" r=".9"/><circle cx="611.5" cy="195.0" r=".9"/><circle cx="612.3" cy="235.3" r=".9"/><circle cx="610.3" cy="187.0" r=".9"/><circle cx="611.8" cy="253.1" r=".9"/><circle cx="612.0" cy="241.2" r=".9"/><circle cx="613.1" cy="241.1" r=".9"/><circle cx="611.4" cy="237.5" r=".9"/><circle cx="612.5" cy="270.7" r=".9"/><circle cx="613.6" cy="217.4" r=".9"/><circle cx="611.1" cy="232.6" r=".9"/><circle cx="611.1" cy="197.5" r=".9"/><circle cx="611.1" cy="193.3" r=".9"/><circle cx="610.2" cy="241.6" r=".9"/><circle cx="610.0" cy="265.9" r=".9"/><circle cx="613.4" cy="236.4" r=".9"/><circle cx="614.4" cy="190.3" r=".9"/><circle cx="612.1" cy="237.2" r=".9"/><circle cx="611.0" cy="200.6" r=".9"/><circle cx="609.9" cy="256.9" r=".9"/><circle cx="612.7" cy="268.3" r=".9"/><circle cx="612.2" cy="191.2" r=".9"/><circle cx="630.4" cy="211.2" r=".9"/><circle cx="631.7" cy="203.4" r=".9"/><circle cx="634.1" cy="233.4" r=".9"/><circle cx="633.7" cy="209.5" r=".9"/><circle cx="629.7" cy="243.0" r=".9"/><circle cx="631.4" cy="225.2" r=".9"/><circle cx="632.8" cy="212.2" r=".9"/><circle cx="633.5" cy="217.1" r=".9"/><circle cx="634.3" cy="206.7" r=".9"/><circle cx="631.4" cy="246.4" r=".9"/><circle cx="633.8" cy="229.9" r=".9"/><circle cx="634.2" cy="249.1" r=".9"/><circle cx="629.5" cy="198.9" r=".9"/><circle cx="633.2" cy="223.3" r=".9"/><circle cx="634.3" cy="243.9" r=".9"/><circle cx="629.5" cy="251.6" r=".9"/><circle cx="633.9" cy="198.5" r=".9"/><circle cx="630.2" cy="257.7" r=".9"/><circle cx="629.4" cy="239.5" r=".9"/><circle cx="630.9" cy="236.7" r=".9"/><circle cx="631.7" cy="209.0" r=".9"/><circle cx="632.1" cy="210.9" r=".9"/><circle cx="633.4" cy="217.7" r=".9"/><circle cx="629.5" cy="211.6" r=".9"/><circle cx="632.4" cy="243.6" r=".9"/><circle cx="633.6" cy="207.5" r=".9"/><circle cx="633.1" cy="255.7" r=".9"/><circle cx="632.2" cy="237.4" r=".9"/><circle cx="629.7" cy="242.5" r=".9"/><circle cx="633.6" cy="226.4" r=".9"/><circle cx="634.2" cy="237.7" r=".9"/><circle cx="633.6" cy="215.8" r=".9"/><circle cx="633.8" cy="255.7" r=".9"/><circle cx="629.0" cy="226.0" r=".9"/><circle cx="633.1" cy="226.1" r=".9"/><circle cx="630.2" cy="211.4" r=".9"/><circle cx="629.5" cy="210.3" r=".9"/><circle cx="631.9" cy="231.5" r=".9"/><circle cx="632.1" cy="236.4" r=".9"/><circle cx="633.6" cy="250.5" r=".9"/><circle cx="632.1" cy="220.8" r=".9"/><circle cx="629.9" cy="202.0" r=".9"/><circle cx="631.5" cy="217.5" r=".9"/><circle cx="631.7" cy="208.6" r=".9"/><circle cx="652.7" cy="219.2" r=".9"/><circle cx="649.9" cy="220.2" r=".9"/><circle cx="651.2" cy="216.3" r=".9"/><circle cx="651.0" cy="253.0" r=".9"/><circle cx="652.8" cy="207.8" r=".9"/><circle cx="649.6" cy="198.6" r=".9"/><circle cx="648.4" cy="249.4" r=".9"/><circle cx="650.1" cy="194.7" r=".9"/><circle cx="649.2" cy="222.0" r=".9"/><circle cx="652.0" cy="225.4" r=".9"/><circle cx="649.5" cy="202.9" r=".9"/><circle cx="651.8" cy="200.5" r=".9"/><circle cx="651.3" cy="229.9" r=".9"/><circle cx="651.1" cy="191.6" r=".9"/><circle cx="653.4" cy="214.8" r=".9"/><circle cx="650.2" cy="199.6" r=".9"/><circle cx="651.0" cy="249.2" r=".9"/><circle cx="652.4" cy="230.0" r=".9"/><circle cx="652.1" cy="233.2" r=".9"/><circle cx="651.0" cy="221.0" r=".9"/><circle cx="652.8" cy="244.6" r=".9"/><circle cx="649.0" cy="201.0" r=".9"/><circle cx="649.2" cy="192.7" r=".9"/><circle cx="653.0" cy="229.9" r=".9"/><circle cx="648.8" cy="226.1" r=".9"/><circle cx="650.1" cy="226.2" r=".9"/><circle cx="652.1" cy="255.7" r=".9"/><circle cx="651.3" cy="234.1" r=".9"/><circle cx="653.0" cy="193.8" r=".9"/><circle cx="649.3" cy="247.9" r=".9"/><circle cx="650.8" cy="204.4" r=".9"/><circle cx="651.8" cy="250.1" r=".9"/><circle cx="648.7" cy="196.0" r=".9"/><circle cx="653.4" cy="192.7" r=".9"/><circle cx="652.1" cy="202.2" r=".9"/><circle cx="651.2" cy="258.9" r=".9"/><circle cx="650.1" cy="191.9" r=".9"/><circle cx="650.8" cy="222.9" r=".9"/><circle cx="652.2" cy="213.3" r=".9"/><circle cx="650.9" cy="236.6" r=".9"/><circle cx="649.8" cy="201.7" r=".9"/><circle cx="652.5" cy="188.6" r=".9"/><circle cx="650.9" cy="202.3" r=".9"/><circle cx="648.6" cy="196.2" r=".9"/><circle cx="670.3" cy="214.5" r=".9"/><circle cx="668.6" cy="211.3" r=".9"/><circle cx="669.3" cy="199.0" r=".9"/><circle cx="670.4" cy="190.2" r=".9"/><circle cx="669.7" cy="210.4" r=".9"/><circle cx="669.5" cy="195.6" r=".9"/><circle cx="672.6" cy="255.8" r=".9"/><circle cx="672.3" cy="199.9" r=".9"/><circle cx="671.2" cy="220.2" r=".9"/><circle cx="669.1" cy="218.3" r=".9"/><circle cx="671.7" cy="190.0" r=".9"/><circle cx="669.9" cy="186.8" r=".9"/><circle cx="672.4" cy="197.3" r=".9"/><circle cx="670.6" cy="210.3" r=".9"/><circle cx="669.6" cy="184.9" r=".9"/><circle cx="670.3" cy="211.7" r=".9"/><circle cx="671.3" cy="201.9" r=".9"/><circle cx="672.5" cy="224.4" r=".9"/><circle cx="670.4" cy="187.1" r=".9"/><circle cx="668.1" cy="237.0" r=".9"/><circle cx="671.8" cy="225.0" r=".9"/><circle cx="672.7" cy="203.6" r=".9"/><circle cx="672.3" cy="251.3" r=".9"/><circle cx="671.1" cy="254.5" r=".9"/><circle cx="670.9" cy="208.3" r=".9"/><circle cx="672.5" cy="222.2" r=".9"/><circle cx="671.9" cy="195.2" r=".9"/><circle cx="668.1" cy="215.5" r=".9"/><circle cx="669.6" cy="252.9" r=".9"/><circle cx="668.7" cy="225.6" r=".9"/><circle cx="670.7" cy="196.8" r=".9"/><circle cx="671.8" cy="199.9" r=".9"/><circle cx="671.9" cy="193.0" r=".9"/><circle cx="670.6" cy="191.8" r=".9"/><circle cx="671.0" cy="192.8" r=".9"/><circle cx="669.5" cy="200.5" r=".9"/><circle cx="671.9" cy="222.0" r=".9"/><circle cx="668.0" cy="226.2" r=".9"/><circle cx="668.1" cy="236.1" r=".9"/><circle cx="669.7" cy="188.0" r=".9"/><circle cx="671.1" cy="189.9" r=".9"/><circle cx="672.8" cy="209.4" r=".9"/><circle cx="670.2" cy="211.5" r=".9"/><circle cx="670.4" cy="230.7" r=".9"/><circle cx="687.3" cy="189.7" r=".9"/><circle cx="691.8" cy="187.8" r=".9"/><circle cx="687.8" cy="233.9" r=".9"/><circle cx="691.1" cy="204.9" r=".9"/><circle cx="689.2" cy="204.8" r=".9"/><circle cx="692.1" cy="201.0" r=".9"/><circle cx="690.0" cy="223.6" r=".9"/><circle cx="687.2" cy="213.2" r=".9"/><circle cx="692.0" cy="203.4" r=".9"/><circle cx="688.7" cy="205.2" r=".9"/><circle cx="690.6" cy="201.1" r=".9"/><circle cx="688.6" cy="212.8" r=".9"/><circle cx="690.9" cy="208.7" r=".9"/><circle cx="687.5" cy="205.1" r=".9"/><circle cx="688.0" cy="223.8" r=".9"/><circle cx="688.8" cy="234.1" r=".9"/><circle cx="688.3" cy="188.4" r=".9"/><circle cx="690.7" cy="223.8" r=".9"/><circle cx="691.4" cy="200.2" r=".9"/><circle cx="690.3" cy="205.1" r=".9"/><circle cx="687.5" cy="205.5" r=".9"/><circle cx="689.0" cy="219.4" r=".9"/><circle cx="691.2" cy="195.7" r=".9"/><circle cx="689.0" cy="189.3" r=".9"/><circle cx="688.1" cy="200.3" r=".9"/><circle cx="689.8" cy="234.6" r=".9"/><circle cx="691.7" cy="193.1" r=".9"/><circle cx="687.1" cy="192.3" r=".9"/><circle cx="691.7" cy="240.4" r=".9"/><circle cx="689.4" cy="210.4" r=".9"/><circle cx="690.0" cy="197.3" r=".9"/><circle cx="691.7" cy="196.7" r=".9"/><circle cx="688.6" cy="217.5" r=".9"/><circle cx="691.5" cy="200.9" r=".9"/><circle cx="690.0" cy="233.9" r=".9"/><circle cx="689.6" cy="195.5" r=".9"/><circle cx="688.1" cy="215.9" r=".9"/><circle cx="691.3" cy="227.0" r=".9"/><circle cx="687.2" cy="233.6" r=".9"/><circle cx="689.7" cy="235.1" r=".9"/><circle cx="692.1" cy="230.4" r=".9"/><circle cx="689.3" cy="208.7" r=".9"/><circle cx="691.8" cy="194.5" r=".9"/><circle cx="688.5" cy="202.9" r=".9"/></g>
<path d="M612.30,228.30 C615.52,227.33 625.20,224.42 631.65,222.50 C638.10,220.58 644.55,218.72 651.00,216.80 C657.45,214.88 663.90,212.92 670.35,211.00 C676.80,209.08 686.48,206.25 689.70,205.30" fill="none" stroke="#a3b0b2" stroke-width="1.5"/>
<text class="L" transform="matrix(0.9111 0 0 1.1056 12.17 323.28)" x="0" y="0" style="text-anchor:start">G</text>
<text class="ti" transform="matrix(0.9300 0 0 1.0000 28.0 312.8)" style="text-anchor:start">Avidity of IgG-N at 0.5M NH4SCN</text>
<rect x="27.40" y="318.50" width="100.40" height="10.80" fill="#e6e6e6" stroke="#222" stroke-width="1.1"/>
<text class="st" transform="matrix(.93 0 0 1 77.6 326.0)">Control</text>
<rect x="130.70" y="318.50" width="100.60" height="10.80" fill="#e6e6e6" stroke="#222" stroke-width="1.1"/>
<text class="st" transform="matrix(.93 0 0 1 181.0 326.0)">Convalescent</text>
<text class="yl" x="9.0" y="382.2" transform="rotate(-90 9.0 382.2)">Relative Avidity Index (RAI) in % bound</text>
<line x1="27.40" y1="329.30" x2="27.40" y2="434.50" stroke="#222" stroke-width="0.9"/>
<line x1="25.40" y1="433.20" x2="27.40" y2="433.20" stroke="#222" stroke-width="0.9"/>
<text class="tk" transform="matrix(.93 0 0 1 23.9 435.9)" style="text-anchor:end">20</text>
<line x1="25.40" y1="409.02" x2="27.40" y2="409.02" stroke="#222" stroke-width="0.9"/>
<text class="tk" transform="matrix(.93 0 0 1 23.9 411.7)" style="text-anchor:end">40</text>
<line x1="25.40" y1="384.85" x2="27.40" y2="384.85" stroke="#222" stroke-width="0.9"/>
<text class="tk" transform="matrix(.93 0 0 1 23.9 387.6)" style="text-anchor:end">60</text>
<line x1="25.40" y1="360.68" x2="27.40" y2="360.68" stroke="#222" stroke-width="0.9"/>
<text class="tk" transform="matrix(.93 0 0 1 23.9 363.4)" style="text-anchor:end">80</text>
<line x1="25.40" y1="336.50" x2="27.40" y2="336.50" stroke="#222" stroke-width="0.9"/>
<text class="tk" transform="matrix(.93 0 0 1 23.9 339.2)" style="text-anchor:end">100</text>
<line x1="27.40" y1="434.50" x2="127.80" y2="434.50" stroke="#222" stroke-width="0.9"/>
<line x1="39.30" y1="434.50" x2="39.30" y2="436.50" stroke="#222" stroke-width="0.9"/>
<text class="tk" transform="matrix(.93 0 0 1 39.3 443.7)">-1</text>
<line x1="58.62" y1="434.50" x2="58.62" y2="436.50" stroke="#222" stroke-width="0.9"/>
<text class="tk" transform="matrix(.93 0 0 1 58.6 443.7)">0</text>
<line x1="77.95" y1="434.50" x2="77.95" y2="436.50" stroke="#222" stroke-width="0.9"/>
<text class="tk" transform="matrix(.93 0 0 1 77.9 443.7)">14</text>
<line x1="97.27" y1="434.50" x2="97.27" y2="436.50" stroke="#222" stroke-width="0.9"/>
<text class="tk" transform="matrix(.93 0 0 1 97.3 443.7)">28</text>
<line x1="116.60" y1="434.50" x2="116.60" y2="436.50" stroke="#222" stroke-width="0.9"/>
<text class="tk" transform="matrix(.93 0 0 1 116.6 443.7)">90</text>
<line x1="130.70" y1="434.50" x2="231.30" y2="434.50" stroke="#222" stroke-width="0.9"/>
<line x1="143.00" y1="434.50" x2="143.00" y2="436.50" stroke="#222" stroke-width="0.9"/>
<text class="tk" transform="matrix(.93 0 0 1 143.0 443.7)">-1</text>
<line x1="162.26" y1="434.50" x2="162.26" y2="436.50" stroke="#222" stroke-width="0.9"/>
<text class="tk" transform="matrix(.93 0 0 1 162.3 443.7)">0</text>
<line x1="181.53" y1="434.50" x2="181.53" y2="436.50" stroke="#222" stroke-width="0.9"/>
<text class="tk" transform="matrix(.93 0 0 1 181.5 443.7)">14</text>
<line x1="200.79" y1="434.50" x2="200.79" y2="436.50" stroke="#222" stroke-width="0.9"/>
<text class="tk" transform="matrix(.93 0 0 1 200.8 443.7)">28</text>
<line x1="220.05" y1="434.50" x2="220.05" y2="436.50" stroke="#222" stroke-width="0.9"/>
<text class="tk" transform="matrix(.93 0 0 1 220.1 443.7)">90</text>
<text class="xl" transform="matrix(.93 0 0 1 129.3 452.1)">Days post plasma infusion</text>
<text class="kw" transform="matrix(.93 0 0 1 80.5 348.7)">Kruskal-Wallis, p = 8.3e-12</text>
<line x1="39.30" y1="333.30" x2="39.30" y2="359.30" stroke="#000" stroke-width="0.8"/>
<line x1="39.30" y1="394.00" x2="39.30" y2="423.60" stroke="#000" stroke-width="0.8"/>
<rect x="32.30" y="359.30" width="14.00" height="34.70" fill="#e41b39" stroke="#1e0508" stroke-width="1.0"/>
<line x1="32.30" y1="371.60" x2="46.30" y2="371.60" stroke="#111" stroke-width="1.2"/>
<line x1="58.62" y1="338.50" x2="58.62" y2="360.20" stroke="#000" stroke-width="0.8"/>
<line x1="58.62" y1="388.60" x2="58.62" y2="411.70" stroke="#000" stroke-width="0.8"/>
<rect x="51.62" y="360.20" width="14.00" height="28.40" fill="#e41b39" stroke="#1e0508" stroke-width="1.0"/>
<line x1="51.62" y1="372.70" x2="65.62" y2="372.70" stroke="#111" stroke-width="1.2"/>
<circle cx="58.80" cy="395.90" r="1.3" fill="#000"/>
<line x1="77.95" y1="335.60" x2="77.95" y2="342.00" stroke="#000" stroke-width="0.8"/>
<line x1="77.95" y1="373.40" x2="77.95" y2="416.00" stroke="#000" stroke-width="0.8"/>
<rect x="70.95" y="342.00" width="14.00" height="31.40" fill="#e41b39" stroke="#1e0508" stroke-width="1.0"/>
<line x1="70.95" y1="349.80" x2="84.95" y2="349.80" stroke="#111" stroke-width="1.2"/>
<circle cx="78.36" cy="416.00" r="1.3" fill="#000"/>
<line x1="97.27" y1="337.30" x2="97.27" y2="340.30" stroke="#000" stroke-width="0.8"/>
<line x1="97.27" y1="360.90" x2="97.27" y2="388.10" stroke="#000" stroke-width="0.8"/>
<rect x="90.27" y="340.30" width="14.00" height="20.60" fill="#e41b39" stroke="#1e0508" stroke-width="1.0"/>
<line x1="90.27" y1="346.00" x2="104.27" y2="346.00" stroke="#111" stroke-width="1.2"/>
<circle cx="96.79" cy="394.70" r="1.3" fill="#000"/>
<line x1="116.60" y1="337.30" x2="116.60" y2="340.30" stroke="#000" stroke-width="0.8"/>
<line x1="116.60" y1="357.40" x2="116.60" y2="369.20" stroke="#000" stroke-width="0.8"/>
<rect x="109.60" y="340.30" width="14.00" height="17.10" fill="#e41b39" stroke="#1e0508" stroke-width="1.0"/>
<line x1="109.60" y1="345.50" x2="123.60" y2="345.50" stroke="#111" stroke-width="1.2"/>
<circle cx="116.56" cy="389.30" r="1.3" fill="#000"/>
<circle cx="116.31" cy="392.80" r="1.3" fill="#000"/>
<g fill="#555" stroke="#1a1a1a" stroke-width=".4"><circle cx="41.1" cy="421.6" r=".9"/><circle cx="39.6" cy="380.2" r=".9"/><circle cx="40.6" cy="395.0" r=".9"/><circle cx="36.7" cy="410.7" r=".9"/><circle cx="40.1" cy="398.9" r=".9"/><circle cx="40.2" cy="393.7" r=".9"/><circle cx="41.8" cy="359.8" r=".9"/><circle cx="36.8" cy="389.1" r=".9"/><circle cx="37.8" cy="345.7" r=".9"/><circle cx="39.7" cy="361.9" r=".9"/><circle cx="37.5" cy="414.8" r=".9"/><circle cx="40.4" cy="380.7" r=".9"/><circle cx="40.3" cy="341.0" r=".9"/><circle cx="41.1" cy="390.3" r=".9"/><circle cx="38.0" cy="348.9" r=".9"/><circle cx="41.7" cy="358.5" r=".9"/><circle cx="40.3" cy="387.8" r=".9"/><circle cx="39.1" cy="354.2" r=".9"/><circle cx="40.1" cy="386.9" r=".9"/><circle cx="36.8" cy="389.6" r=".9"/><circle cx="37.1" cy="407.8" r=".9"/><circle cx="41.4" cy="335.6" r=".9"/><circle cx="40.7" cy="398.0" r=".9"/><circle cx="39.8" cy="373.5" r=".9"/><circle cx="39.3" cy="392.2" r=".9"/><circle cx="38.8" cy="375.3" r=".9"/><circle cx="40.3" cy="363.2" r=".9"/><circle cx="39.5" cy="353.1" r=".9"/><circle cx="37.1" cy="362.7" r=".9"/><circle cx="41.3" cy="389.8" r=".9"/><circle cx="41.0" cy="416.2" r=".9"/><circle cx="37.6" cy="389.1" r=".9"/><circle cx="40.5" cy="377.1" r=".9"/><circle cx="41.3" cy="369.8" r=".9"/><circle cx="37.8" cy="373.9" r=".9"/><circle cx="38.6" cy="383.8" r=".9"/><circle cx="36.7" cy="376.4" r=".9"/><circle cx="39.5" cy="340.8" r=".9"/><circle cx="36.9" cy="338.7" r=".9"/><circle cx="41.2" cy="398.5" r=".9"/><circle cx="38.1" cy="360.8" r=".9"/><circle cx="38.3" cy="365.3" r=".9"/><circle cx="37.9" cy="344.9" r=".9"/><circle cx="39.4" cy="363.2" r=".9"/><circle cx="57.6" cy="401.3" r=".9"/><circle cx="60.8" cy="377.7" r=".9"/><circle cx="56.9" cy="365.4" r=".9"/><circle cx="56.3" cy="383.2" r=".9"/><circle cx="58.4" cy="368.2" r=".9"/><circle cx="59.9" cy="350.6" r=".9"/><circle cx="59.3" cy="344.5" r=".9"/><circle cx="58.8" cy="373.7" r=".9"/><circle cx="60.5" cy="365.0" r=".9"/><circle cx="60.5" cy="395.8" r=".9"/><circle cx="61.1" cy="346.5" r=".9"/><circle cx="57.0" cy="410.7" r=".9"/><circle cx="56.8" cy="406.2" r=".9"/><circle cx="56.6" cy="338.7" r=".9"/><circle cx="58.5" cy="362.6" r=".9"/><circle cx="58.6" cy="381.2" r=".9"/><circle cx="56.8" cy="356.8" r=".9"/><circle cx="59.0" cy="357.9" r=".9"/><circle cx="57.7" cy="365.0" r=".9"/><circle cx="59.2" cy="393.1" r=".9"/><circle cx="59.0" cy="382.0" r=".9"/><circle cx="60.5" cy="340.4" r=".9"/><circle cx="57.2" cy="378.2" r=".9"/><circle cx="59.8" cy="371.7" r=".9"/><circle cx="57.5" cy="364.2" r=".9"/><circle cx="59.3" cy="338.8" r=".9"/><circle cx="57.7" cy="380.5" r=".9"/><circle cx="60.0" cy="373.7" r=".9"/><circle cx="57.3" cy="400.4" r=".9"/><circle cx="57.0" cy="367.6" r=".9"/><circle cx="57.9" cy="409.3" r=".9"/><circle cx="57.4" cy="354.5" r=".9"/><circle cx="61.0" cy="360.4" r=".9"/><circle cx="58.7" cy="363.4" r=".9"/><circle cx="57.5" cy="379.2" r=".9"/><circle cx="56.3" cy="352.0" r=".9"/><circle cx="57.6" cy="357.7" r=".9"/><circle cx="60.7" cy="384.6" r=".9"/><circle cx="57.3" cy="407.9" r=".9"/><circle cx="58.4" cy="353.4" r=".9"/><circle cx="61.3" cy="355.9" r=".9"/><circle cx="59.9" cy="350.9" r=".9"/><circle cx="58.6" cy="371.6" r=".9"/><circle cx="57.3" cy="366.3" r=".9"/><circle cx="79.0" cy="340.1" r=".9"/><circle cx="78.8" cy="360.0" r=".9"/><circle cx="80.5" cy="392.3" r=".9"/><circle cx="75.7" cy="393.3" r=".9"/><circle cx="75.4" cy="367.9" r=".9"/><circle cx="79.9" cy="340.7" r=".9"/><circle cx="77.3" cy="371.3" r=".9"/><circle cx="78.2" cy="371.9" r=".9"/><circle cx="75.3" cy="345.5" r=".9"/><circle cx="79.7" cy="345.3" r=".9"/><circle cx="78.9" cy="414.2" r=".9"/><circle cx="77.0" cy="403.7" r=".9"/><circle cx="79.7" cy="344.4" r=".9"/><circle cx="79.0" cy="339.3" r=".9"/><circle cx="77.0" cy="346.0" r=".9"/><circle cx="76.0" cy="359.7" r=".9"/><circle cx="75.3" cy="393.6" r=".9"/><circle cx="76.0" cy="392.6" r=".9"/><circle cx="79.3" cy="336.4" r=".9"/><circle cx="78.2" cy="337.6" r=".9"/><circle cx="77.3" cy="339.5" r=".9"/><circle cx="80.4" cy="337.3" r=".9"/><circle cx="77.0" cy="355.2" r=".9"/><circle cx="79.0" cy="369.7" r=".9"/><circle cx="79.2" cy="415.6" r=".9"/><circle cx="75.8" cy="368.7" r=".9"/><circle cx="79.4" cy="366.7" r=".9"/><circle cx="77.8" cy="344.0" r=".9"/><circle cx="77.4" cy="361.1" r=".9"/><circle cx="78.4" cy="358.9" r=".9"/><circle cx="76.7" cy="337.4" r=".9"/><circle cx="79.8" cy="378.2" r=".9"/><circle cx="77.2" cy="336.4" r=".9"/><circle cx="80.5" cy="341.1" r=".9"/><circle cx="75.6" cy="337.5" r=".9"/><circle cx="75.3" cy="394.8" r=".9"/><circle cx="78.9" cy="356.8" r=".9"/><circle cx="77.0" cy="378.6" r=".9"/><circle cx="75.8" cy="378.6" r=".9"/><circle cx="75.5" cy="341.2" r=".9"/><circle cx="78.8" cy="341.0" r=".9"/><circle cx="75.7" cy="367.7" r=".9"/><circle cx="76.4" cy="414.1" r=".9"/><circle cx="75.5" cy="340.4" r=".9"/><circle cx="98.2" cy="343.3" r=".9"/><circle cx="97.1" cy="345.1" r=".9"/><circle cx="98.0" cy="384.6" r=".9"/><circle cx="94.9" cy="353.1" r=".9"/><circle cx="97.4" cy="339.6" r=".9"/><circle cx="98.7" cy="350.4" r=".9"/><circle cx="97.4" cy="346.0" r=".9"/><circle cx="97.4" cy="361.0" r=".9"/><circle cx="95.7" cy="339.5" r=".9"/><circle cx="97.7" cy="352.3" r=".9"/><circle cx="98.3" cy="350.8" r=".9"/><circle cx="98.8" cy="338.8" r=".9"/><circle cx="96.0" cy="342.8" r=".9"/><circle cx="97.2" cy="347.6" r=".9"/><circle cx="98.5" cy="360.9" r=".9"/><circle cx="99.6" cy="354.7" r=".9"/><circle cx="99.8" cy="378.0" r=".9"/><circle cx="98.9" cy="358.4" r=".9"/><circle cx="98.9" cy="343.3" r=".9"/><circle cx="97.1" cy="347.5" r=".9"/><circle cx="99.5" cy="358.7" r=".9"/><circle cx="96.6" cy="337.8" r=".9"/><circle cx="96.4" cy="366.4" r=".9"/><circle cx="95.3" cy="373.9" r=".9"/><circle cx="95.9" cy="348.8" r=".9"/><circle cx="94.7" cy="347.1" r=".9"/><circle cx="99.3" cy="339.6" r=".9"/><circle cx="98.3" cy="345.7" r=".9"/><circle cx="98.1" cy="387.2" r=".9"/><circle cx="96.1" cy="341.4" r=".9"/><circle cx="95.4" cy="360.5" r=".9"/><circle cx="99.8" cy="341.9" r=".9"/><circle cx="98.6" cy="357.0" r=".9"/><circle cx="94.8" cy="367.5" r=".9"/><circle cx="95.6" cy="342.0" r=".9"/><circle cx="98.8" cy="385.9" r=".9"/><circle cx="95.4" cy="360.3" r=".9"/><circle cx="98.9" cy="371.3" r=".9"/><circle cx="97.5" cy="382.4" r=".9"/><circle cx="94.8" cy="338.3" r=".9"/><circle cx="97.3" cy="380.6" r=".9"/><circle cx="96.1" cy="337.9" r=".9"/><circle cx="98.4" cy="384.0" r=".9"/><circle cx="94.8" cy="380.6" r=".9"/><circle cx="117.6" cy="339.5" r=".9"/><circle cx="117.4" cy="357.9" r=".9"/><circle cx="118.4" cy="340.5" r=".9"/><circle cx="116.7" cy="338.4" r=".9"/><circle cx="117.4" cy="356.1" r=".9"/><circle cx="116.5" cy="353.4" r=".9"/><circle cx="116.1" cy="363.9" r=".9"/><circle cx="115.1" cy="347.0" r=".9"/><circle cx="118.7" cy="353.1" r=".9"/><circle cx="114.6" cy="354.8" r=".9"/><circle cx="118.1" cy="353.0" r=".9"/><circle cx="119.1" cy="343.2" r=".9"/><circle cx="115.8" cy="351.5" r=".9"/><circle cx="116.1" cy="364.1" r=".9"/><circle cx="118.0" cy="339.3" r=".9"/><circle cx="114.6" cy="353.2" r=".9"/><circle cx="117.1" cy="339.0" r=".9"/><circle cx="117.7" cy="358.5" r=".9"/><circle cx="115.3" cy="351.7" r=".9"/><circle cx="117.4" cy="353.4" r=".9"/><circle cx="118.1" cy="337.6" r=".9"/><circle cx="116.8" cy="364.8" r=".9"/><circle cx="117.5" cy="362.3" r=".9"/><circle cx="116.7" cy="337.5" r=".9"/><circle cx="118.7" cy="337.7" r=".9"/><circle cx="115.0" cy="338.3" r=".9"/><circle cx="116.2" cy="360.0" r=".9"/><circle cx="116.9" cy="356.3" r=".9"/><circle cx="117.5" cy="338.6" r=".9"/><circle cx="114.0" cy="362.3" r=".9"/><circle cx="114.5" cy="366.9" r=".9"/><circle cx="116.7" cy="349.3" r=".9"/><circle cx="117.6" cy="358.7" r=".9"/><circle cx="116.5" cy="341.9" r=".9"/><circle cx="114.2" cy="357.4" r=".9"/><circle cx="116.9" cy="358.3" r=".9"/><circle cx="114.5" cy="339.6" r=".9"/><circle cx="119.2" cy="346.4" r=".9"/><circle cx="115.3" cy="350.6" r=".9"/><circle cx="115.9" cy="349.3" r=".9"/><circle cx="116.2" cy="341.8" r=".9"/><circle cx="116.6" cy="338.5" r=".9"/><circle cx="117.9" cy="339.7" r=".9"/><circle cx="115.0" cy="352.5" r=".9"/></g>
<path d="M39.30,373.90 C42.52,373.70 52.18,375.45 58.62,372.70 C65.07,369.95 71.51,360.93 77.95,357.40 C84.39,353.87 90.83,352.77 97.27,351.50 C103.72,350.23 113.38,350.08 116.60,349.80" fill="none" stroke="#a3b0b2" stroke-width="1.5"/>
<text class="kw" transform="matrix(.93 0 0 1 183.5 348.7)">Kruskal-Wallis, p = 2.6e-06</text>
<line x1="143.00" y1="337.30" x2="143.00" y2="357.40" stroke="#000" stroke-width="0.8"/>
<line x1="143.00" y1="383.80" x2="143.00" y2="421.20" stroke="#000" stroke-width="0.8"/>
<rect x="136.00" y="357.40" width="14.00" height="26.40" fill="#e41b39" stroke="#1e0508" stroke-width="1.0"/>
<line x1="136.00" y1="372.70" x2="150.00" y2="372.70" stroke="#111" stroke-width="1.2"/>
<circle cx="143.14" cy="429.50" r="1.3" fill="#000"/>
<line x1="162.26" y1="336.10" x2="162.26" y2="349.80" stroke="#000" stroke-width="0.8"/>
<line x1="162.26" y1="371.60" x2="162.26" y2="392.80" stroke="#000" stroke-width="0.8"/>
<rect x="155.26" y="349.80" width="14.00" height="21.80" fill="#e41b39" stroke="#1e0508" stroke-width="1.0"/>
<line x1="155.26" y1="358.60" x2="169.26" y2="358.60" stroke="#111" stroke-width="1.2"/>
<line x1="181.53" y1="336.10" x2="181.53" y2="343.20" stroke="#000" stroke-width="0.8"/>
<line x1="181.53" y1="367.30" x2="181.53" y2="398.70" stroke="#000" stroke-width="0.8"/>
<rect x="174.53" y="343.20" width="14.00" height="24.10" fill="#e41b39" stroke="#1e0508" stroke-width="1.0"/>
<line x1="174.53" y1="352.60" x2="188.53" y2="352.60" stroke="#111" stroke-width="1.2"/>
<circle cx="181.74" cy="406.50" r="1.3" fill="#000"/>
<line x1="200.79" y1="337.30" x2="200.79" y2="342.70" stroke="#000" stroke-width="0.8"/>
<line x1="200.79" y1="360.90" x2="200.79" y2="376.30" stroke="#000" stroke-width="0.8"/>
<rect x="193.79" y="342.70" width="14.00" height="18.20" fill="#e41b39" stroke="#1e0508" stroke-width="1.0"/>
<line x1="193.79" y1="352.60" x2="207.79" y2="352.60" stroke="#111" stroke-width="1.2"/>
<circle cx="201.13" cy="386.90" r="1.3" fill="#000"/>
<circle cx="201.00" cy="403.50" r="1.3" fill="#000"/>
<circle cx="200.99" cy="411.70" r="1.3" fill="#000"/>
<line x1="220.05" y1="337.30" x2="220.05" y2="342.70" stroke="#000" stroke-width="0.8"/>
<line x1="220.05" y1="357.40" x2="220.05" y2="371.60" stroke="#000" stroke-width="0.8"/>
<rect x="213.05" y="342.70" width="14.00" height="14.70" fill="#e41b39" stroke="#1e0508" stroke-width="1.0"/>
<line x1="213.05" y1="347.90" x2="227.05" y2="347.90" stroke="#111" stroke-width="1.2"/>
<g fill="#555" stroke="#1a1a1a" stroke-width=".4"><circle cx="141.2" cy="391.0" r=".9"/><circle cx="140.4" cy="376.9" r=".9"/><circle cx="145.4" cy="339.1" r=".9"/><circle cx="144.8" cy="349.7" r=".9"/><circle cx="144.9" cy="346.3" r=".9"/><circle cx="143.8" cy="413.0" r=".9"/><circle cx="140.7" cy="340.3" r=".9"/><circle cx="144.0" cy="373.4" r=".9"/><circle cx="145.5" cy="405.0" r=".9"/><circle cx="145.5" cy="379.0" r=".9"/><circle cx="142.6" cy="369.0" r=".9"/><circle cx="140.7" cy="360.7" r=".9"/><circle cx="145.2" cy="362.0" r=".9"/><circle cx="143.3" cy="380.5" r=".9"/><circle cx="144.1" cy="355.3" r=".9"/><circle cx="143.3" cy="363.8" r=".9"/><circle cx="140.5" cy="379.3" r=".9"/><circle cx="142.6" cy="366.4" r=".9"/><circle cx="145.7" cy="383.3" r=".9"/><circle cx="145.5" cy="382.7" r=".9"/><circle cx="141.4" cy="372.3" r=".9"/><circle cx="144.4" cy="347.1" r=".9"/><circle cx="144.1" cy="349.8" r=".9"/><circle cx="142.8" cy="360.9" r=".9"/><circle cx="145.6" cy="390.6" r=".9"/><circle cx="142.6" cy="361.0" r=".9"/><circle cx="141.5" cy="406.5" r=".9"/><circle cx="145.3" cy="407.6" r=".9"/><circle cx="143.4" cy="410.5" r=".9"/><circle cx="140.4" cy="368.5" r=".9"/><circle cx="142.1" cy="371.2" r=".9"/><circle cx="144.9" cy="344.1" r=".9"/><circle cx="143.0" cy="353.3" r=".9"/><circle cx="140.9" cy="379.7" r=".9"/><circle cx="143.0" cy="384.3" r=".9"/><circle cx="145.3" cy="382.6" r=".9"/><circle cx="140.9" cy="370.5" r=".9"/><circle cx="141.2" cy="347.7" r=".9"/><circle cx="141.3" cy="338.2" r=".9"/><circle cx="141.0" cy="383.7" r=".9"/><circle cx="142.1" cy="378.3" r=".9"/><circle cx="141.6" cy="337.7" r=".9"/><circle cx="140.9" cy="379.8" r=".9"/><circle cx="145.6" cy="380.8" r=".9"/><circle cx="162.2" cy="336.8" r=".9"/><circle cx="160.9" cy="374.2" r=".9"/><circle cx="160.3" cy="362.3" r=".9"/><circle cx="164.6" cy="351.2" r=".9"/><circle cx="164.8" cy="342.6" r=".9"/><circle cx="160.9" cy="338.9" r=".9"/><circle cx="162.8" cy="384.9" r=".9"/><circle cx="162.4" cy="366.7" r=".9"/><circle cx="164.7" cy="364.4" r=".9"/><circle cx="160.3" cy="381.9" r=".9"/><circle cx="164.1" cy="359.2" r=".9"/><circle cx="162.7" cy="370.7" r=".9"/><circle cx="163.9" cy="371.0" r=".9"/><circle cx="164.5" cy="352.1" r=".9"/><circle cx="164.6" cy="391.2" r=".9"/><circle cx="162.8" cy="370.5" r=".9"/><circle cx="160.8" cy="362.8" r=".9"/><circle cx="162.0" cy="387.4" r=".9"/><circle cx="161.0" cy="383.5" r=".9"/><circle cx="162.9" cy="368.9" r=".9"/><circle cx="161.9" cy="367.6" r=".9"/><circle cx="161.5" cy="359.2" r=".9"/><circle cx="161.2" cy="348.2" r=".9"/><circle cx="159.6" cy="354.5" r=".9"/><circle cx="161.3" cy="366.7" r=".9"/><circle cx="161.3" cy="346.0" r=".9"/><circle cx="160.3" cy="347.7" r=".9"/><circle cx="161.0" cy="342.1" r=".9"/><circle cx="162.4" cy="361.3" r=".9"/><circle cx="163.0" cy="351.1" r=".9"/><circle cx="161.7" cy="365.0" r=".9"/><circle cx="160.3" cy="336.3" r=".9"/><circle cx="162.4" cy="383.4" r=".9"/><circle cx="159.6" cy="382.7" r=".9"/><circle cx="164.3" cy="392.0" r=".9"/><circle cx="162.3" cy="385.5" r=".9"/><circle cx="163.0" cy="368.1" r=".9"/><circle cx="164.5" cy="345.4" r=".9"/><circle cx="161.3" cy="389.0" r=".9"/><circle cx="164.8" cy="346.9" r=".9"/><circle cx="162.4" cy="341.5" r=".9"/><circle cx="162.5" cy="336.9" r=".9"/><circle cx="161.4" cy="365.5" r=".9"/><circle cx="161.6" cy="365.8" r=".9"/><circle cx="181.7" cy="338.7" r=".9"/><circle cx="180.3" cy="363.4" r=".9"/><circle cx="182.3" cy="352.7" r=".9"/><circle cx="181.5" cy="398.0" r=".9"/><circle cx="179.0" cy="353.1" r=".9"/><circle cx="179.3" cy="357.0" r=".9"/><circle cx="181.3" cy="340.3" r=".9"/><circle cx="180.6" cy="375.0" r=".9"/><circle cx="181.4" cy="347.4" r=".9"/><circle cx="182.5" cy="356.8" r=".9"/><circle cx="182.2" cy="361.3" r=".9"/><circle cx="181.4" cy="387.9" r=".9"/><circle cx="180.7" cy="342.8" r=".9"/><circle cx="182.3" cy="337.7" r=".9"/><circle cx="181.2" cy="393.2" r=".9"/><circle cx="180.8" cy="355.2" r=".9"/><circle cx="182.2" cy="389.0" r=".9"/><circle cx="183.9" cy="375.8" r=".9"/><circle cx="181.9" cy="350.3" r=".9"/><circle cx="184.1" cy="366.0" r=".9"/><circle cx="179.7" cy="374.4" r=".9"/><circle cx="182.5" cy="350.0" r=".9"/><circle cx="179.0" cy="336.6" r=".9"/><circle cx="179.5" cy="377.0" r=".9"/><circle cx="182.8" cy="352.0" r=".9"/><circle cx="181.1" cy="343.0" r=".9"/><circle cx="182.1" cy="346.4" r=".9"/><circle cx="179.6" cy="342.4" r=".9"/><circle cx="182.6" cy="395.6" r=".9"/><circle cx="182.2" cy="336.6" r=".9"/><circle cx="183.1" cy="390.4" r=".9"/><circle cx="182.8" cy="343.3" r=".9"/><circle cx="180.8" cy="340.5" r=".9"/><circle cx="184.1" cy="362.8" r=".9"/><circle cx="184.2" cy="348.5" r=".9"/><circle cx="180.5" cy="353.9" r=".9"/><circle cx="181.4" cy="366.9" r=".9"/><circle cx="181.1" cy="338.9" r=".9"/><circle cx="182.9" cy="343.0" r=".9"/><circle cx="183.8" cy="363.1" r=".9"/><circle cx="180.9" cy="339.9" r=".9"/><circle cx="180.7" cy="383.8" r=".9"/><circle cx="180.5" cy="398.5" r=".9"/><circle cx="180.8" cy="336.2" r=".9"/><circle cx="202.6" cy="344.4" r=".9"/><circle cx="201.1" cy="339.9" r=".9"/><circle cx="200.7" cy="340.0" r=".9"/><circle cx="202.1" cy="356.1" r=".9"/><circle cx="200.1" cy="356.8" r=".9"/><circle cx="202.9" cy="349.6" r=".9"/><circle cx="200.1" cy="341.5" r=".9"/><circle cx="201.4" cy="350.6" r=".9"/><circle cx="203.1" cy="369.3" r=".9"/><circle cx="201.2" cy="374.6" r=".9"/><circle cx="202.0" cy="341.2" r=".9"/><circle cx="198.7" cy="339.6" r=".9"/><circle cx="202.0" cy="342.0" r=".9"/><circle cx="200.9" cy="368.6" r=".9"/><circle cx="200.6" cy="351.6" r=".9"/><circle cx="203.4" cy="340.7" r=".9"/><circle cx="202.3" cy="338.3" r=".9"/><circle cx="201.1" cy="353.6" r=".9"/><circle cx="201.7" cy="348.2" r=".9"/><circle cx="200.8" cy="356.9" r=".9"/><circle cx="199.6" cy="360.8" r=".9"/><circle cx="200.9" cy="374.7" r=".9"/><circle cx="202.9" cy="357.8" r=".9"/><circle cx="200.2" cy="360.7" r=".9"/><circle cx="200.0" cy="357.8" r=".9"/><circle cx="199.9" cy="349.4" r=".9"/><circle cx="198.4" cy="358.1" r=".9"/><circle cx="201.1" cy="341.6" r=".9"/><circle cx="202.2" cy="348.2" r=".9"/><circle cx="200.8" cy="339.4" r=".9"/><circle cx="202.7" cy="364.8" r=".9"/><circle cx="201.5" cy="350.8" r=".9"/><circle cx="200.0" cy="361.0" r=".9"/><circle cx="201.0" cy="346.1" r=".9"/><circle cx="202.1" cy="347.5" r=".9"/><circle cx="202.1" cy="356.2" r=".9"/><circle cx="202.6" cy="343.3" r=".9"/><circle cx="201.8" cy="353.3" r=".9"/><circle cx="198.1" cy="359.2" r=".9"/><circle cx="200.3" cy="340.6" r=".9"/><circle cx="201.3" cy="342.1" r=".9"/><circle cx="200.3" cy="370.5" r=".9"/><circle cx="198.8" cy="357.8" r=".9"/><circle cx="199.4" cy="339.0" r=".9"/><circle cx="218.8" cy="358.9" r=".9"/><circle cx="218.3" cy="356.5" r=".9"/><circle cx="220.8" cy="348.2" r=".9"/><circle cx="218.2" cy="352.5" r=".9"/><circle cx="221.3" cy="365.6" r=".9"/><circle cx="221.0" cy="358.1" r=".9"/><circle cx="221.1" cy="370.5" r=".9"/><circle cx="217.7" cy="363.2" r=".9"/><circle cx="222.1" cy="362.4" r=".9"/><circle cx="220.8" cy="341.4" r=".9"/><circle cx="220.9" cy="350.2" r=".9"/><circle cx="221.9" cy="348.5" r=".9"/><circle cx="221.0" cy="348.7" r=".9"/><circle cx="219.7" cy="339.2" r=".9"/><circle cx="219.3" cy="345.8" r=".9"/><circle cx="219.9" cy="338.3" r=".9"/><circle cx="221.5" cy="351.2" r=".9"/><circle cx="218.4" cy="364.3" r=".9"/><circle cx="218.5" cy="352.7" r=".9"/><circle cx="219.1" cy="361.7" r=".9"/><circle cx="221.6" cy="342.0" r=".9"/><circle cx="218.4" cy="349.4" r=".9"/><circle cx="217.8" cy="356.7" r=".9"/><circle cx="221.9" cy="345.6" r=".9"/><circle cx="217.6" cy="349.9" r=".9"/><circle cx="221.7" cy="350.3" r=".9"/><circle cx="218.8" cy="353.6" r=".9"/><circle cx="217.6" cy="351.5" r=".9"/><circle cx="220.0" cy="341.2" r=".9"/><circle cx="220.3" cy="343.8" r=".9"/><circle cx="217.9" cy="337.9" r=".9"/><circle cx="221.6" cy="349.6" r=".9"/><circle cx="222.1" cy="357.1" r=".9"/><circle cx="220.5" cy="350.6" r=".9"/><circle cx="221.2" cy="354.7" r=".9"/><circle cx="220.1" cy="338.7" r=".9"/><circle cx="217.4" cy="351.3" r=".9"/><circle cx="218.2" cy="339.7" r=".9"/><circle cx="221.3" cy="340.3" r=".9"/><circle cx="222.3" cy="351.9" r=".9"/><circle cx="218.2" cy="362.1" r=".9"/><circle cx="217.5" cy="345.9" r=".9"/><circle cx="220.3" cy="359.9" r=".9"/><circle cx="217.4" cy="349.5" r=".9"/></g>
<path d="M143.00,373.90 C146.21,371.93 155.84,364.93 162.26,362.10 C168.68,359.27 175.10,358.48 181.53,356.90 C187.95,355.32 194.37,354.10 200.79,352.60 C207.21,351.10 216.84,348.68 220.05,347.90" fill="none" stroke="#a3b0b2" stroke-width="1.5"/>
<text class="L" transform="matrix(1.0000 0 0 1.0797 246.60 323.80)" x="0" y="0" style="text-anchor:start">H</text>
<text class="ti" transform="matrix(0.9300 0 0 1.0000 264.3 312.8)" style="text-anchor:start">Spearman Co-efficient of RAI vs days ppi at 1M NH4SCN</text>
<rect x="264.40" y="318.30" width="109.00" height="11.10" fill="#e6e6e6" stroke="#222" stroke-width="1.1"/>
<text class="st" transform="matrix(.93 0 0 1 318.9 326.0)">Control</text>
<rect x="377.90" y="318.30" width="108.40" height="11.10" fill="#e6e6e6" stroke="#222" stroke-width="1.1"/>
<text class="st" transform="matrix(.93 0 0 1 432.1 326.0)">Convalescent</text>
<text class="yl" x="245.1" y="382.1" transform="rotate(-90 245.1 382.1)">Relative Avidity Index (RAI) in % bound</text>
<line x1="264.40" y1="329.40" x2="264.40" y2="434.10" stroke="#222" stroke-width="0.9"/>
<line x1="262.40" y1="411.40" x2="264.40" y2="411.40" stroke="#222" stroke-width="0.9"/>
<text class="tk" transform="matrix(.93 0 0 1 260.9 414.1)" style="text-anchor:end">25</text>
<line x1="262.40" y1="385.10" x2="264.40" y2="385.10" stroke="#222" stroke-width="0.9"/>
<text class="tk" transform="matrix(.93 0 0 1 260.9 387.8)" style="text-anchor:end">50</text>
<line x1="262.40" y1="358.80" x2="264.40" y2="358.80" stroke="#222" stroke-width="0.9"/>
<text class="tk" transform="matrix(.93 0 0 1 260.9 361.5)" style="text-anchor:end">75</text>
<line x1="262.40" y1="332.50" x2="264.40" y2="332.50" stroke="#222" stroke-width="0.9"/>
<text class="tk" transform="matrix(.93 0 0 1 260.9 335.2)" style="text-anchor:end">100</text>
<line x1="264.40" y1="434.10" x2="373.40" y2="434.10" stroke="#222" stroke-width="0.9"/>
<line x1="269.80" y1="434.10" x2="269.80" y2="436.10" stroke="#222" stroke-width="0.9"/>
<text class="tk" transform="matrix(.93 0 0 1 269.8 443.3)">0</text>
<line x1="297.22" y1="434.10" x2="297.22" y2="436.10" stroke="#222" stroke-width="0.9"/>
<text class="tk" transform="matrix(.93 0 0 1 297.2 443.3)">25</text>
<line x1="324.63" y1="434.10" x2="324.63" y2="436.10" stroke="#222" stroke-width="0.9"/>
<text class="tk" transform="matrix(.93 0 0 1 324.6 443.3)">50</text>
<line x1="352.05" y1="434.10" x2="352.05" y2="436.10" stroke="#222" stroke-width="0.9"/>
<text class="tk" transform="matrix(.93 0 0 1 352.1 443.3)">75</text>
<path d="M269.80,373.30 L273.09,372.73 L276.38,372.13 L279.67,371.50 L282.96,370.85 L286.25,370.17 L289.54,369.45 L292.83,368.71 L296.12,367.95 L299.41,367.15 L302.70,366.33 L305.99,365.48 L309.28,364.60 L312.57,363.72 L315.86,362.81 L319.15,361.88 L322.44,360.94 L325.73,359.98 L329.02,359.01 L332.31,358.01 L335.60,357.00 L338.89,355.97 L342.18,354.92 L345.47,353.85 L348.76,352.77 L352.05,351.67 L355.34,350.55 L358.63,349.41 L361.92,348.26 L365.21,347.09 L368.50,345.90 L368.50,356.90 L365.21,357.42 L361.92,357.97 L358.63,358.53 L355.34,359.10 L352.05,359.70 L348.76,360.31 L345.47,360.94 L342.18,361.59 L338.89,362.25 L335.60,362.94 L332.31,363.64 L329.02,364.35 L325.73,365.09 L322.44,365.84 L319.15,366.62 L315.86,367.40 L312.57,368.21 L309.28,369.04 L305.99,369.88 L302.70,370.74 L299.41,371.63 L296.12,372.55 L292.83,373.49 L289.54,374.47 L286.25,375.47 L282.96,376.50 L279.67,377.56 L276.38,378.64 L273.09,379.76 L269.80,380.90Z" fill="#c9d0d8" fill-opacity="0.55"/>
<g fill="#000"><circle cx="269.8" cy="340.4" r="1.6"/><circle cx="269.6" cy="342.0" r="1.6"/><circle cx="269.4" cy="343.6" r="1.6"/><circle cx="269.4" cy="345.2" r="1.6"/><circle cx="269.5" cy="348.2" r="1.6"/><circle cx="269.7" cy="349.9" r="1.6"/><circle cx="269.5" cy="351.5" r="1.6"/><circle cx="269.8" cy="353.2" r="1.6"/><circle cx="269.5" cy="354.9" r="1.6"/><circle cx="270.0" cy="356.7" r="1.6"/><circle cx="270.2" cy="358.3" r="1.6"/><circle cx="269.6" cy="359.9" r="1.6"/><circle cx="269.4" cy="361.5" r="1.6"/><circle cx="270.3" cy="363.1" r="1.6"/><circle cx="269.4" cy="364.7" r="1.6"/><circle cx="269.9" cy="366.3" r="1.6"/><circle cx="270.1" cy="369.9" r="1.6"/><circle cx="269.8" cy="371.4" r="1.6"/><circle cx="270.2" cy="373.0" r="1.6"/><circle cx="269.4" cy="374.5" r="1.6"/><circle cx="270.0" cy="376.0" r="1.6"/><circle cx="270.2" cy="377.6" r="1.6"/><circle cx="270.2" cy="379.1" r="1.6"/><circle cx="270.1" cy="380.6" r="1.6"/><circle cx="269.7" cy="382.1" r="1.6"/><circle cx="269.8" cy="383.7" r="1.6"/><circle cx="270.1" cy="385.2" r="1.6"/><circle cx="269.7" cy="386.7" r="1.6"/><circle cx="269.6" cy="388.3" r="1.6"/><circle cx="269.3" cy="389.8" r="1.6"/><circle cx="269.5" cy="391.3" r="1.6"/><circle cx="269.4" cy="392.9" r="1.6"/><circle cx="270.2" cy="394.4" r="1.6"/><circle cx="269.6" cy="395.9" r="1.6"/><circle cx="269.7" cy="397.5" r="1.6"/><circle cx="270.3" cy="399.0" r="1.6"/><circle cx="270.0" cy="400.5" r="1.6"/><circle cx="269.7" cy="402.0" r="1.6"/><circle cx="269.4" cy="403.6" r="1.6"/><circle cx="269.7" cy="405.1" r="1.6"/><circle cx="269.6" cy="406.6" r="1.6"/><circle cx="270.2" cy="408.2" r="1.6"/><circle cx="269.7" cy="409.7" r="1.6"/><circle cx="270.3" cy="413.3" r="1.6"/><circle cx="269.6" cy="416.9" r="1.6"/><circle cx="269.3" cy="419.0" r="1.6"/><circle cx="270.2" cy="421.7" r="1.6"/><circle cx="269.4" cy="424.1" r="1.6"/><circle cx="285.4" cy="333.8" r="1.6"/><circle cx="285.2" cy="335.4" r="1.6"/><circle cx="284.9" cy="337.0" r="1.6"/><circle cx="285.5" cy="338.6" r="1.6"/><circle cx="285.1" cy="340.2" r="1.6"/><circle cx="285.6" cy="341.8" r="1.6"/><circle cx="285.2" cy="343.4" r="1.6"/><circle cx="285.6" cy="345.0" r="1.6"/><circle cx="285.6" cy="346.6" r="1.6"/><circle cx="285.0" cy="348.2" r="1.6"/><circle cx="285.3" cy="349.8" r="1.6"/><circle cx="285.4" cy="351.4" r="1.6"/><circle cx="285.3" cy="353.0" r="1.6"/><circle cx="284.7" cy="363.9" r="1.6"/><circle cx="285.3" cy="366.9" r="1.6"/><circle cx="285.4" cy="369.9" r="1.6"/><circle cx="284.8" cy="372.0" r="1.6"/><circle cx="284.7" cy="375.7" r="1.6"/><circle cx="284.7" cy="379.5" r="1.6"/><circle cx="285.2" cy="383.2" r="1.6"/><circle cx="284.8" cy="387.4" r="1.6"/><circle cx="285.5" cy="390.2" r="1.6"/><circle cx="285.1" cy="393.0" r="1.6"/><circle cx="285.6" cy="395.8" r="1.6"/><circle cx="285.4" cy="401.8" r="1.6"/><circle cx="285.1" cy="405.4" r="1.6"/><circle cx="284.8" cy="409.0" r="1.6"/><circle cx="285.1" cy="357.9" r="1.6"/><circle cx="285.3" cy="413.9" r="1.6"/><circle cx="285.5" cy="421.1" r="1.6"/><circle cx="300.9" cy="336.2" r="1.6"/><circle cx="300.3" cy="337.8" r="1.6"/><circle cx="300.0" cy="339.4" r="1.6"/><circle cx="300.7" cy="341.0" r="1.6"/><circle cx="300.7" cy="342.6" r="1.6"/><circle cx="300.7" cy="344.2" r="1.6"/><circle cx="300.8" cy="345.8" r="1.6"/><circle cx="300.8" cy="347.4" r="1.6"/><circle cx="300.6" cy="349.0" r="1.6"/><circle cx="300.8" cy="350.6" r="1.6"/><circle cx="300.1" cy="353.0" r="1.6"/><circle cx="301.0" cy="357.9" r="1.6"/><circle cx="300.7" cy="368.7" r="1.6"/><circle cx="300.1" cy="371.0" r="1.6"/><circle cx="300.2" cy="377.0" r="1.6"/><circle cx="300.6" cy="379.5" r="1.6"/><circle cx="300.3" cy="382.0" r="1.6"/><circle cx="300.9" cy="393.4" r="1.6"/><circle cx="300.3" cy="394.6" r="1.6"/><circle cx="300.5" cy="401.2" r="1.6"/><circle cx="300.5" cy="403.0" r="1.6"/><circle cx="300.9" cy="363.9" r="1.6"/><circle cx="300.3" cy="388.0" r="1.6"/><circle cx="300.9" cy="413.5" r="1.6"/><circle cx="368.7" cy="335.6" r="1.6"/><circle cx="368.6" cy="337.2" r="1.6"/><circle cx="368.9" cy="338.9" r="1.6"/><circle cx="368.9" cy="340.5" r="1.6"/><circle cx="368.7" cy="342.1" r="1.6"/><circle cx="368.5" cy="343.8" r="1.6"/><circle cx="368.0" cy="345.4" r="1.6"/><circle cx="368.2" cy="347.0" r="1.6"/><circle cx="368.7" cy="348.7" r="1.6"/><circle cx="368.1" cy="350.3" r="1.6"/><circle cx="368.6" cy="357.3" r="1.6"/><circle cx="368.3" cy="359.7" r="1.6"/><circle cx="368.4" cy="366.8" r="1.6"/><circle cx="368.8" cy="372.7" r="1.6"/><circle cx="368.8" cy="375.1" r="1.6"/><circle cx="368.7" cy="384.5" r="1.6"/><circle cx="368.4" cy="398.7" r="1.6"/><circle cx="368.5" cy="399.9" r="1.6"/></g>
<line x1="269.80" y1="377.10" x2="368.50" y2="351.40" stroke="#2a2ad2" stroke-width="1.5"/>
<text x="316.30" y="429.20" class="rt"><tspan font-style="italic">R</tspan> = 0.46, <tspan font-style="italic">p</tspan> = 1.1e-12</text>
<line x1="377.90" y1="434.10" x2="486.30" y2="434.10" stroke="#222" stroke-width="0.9"/>
<line x1="382.10" y1="434.10" x2="382.10" y2="436.10" stroke="#222" stroke-width="0.9"/>
<text class="tk" transform="matrix(.93 0 0 1 382.1 443.3)">0</text>
<line x1="409.77" y1="434.10" x2="409.77" y2="436.10" stroke="#222" stroke-width="0.9"/>
<text class="tk" transform="matrix(.93 0 0 1 409.8 443.3)">25</text>
<line x1="437.43" y1="434.10" x2="437.43" y2="436.10" stroke="#222" stroke-width="0.9"/>
<text class="tk" transform="matrix(.93 0 0 1 437.4 443.3)">50</text>
<line x1="465.10" y1="434.10" x2="465.10" y2="436.10" stroke="#222" stroke-width="0.9"/>
<text class="tk" transform="matrix(.93 0 0 1 465.1 443.3)">75</text>
<path d="M382.10,371.70 L385.42,371.29 L388.74,370.84 L392.06,370.37 L395.38,369.88 L398.70,369.35 L402.02,368.79 L405.34,368.21 L408.66,367.60 L411.98,366.96 L415.30,366.29 L418.62,365.60 L421.94,364.88 L425.26,364.15 L428.58,363.40 L431.90,362.63 L435.22,361.85 L438.54,361.05 L441.86,360.23 L445.18,359.39 L448.50,358.53 L451.82,357.66 L455.14,356.77 L458.46,355.86 L461.78,354.93 L465.10,353.99 L468.42,353.02 L471.74,352.04 L475.06,351.05 L478.38,350.03 L481.70,349.00 L481.70,360.00 L478.38,360.37 L475.06,360.75 L471.74,361.16 L468.42,361.58 L465.10,362.01 L461.78,362.47 L458.46,362.94 L455.14,363.43 L451.82,363.94 L448.50,364.47 L445.18,365.01 L441.86,365.57 L438.54,366.15 L435.22,366.75 L431.90,367.37 L428.58,368.00 L425.26,368.65 L421.94,369.32 L418.62,370.00 L415.30,370.71 L411.98,371.44 L408.66,372.20 L405.34,372.99 L402.02,373.81 L398.70,374.65 L395.38,375.52 L392.06,376.43 L388.74,377.36 L385.42,378.31 L382.10,379.30Z" fill="#c9d0d8" fill-opacity="0.55"/>
<g fill="#000"><circle cx="382.6" cy="342.0" r="1.6"/><circle cx="382.5" cy="343.9" r="1.6"/><circle cx="382.2" cy="345.8" r="1.6"/><circle cx="381.7" cy="347.7" r="1.6"/><circle cx="382.5" cy="349.6" r="1.6"/><circle cx="381.6" cy="351.5" r="1.6"/><circle cx="381.7" cy="353.4" r="1.6"/><circle cx="382.3" cy="355.3" r="1.6"/><circle cx="381.8" cy="357.2" r="1.6"/><circle cx="382.4" cy="359.2" r="1.6"/><circle cx="382.3" cy="361.1" r="1.6"/><circle cx="381.8" cy="363.0" r="1.6"/><circle cx="382.5" cy="364.9" r="1.6"/><circle cx="382.6" cy="366.8" r="1.6"/><circle cx="382.3" cy="368.7" r="1.6"/><circle cx="382.6" cy="370.6" r="1.6"/><circle cx="382.4" cy="372.5" r="1.6"/><circle cx="382.1" cy="374.4" r="1.6"/><circle cx="382.4" cy="376.3" r="1.6"/><circle cx="382.5" cy="378.2" r="1.6"/><circle cx="382.3" cy="380.1" r="1.6"/><circle cx="381.7" cy="382.0" r="1.6"/><circle cx="382.0" cy="383.9" r="1.6"/><circle cx="382.3" cy="385.8" r="1.6"/><circle cx="382.0" cy="387.7" r="1.6"/><circle cx="381.8" cy="389.6" r="1.6"/><circle cx="382.1" cy="391.6" r="1.6"/><circle cx="381.7" cy="393.5" r="1.6"/><circle cx="382.1" cy="395.4" r="1.6"/><circle cx="381.7" cy="397.3" r="1.6"/><circle cx="382.3" cy="399.2" r="1.6"/><circle cx="381.8" cy="401.1" r="1.6"/><circle cx="382.5" cy="403.0" r="1.6"/><circle cx="381.7" cy="404.9" r="1.6"/><circle cx="382.2" cy="406.8" r="1.6"/><circle cx="382.2" cy="410.4" r="1.6"/><circle cx="381.8" cy="413.5" r="1.6"/><circle cx="382.2" cy="416.7" r="1.6"/><circle cx="382.1" cy="419.8" r="1.6"/><circle cx="382.2" cy="337.3" r="1.6"/><circle cx="381.8" cy="429.2" r="1.6"/><circle cx="397.6" cy="332.5" r="1.6"/><circle cx="397.9" cy="334.1" r="1.6"/><circle cx="397.7" cy="335.8" r="1.6"/><circle cx="397.3" cy="337.4" r="1.6"/><circle cx="397.4" cy="339.1" r="1.6"/><circle cx="398.0" cy="340.7" r="1.6"/><circle cx="397.1" cy="342.3" r="1.6"/><circle cx="397.6" cy="344.0" r="1.6"/><circle cx="397.6" cy="345.6" r="1.6"/><circle cx="397.5" cy="347.2" r="1.6"/><circle cx="397.1" cy="348.9" r="1.6"/><circle cx="397.2" cy="350.5" r="1.6"/><circle cx="397.9" cy="352.2" r="1.6"/><circle cx="397.5" cy="353.8" r="1.6"/><circle cx="397.4" cy="355.4" r="1.6"/><circle cx="397.5" cy="357.1" r="1.6"/><circle cx="397.1" cy="358.7" r="1.6"/><circle cx="397.2" cy="360.4" r="1.6"/><circle cx="397.9" cy="362.0" r="1.6"/><circle cx="397.9" cy="366.0" r="1.6"/><circle cx="397.3" cy="368.0" r="1.6"/><circle cx="397.4" cy="370.0" r="1.6"/><circle cx="397.2" cy="372.0" r="1.6"/><circle cx="397.4" cy="374.0" r="1.6"/><circle cx="397.6" cy="376.0" r="1.6"/><circle cx="397.8" cy="380.0" r="1.6"/><circle cx="397.6" cy="382.0" r="1.6"/><circle cx="397.9" cy="384.0" r="1.6"/><circle cx="398.1" cy="386.0" r="1.6"/><circle cx="397.7" cy="388.0" r="1.6"/><circle cx="397.1" cy="390.0" r="1.6"/><circle cx="397.2" cy="392.0" r="1.6"/><circle cx="397.8" cy="394.0" r="1.6"/><circle cx="397.2" cy="396.0" r="1.6"/><circle cx="398.0" cy="397.9" r="1.6"/><circle cx="397.1" cy="399.9" r="1.6"/><circle cx="397.1" cy="401.9" r="1.6"/><circle cx="398.1" cy="403.9" r="1.6"/><circle cx="397.5" cy="405.9" r="1.6"/><circle cx="397.6" cy="407.9" r="1.6"/><circle cx="397.7" cy="409.9" r="1.6"/><circle cx="397.2" cy="411.9" r="1.6"/><circle cx="397.4" cy="413.9" r="1.6"/><circle cx="413.0" cy="332.5" r="1.6"/><circle cx="413.3" cy="334.1" r="1.6"/><circle cx="413.4" cy="335.7" r="1.6"/><circle cx="413.3" cy="337.4" r="1.6"/><circle cx="412.8" cy="339.0" r="1.6"/><circle cx="413.0" cy="340.6" r="1.6"/><circle cx="413.5" cy="342.2" r="1.6"/><circle cx="412.8" cy="343.8" r="1.6"/><circle cx="412.9" cy="345.4" r="1.6"/><circle cx="413.2" cy="347.1" r="1.6"/><circle cx="413.6" cy="348.7" r="1.6"/><circle cx="412.6" cy="350.3" r="1.6"/><circle cx="413.3" cy="351.9" r="1.6"/><circle cx="413.0" cy="353.5" r="1.6"/><circle cx="413.1" cy="355.2" r="1.6"/><circle cx="413.4" cy="356.8" r="1.6"/><circle cx="412.7" cy="358.4" r="1.6"/><circle cx="413.2" cy="360.0" r="1.6"/><circle cx="412.9" cy="361.6" r="1.6"/><circle cx="413.3" cy="363.3" r="1.6"/><circle cx="413.3" cy="364.9" r="1.6"/><circle cx="413.0" cy="366.5" r="1.6"/><circle cx="412.7" cy="368.1" r="1.6"/><circle cx="413.4" cy="369.7" r="1.6"/><circle cx="413.3" cy="371.3" r="1.6"/><circle cx="413.2" cy="373.0" r="1.6"/><circle cx="413.3" cy="374.6" r="1.6"/><circle cx="413.5" cy="376.2" r="1.6"/><circle cx="412.8" cy="379.7" r="1.6"/><circle cx="413.3" cy="383.2" r="1.6"/><circle cx="413.4" cy="386.8" r="1.6"/><circle cx="412.9" cy="390.3" r="1.6"/><circle cx="413.5" cy="396.2" r="1.6"/><circle cx="412.9" cy="400.9" r="1.6"/><circle cx="413.5" cy="411.0" r="1.6"/><circle cx="413.2" cy="412.7" r="1.6"/><circle cx="482.2" cy="334.9" r="1.6"/><circle cx="482.1" cy="336.5" r="1.6"/><circle cx="482.0" cy="338.1" r="1.6"/><circle cx="481.6" cy="339.7" r="1.6"/><circle cx="481.7" cy="341.3" r="1.6"/><circle cx="481.8" cy="342.9" r="1.6"/><circle cx="482.0" cy="344.5" r="1.6"/><circle cx="481.6" cy="346.1" r="1.6"/><circle cx="482.1" cy="347.7" r="1.6"/><circle cx="481.4" cy="349.3" r="1.6"/><circle cx="481.7" cy="350.9" r="1.6"/><circle cx="481.3" cy="352.5" r="1.6"/><circle cx="481.4" cy="354.1" r="1.6"/><circle cx="481.5" cy="355.7" r="1.6"/><circle cx="481.2" cy="357.3" r="1.6"/><circle cx="481.8" cy="377.3" r="1.6"/><circle cx="481.8" cy="380.1" r="1.6"/><circle cx="481.6" cy="382.8" r="1.6"/><circle cx="482.0" cy="385.6" r="1.6"/><circle cx="481.7" cy="362.0" r="1.6"/><circle cx="481.9" cy="365.6" r="1.6"/><circle cx="481.3" cy="369.1" r="1.6"/><circle cx="481.5" cy="372.6" r="1.6"/><circle cx="481.2" cy="389.8" r="1.6"/><circle cx="481.4" cy="395.5" r="1.6"/></g>
<line x1="382.10" y1="375.50" x2="481.70" y2="354.50" stroke="#2a2ad2" stroke-width="1.5"/>
<text x="430.00" y="429.40" class="rt"><tspan font-style="italic">R</tspan> = 0.38, <tspan font-style="italic">p</tspan> = 1.7e-09</text>
<text class="xl" transform="matrix(.93 0 0 1 375.4 452.3)">Days post plasma infusion (days ppi)</text>
<text class="L" transform="matrix(1.2069 0 0 1.0797 503.13 323.40)" x="0" y="0" style="text-anchor:start">I</text>
<text class="ti" transform="matrix(0.9300 0 0 1.0000 518.5 312.8)" style="text-anchor:start">Spearman Co-efficient of RAI vs days ppi at 1.5M NH4SCN</text>
<rect x="518.40" y="318.00" width="109.40" height="11.40" fill="#e6e6e6" stroke="#222" stroke-width="1.1"/>
<text class="st" transform="matrix(.93 0 0 1 573.1 325.8)">Control</text>
<rect x="631.80" y="318.00" width="107.70" height="11.40" fill="#e6e6e6" stroke="#222" stroke-width="1.1"/>
<text class="st" transform="matrix(.93 0 0 1 685.6 325.8)">Convalescent</text>
<text class="yl" x="499.7" y="382.1" transform="rotate(-90 499.7 382.1)">Relative Avidity Index (RAI) in % bound</text>
<line x1="518.40" y1="329.40" x2="518.40" y2="434.20" stroke="#222" stroke-width="0.9"/>
<line x1="516.40" y1="433.10" x2="518.40" y2="433.10" stroke="#222" stroke-width="0.9"/>
<text class="tk" transform="matrix(.93 0 0 1 514.9 435.8)" style="text-anchor:end">0</text>
<line x1="516.40" y1="407.62" x2="518.40" y2="407.62" stroke="#222" stroke-width="0.9"/>
<text class="tk" transform="matrix(.93 0 0 1 514.9 410.3)" style="text-anchor:end">25</text>
<line x1="516.40" y1="382.15" x2="518.40" y2="382.15" stroke="#222" stroke-width="0.9"/>
<text class="tk" transform="matrix(.93 0 0 1 514.9 384.8)" style="text-anchor:end">50</text>
<line x1="516.40" y1="356.68" x2="518.40" y2="356.68" stroke="#222" stroke-width="0.9"/>
<text class="tk" transform="matrix(.93 0 0 1 514.9 359.4)" style="text-anchor:end">75</text>
<line x1="516.40" y1="331.20" x2="518.40" y2="331.20" stroke="#222" stroke-width="0.9"/>
<text class="tk" transform="matrix(.93 0 0 1 514.9 333.9)" style="text-anchor:end">100</text>
<line x1="518.40" y1="434.20" x2="627.80" y2="434.20" stroke="#222" stroke-width="0.9"/>
<line x1="524.00" y1="434.20" x2="524.00" y2="436.20" stroke="#222" stroke-width="0.9"/>
<text class="tk" transform="matrix(.93 0 0 1 524.0 443.4)">0</text>
<line x1="551.39" y1="434.20" x2="551.39" y2="436.20" stroke="#222" stroke-width="0.9"/>
<text class="tk" transform="matrix(.93 0 0 1 551.4 443.4)">25</text>
<line x1="578.78" y1="434.20" x2="578.78" y2="436.20" stroke="#222" stroke-width="0.9"/>
<text class="tk" transform="matrix(.93 0 0 1 578.8 443.4)">50</text>
<line x1="606.17" y1="434.20" x2="606.17" y2="436.20" stroke="#222" stroke-width="0.9"/>
<text class="tk" transform="matrix(.93 0 0 1 606.2 443.4)">75</text>
<path d="M524.00,387.10 L527.29,386.57 L530.57,386.00 L533.86,385.41 L537.15,384.80 L540.43,384.15 L543.72,383.47 L547.01,382.77 L550.29,382.04 L553.58,381.28 L556.87,380.49 L560.15,379.68 L563.44,378.84 L566.73,377.99 L570.01,377.12 L573.30,376.23 L576.59,375.33 L579.87,374.41 L583.16,373.47 L586.45,372.51 L589.73,371.53 L593.02,370.54 L596.31,369.53 L599.59,368.50 L602.88,367.45 L606.17,366.39 L609.45,365.30 L612.74,364.20 L616.03,363.09 L619.31,361.95 L622.60,360.80 L622.60,371.80 L619.31,372.29 L616.03,372.79 L612.74,373.32 L609.45,373.86 L606.17,374.41 L602.88,374.99 L599.59,375.58 L596.31,376.19 L593.02,376.82 L589.73,377.47 L586.45,378.13 L583.16,378.81 L579.87,379.51 L576.59,380.23 L573.30,380.97 L570.01,381.72 L566.73,382.49 L563.44,383.28 L560.15,384.08 L556.87,384.91 L553.58,385.76 L550.29,386.64 L547.01,387.55 L543.72,388.49 L540.43,389.45 L537.15,390.44 L533.86,391.47 L530.57,392.52 L527.29,393.59 L524.00,394.70Z" fill="#c9d0d8" fill-opacity="0.55"/>
<g fill="#000"><circle cx="524.4" cy="368.4" r="1.55"/><circle cx="523.6" cy="370.4" r="1.55"/><circle cx="524.1" cy="372.5" r="1.55"/><circle cx="523.9" cy="374.5" r="1.55"/><circle cx="524.2" cy="376.6" r="1.55"/><circle cx="524.4" cy="378.6" r="1.55"/><circle cx="524.4" cy="380.7" r="1.55"/><circle cx="524.6" cy="382.7" r="1.55"/><circle cx="524.6" cy="384.8" r="1.55"/><circle cx="523.9" cy="386.8" r="1.55"/><circle cx="524.6" cy="388.8" r="1.55"/><circle cx="524.3" cy="390.9" r="1.55"/><circle cx="523.7" cy="392.9" r="1.55"/><circle cx="523.8" cy="395.0" r="1.55"/><circle cx="524.0" cy="397.0" r="1.55"/><circle cx="524.4" cy="399.1" r="1.55"/><circle cx="523.5" cy="401.1" r="1.55"/><circle cx="524.5" cy="403.2" r="1.55"/><circle cx="524.2" cy="405.2" r="1.55"/><circle cx="524.1" cy="407.3" r="1.55"/><circle cx="523.9" cy="409.3" r="1.55"/><circle cx="523.9" cy="411.3" r="1.55"/><circle cx="523.9" cy="413.4" r="1.55"/><circle cx="524.3" cy="415.4" r="1.55"/><circle cx="523.9" cy="417.5" r="1.55"/><circle cx="524.3" cy="419.5" r="1.55"/><circle cx="524.5" cy="421.6" r="1.55"/><circle cx="523.5" cy="423.6" r="1.55"/><circle cx="523.4" cy="425.7" r="1.55"/><circle cx="524.5" cy="427.7" r="1.55"/><circle cx="523.7" cy="352.5" r="1.55"/><circle cx="524.3" cy="354.7" r="1.55"/><circle cx="523.9" cy="358.0" r="1.55"/><circle cx="523.7" cy="359.6" r="1.55"/><circle cx="538.8" cy="346.0" r="1.55"/><circle cx="539.3" cy="348.0" r="1.55"/><circle cx="539.5" cy="350.0" r="1.55"/><circle cx="538.8" cy="352.0" r="1.55"/><circle cx="538.8" cy="355.8" r="1.55"/><circle cx="539.1" cy="357.8" r="1.55"/><circle cx="539.8" cy="359.8" r="1.55"/><circle cx="539.6" cy="361.9" r="1.55"/><circle cx="539.0" cy="363.9" r="1.55"/><circle cx="539.2" cy="365.9" r="1.55"/><circle cx="539.2" cy="367.9" r="1.55"/><circle cx="539.6" cy="370.0" r="1.55"/><circle cx="539.1" cy="372.0" r="1.55"/><circle cx="539.2" cy="374.0" r="1.55"/><circle cx="539.3" cy="376.0" r="1.55"/><circle cx="539.0" cy="378.1" r="1.55"/><circle cx="539.3" cy="380.1" r="1.55"/><circle cx="539.6" cy="382.1" r="1.55"/><circle cx="539.3" cy="384.1" r="1.55"/><circle cx="538.8" cy="386.1" r="1.55"/><circle cx="539.2" cy="388.2" r="1.55"/><circle cx="539.4" cy="390.2" r="1.55"/><circle cx="539.0" cy="392.2" r="1.55"/><circle cx="539.2" cy="394.2" r="1.55"/><circle cx="539.4" cy="396.3" r="1.55"/><circle cx="539.2" cy="398.3" r="1.55"/><circle cx="539.0" cy="400.3" r="1.55"/><circle cx="539.8" cy="402.3" r="1.55"/><circle cx="538.8" cy="404.3" r="1.55"/><circle cx="539.8" cy="406.4" r="1.55"/><circle cx="538.9" cy="408.4" r="1.55"/><circle cx="539.4" cy="410.4" r="1.55"/><circle cx="539.4" cy="412.4" r="1.55"/><circle cx="539.2" cy="414.5" r="1.55"/><circle cx="539.5" cy="416.5" r="1.55"/><circle cx="539.8" cy="418.5" r="1.55"/><circle cx="539.1" cy="420.5" r="1.55"/><circle cx="538.8" cy="422.6" r="1.55"/><circle cx="539.0" cy="424.6" r="1.55"/><circle cx="539.8" cy="426.6" r="1.55"/><circle cx="554.8" cy="342.0" r="1.55"/><circle cx="555.0" cy="344.5" r="1.55"/><circle cx="554.5" cy="347.0" r="1.55"/><circle cx="554.5" cy="349.0" r="1.55"/><circle cx="554.9" cy="351.0" r="1.55"/><circle cx="554.8" cy="353.0" r="1.55"/><circle cx="555.2" cy="355.0" r="1.55"/><circle cx="554.3" cy="357.0" r="1.55"/><circle cx="554.5" cy="359.0" r="1.55"/><circle cx="554.9" cy="361.0" r="1.55"/><circle cx="555.2" cy="363.0" r="1.55"/><circle cx="554.6" cy="365.0" r="1.55"/><circle cx="555.0" cy="367.0" r="1.55"/><circle cx="554.2" cy="369.0" r="1.55"/><circle cx="554.8" cy="371.0" r="1.55"/><circle cx="554.5" cy="373.0" r="1.55"/><circle cx="554.9" cy="375.0" r="1.55"/><circle cx="554.4" cy="377.0" r="1.55"/><circle cx="554.3" cy="379.0" r="1.55"/><circle cx="554.4" cy="381.0" r="1.55"/><circle cx="554.9" cy="383.0" r="1.55"/><circle cx="554.9" cy="385.1" r="1.55"/><circle cx="555.2" cy="387.1" r="1.55"/><circle cx="554.6" cy="389.2" r="1.55"/><circle cx="554.2" cy="391.2" r="1.55"/><circle cx="555.0" cy="393.3" r="1.55"/><circle cx="554.4" cy="395.3" r="1.55"/><circle cx="554.9" cy="397.4" r="1.55"/><circle cx="554.7" cy="402.0" r="1.55"/><circle cx="554.6" cy="404.3" r="1.55"/><circle cx="554.1" cy="406.5" r="1.55"/><circle cx="554.3" cy="408.8" r="1.55"/><circle cx="555.0" cy="411.1" r="1.55"/><circle cx="554.6" cy="413.3" r="1.55"/><circle cx="555.1" cy="415.6" r="1.55"/><circle cx="555.0" cy="334.5" r="1.55"/><circle cx="554.7" cy="423.3" r="1.55"/><circle cx="623.2" cy="339.6" r="1.55"/><circle cx="622.0" cy="341.8" r="1.55"/><circle cx="622.5" cy="344.0" r="1.55"/><circle cx="622.6" cy="346.2" r="1.55"/><circle cx="622.1" cy="348.4" r="1.55"/><circle cx="623.0" cy="350.6" r="1.55"/><circle cx="622.2" cy="352.8" r="1.55"/><circle cx="622.7" cy="355.0" r="1.55"/><circle cx="622.3" cy="358.5" r="1.55"/><circle cx="622.5" cy="360.7" r="1.55"/><circle cx="622.6" cy="362.9" r="1.55"/><circle cx="622.3" cy="365.1" r="1.55"/><circle cx="622.2" cy="367.4" r="1.55"/><circle cx="622.8" cy="369.6" r="1.55"/><circle cx="622.8" cy="371.8" r="1.55"/><circle cx="622.1" cy="374.0" r="1.55"/><circle cx="623.2" cy="376.2" r="1.55"/><circle cx="622.1" cy="384.5" r="1.55"/><circle cx="622.3" cy="386.7" r="1.55"/><circle cx="622.3" cy="388.8" r="1.55"/><circle cx="622.4" cy="391.0" r="1.55"/><circle cx="622.6" cy="393.2" r="1.55"/><circle cx="623.1" cy="395.3" r="1.55"/><circle cx="622.1" cy="397.5" r="1.55"/><circle cx="622.7" cy="404.6" r="1.55"/><circle cx="622.7" cy="407.0" r="1.55"/><circle cx="622.4" cy="414.0" r="1.55"/></g>
<line x1="524.00" y1="390.90" x2="622.60" y2="366.30" stroke="#2a2ad2" stroke-width="1.5"/>
<text x="578.90" y="429.20" class="rt"><tspan font-style="italic">R</tspan> = 0.38, <tspan font-style="italic">p</tspan> = 9e-09</text>
<line x1="631.80" y1="434.20" x2="739.50" y2="434.20" stroke="#222" stroke-width="0.9"/>
<line x1="636.80" y1="434.20" x2="636.80" y2="436.20" stroke="#222" stroke-width="0.9"/>
<text class="tk" transform="matrix(.93 0 0 1 636.8 443.4)">0</text>
<line x1="664.24" y1="434.20" x2="664.24" y2="436.20" stroke="#222" stroke-width="0.9"/>
<text class="tk" transform="matrix(.93 0 0 1 664.2 443.4)">25</text>
<line x1="691.69" y1="434.20" x2="691.69" y2="436.20" stroke="#222" stroke-width="0.9"/>
<text class="tk" transform="matrix(.93 0 0 1 691.7 443.4)">50</text>
<line x1="719.13" y1="434.20" x2="719.13" y2="436.20" stroke="#222" stroke-width="0.9"/>
<text class="tk" transform="matrix(.93 0 0 1 719.1 443.4)">75</text>
<path d="M636.80,388.50 L640.09,388.00 L643.39,387.46 L646.68,386.90 L649.97,386.31 L653.27,385.70 L656.56,385.05 L659.85,384.38 L663.15,383.68 L666.44,382.95 L669.73,382.19 L673.03,381.41 L676.32,380.60 L679.61,379.78 L682.91,378.94 L686.20,378.08 L689.49,377.21 L692.79,376.32 L696.08,375.41 L699.37,374.48 L702.67,373.53 L705.96,372.57 L709.25,371.59 L712.55,370.59 L715.84,369.57 L719.13,368.54 L722.43,367.48 L725.72,366.41 L729.01,365.33 L732.31,364.22 L735.60,363.10 L735.60,374.10 L732.31,374.56 L729.01,375.03 L725.72,375.53 L722.43,376.04 L719.13,376.56 L715.84,377.11 L712.55,377.67 L709.25,378.25 L705.96,378.85 L702.67,379.47 L699.37,380.10 L696.08,380.75 L692.79,381.42 L689.49,382.11 L686.20,382.82 L682.91,383.54 L679.61,384.28 L676.32,385.04 L673.03,385.81 L669.73,386.61 L666.44,387.43 L663.15,388.28 L659.85,389.16 L656.56,390.07 L653.27,391.00 L649.97,391.96 L646.68,392.96 L643.39,393.98 L640.09,395.02 L636.80,396.10Z" fill="#c9d0d8" fill-opacity="0.55"/>
<g fill="#000"><circle cx="636.6" cy="359.7" r="1.55"/><circle cx="636.7" cy="361.8" r="1.55"/><circle cx="637.3" cy="363.8" r="1.55"/><circle cx="637.1" cy="365.8" r="1.55"/><circle cx="636.8" cy="367.9" r="1.55"/><circle cx="636.3" cy="369.9" r="1.55"/><circle cx="636.6" cy="372.0" r="1.55"/><circle cx="637.2" cy="374.1" r="1.55"/><circle cx="636.7" cy="376.1" r="1.55"/><circle cx="636.7" cy="378.1" r="1.55"/><circle cx="637.0" cy="380.2" r="1.55"/><circle cx="636.2" cy="382.2" r="1.55"/><circle cx="637.0" cy="384.3" r="1.55"/><circle cx="637.0" cy="386.3" r="1.55"/><circle cx="636.3" cy="388.4" r="1.55"/><circle cx="636.7" cy="390.4" r="1.55"/><circle cx="637.2" cy="392.5" r="1.55"/><circle cx="636.5" cy="394.5" r="1.55"/><circle cx="636.8" cy="396.6" r="1.55"/><circle cx="636.6" cy="398.6" r="1.55"/><circle cx="636.9" cy="400.7" r="1.55"/><circle cx="636.7" cy="402.8" r="1.55"/><circle cx="636.6" cy="404.8" r="1.55"/><circle cx="637.3" cy="406.8" r="1.55"/><circle cx="637.0" cy="408.9" r="1.55"/><circle cx="637.4" cy="410.9" r="1.55"/><circle cx="636.6" cy="413.0" r="1.55"/><circle cx="636.8" cy="415.0" r="1.55"/><circle cx="636.6" cy="417.1" r="1.55"/><circle cx="637.2" cy="419.1" r="1.55"/><circle cx="636.6" cy="421.2" r="1.55"/><circle cx="637.0" cy="423.2" r="1.55"/><circle cx="636.4" cy="425.3" r="1.55"/><circle cx="636.9" cy="427.3" r="1.55"/><circle cx="636.5" cy="429.4" r="1.55"/><circle cx="637.3" cy="352.6" r="1.55"/><circle cx="636.6" cy="356.2" r="1.55"/><circle cx="637.3" cy="339.6" r="1.55"/><circle cx="636.9" cy="346.7" r="1.55"/><circle cx="652.0" cy="346.7" r="1.55"/><circle cx="652.2" cy="348.7" r="1.55"/><circle cx="652.7" cy="350.8" r="1.55"/><circle cx="652.4" cy="352.8" r="1.55"/><circle cx="652.6" cy="354.8" r="1.55"/><circle cx="652.2" cy="356.9" r="1.55"/><circle cx="652.3" cy="358.9" r="1.55"/><circle cx="651.7" cy="360.9" r="1.55"/><circle cx="652.6" cy="363.0" r="1.55"/><circle cx="652.3" cy="365.0" r="1.55"/><circle cx="652.3" cy="367.0" r="1.55"/><circle cx="651.9" cy="369.1" r="1.55"/><circle cx="652.5" cy="371.1" r="1.55"/><circle cx="652.2" cy="373.1" r="1.55"/><circle cx="652.0" cy="375.2" r="1.55"/><circle cx="652.8" cy="377.2" r="1.55"/><circle cx="652.5" cy="379.2" r="1.55"/><circle cx="652.4" cy="381.3" r="1.55"/><circle cx="652.6" cy="383.3" r="1.55"/><circle cx="652.4" cy="385.7" r="1.55"/><circle cx="652.0" cy="387.7" r="1.55"/><circle cx="652.7" cy="389.8" r="1.55"/><circle cx="652.7" cy="391.8" r="1.55"/><circle cx="652.4" cy="393.8" r="1.55"/><circle cx="652.1" cy="395.8" r="1.55"/><circle cx="652.2" cy="397.9" r="1.55"/><circle cx="651.6" cy="399.9" r="1.55"/><circle cx="652.6" cy="408.1" r="1.55"/><circle cx="652.6" cy="410.5" r="1.55"/><circle cx="652.3" cy="412.8" r="1.55"/><circle cx="652.1" cy="415.2" r="1.55"/><circle cx="652.5" cy="334.9" r="1.55"/><circle cx="651.7" cy="424.7" r="1.55"/><circle cx="667.4" cy="343.2" r="1.55"/><circle cx="667.2" cy="345.4" r="1.55"/><circle cx="667.7" cy="347.5" r="1.55"/><circle cx="667.4" cy="349.7" r="1.55"/><circle cx="667.7" cy="351.9" r="1.55"/><circle cx="668.0" cy="354.0" r="1.55"/><circle cx="667.4" cy="356.2" r="1.55"/><circle cx="667.1" cy="363.3" r="1.55"/><circle cx="667.0" cy="366.2" r="1.55"/><circle cx="667.9" cy="369.2" r="1.55"/><circle cx="667.5" cy="372.7" r="1.55"/><circle cx="667.5" cy="374.7" r="1.55"/><circle cx="667.0" cy="376.7" r="1.55"/><circle cx="667.1" cy="378.7" r="1.55"/><circle cx="666.9" cy="380.7" r="1.55"/><circle cx="668.0" cy="382.8" r="1.55"/><circle cx="667.0" cy="384.8" r="1.55"/><circle cx="667.3" cy="386.8" r="1.55"/><circle cx="667.5" cy="388.8" r="1.55"/><circle cx="667.6" cy="390.8" r="1.55"/><circle cx="667.2" cy="392.8" r="1.55"/><circle cx="667.7" cy="397.5" r="1.55"/><circle cx="667.7" cy="399.9" r="1.55"/><circle cx="668.1" cy="402.2" r="1.55"/><circle cx="667.1" cy="404.6" r="1.55"/><circle cx="667.3" cy="407.0" r="1.55"/><circle cx="667.1" cy="412.9" r="1.55"/><circle cx="667.3" cy="415.2" r="1.55"/><circle cx="667.2" cy="417.6" r="1.55"/><circle cx="667.1" cy="338.4" r="1.55"/><circle cx="736.0" cy="338.4" r="1.55"/><circle cx="735.3" cy="340.4" r="1.55"/><circle cx="735.9" cy="342.4" r="1.55"/><circle cx="736.0" cy="344.4" r="1.55"/><circle cx="736.0" cy="346.4" r="1.55"/><circle cx="735.0" cy="348.4" r="1.55"/><circle cx="735.7" cy="350.4" r="1.55"/><circle cx="736.0" cy="352.4" r="1.55"/><circle cx="735.8" cy="354.4" r="1.55"/><circle cx="735.7" cy="356.4" r="1.55"/><circle cx="735.5" cy="358.4" r="1.55"/><circle cx="736.0" cy="360.5" r="1.55"/><circle cx="735.6" cy="362.5" r="1.55"/><circle cx="735.4" cy="364.5" r="1.55"/><circle cx="735.6" cy="366.5" r="1.55"/><circle cx="735.6" cy="368.5" r="1.55"/><circle cx="735.2" cy="370.5" r="1.55"/><circle cx="735.8" cy="372.5" r="1.55"/><circle cx="736.0" cy="374.5" r="1.55"/><circle cx="735.8" cy="376.5" r="1.55"/><circle cx="735.0" cy="378.5" r="1.55"/><circle cx="735.5" cy="382.0" r="1.55"/><circle cx="735.9" cy="384.0" r="1.55"/><circle cx="735.2" cy="386.1" r="1.55"/><circle cx="735.6" cy="388.1" r="1.55"/><circle cx="735.8" cy="390.2" r="1.55"/><circle cx="735.6" cy="392.2" r="1.55"/><circle cx="735.4" cy="394.3" r="1.55"/><circle cx="735.0" cy="396.3" r="1.55"/><circle cx="735.8" cy="398.4" r="1.55"/><circle cx="735.2" cy="400.4" r="1.55"/><circle cx="735.7" cy="402.5" r="1.55"/><circle cx="735.6" cy="404.5" r="1.55"/></g>
<line x1="636.80" y1="392.30" x2="735.60" y2="368.60" stroke="#2a2ad2" stroke-width="1.5"/>
<text x="693.60" y="429.70" class="rt"><tspan font-style="italic">R</tspan> = 0.32, <tspan font-style="italic">p</tspan> = 5.5e-07</text>
<text class="xl" transform="matrix(.93 0 0 1 629.0 452.4)">Days post plasma infusion (days ppi)</text>
</svg></body></html>
